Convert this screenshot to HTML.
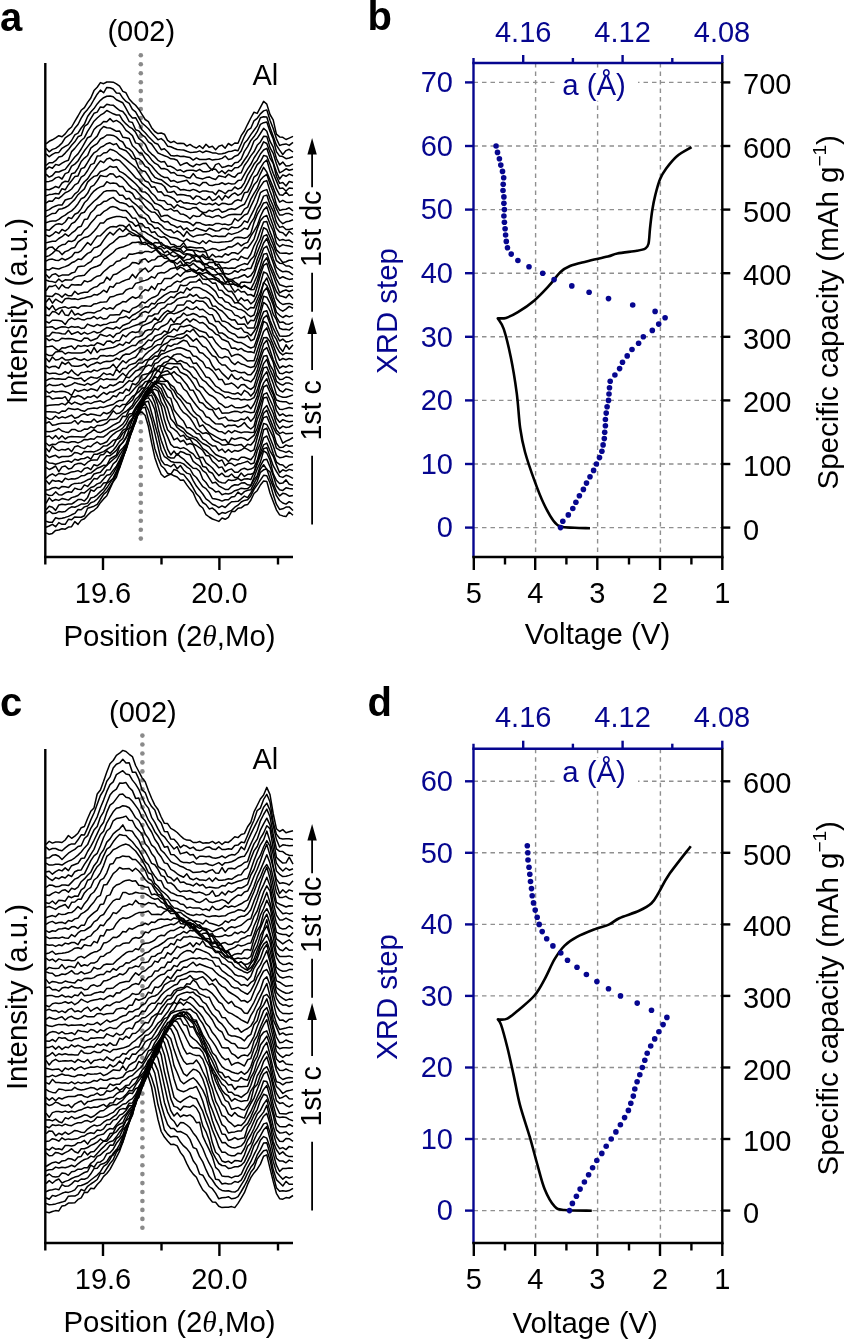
<!DOCTYPE html><html><head><meta charset="utf-8"><style>html,body{margin:0;padding:0;background:#fff;overflow:hidden}svg{display:block;will-change:transform}text{font-family:"Liberation Sans",sans-serif}</style></head><body>
<svg width="845" height="1341" viewBox="0 0 845 1341">
<rect width="845" height="1341" fill="#fff"/>
<text x="0.0" y="31.0" font-size="40" text-anchor="start" fill="#000" font-weight="bold" >a</text>
<text x="141.3" y="41.0" font-size="29" text-anchor="middle" fill="#000" font-weight="normal" >(002)</text>
<g fill="#8a8a8a"><circle cx="140.8" cy="55.3" r="2.3"/><circle cx="140.8" cy="64.2" r="2.3"/><circle cx="140.8" cy="73.2" r="2.3"/><circle cx="140.8" cy="82.2" r="2.3"/><circle cx="140.8" cy="91.1" r="2.3"/><circle cx="140.8" cy="100.1" r="2.3"/><circle cx="140.8" cy="109.0" r="2.3"/><circle cx="140.8" cy="118.0" r="2.3"/><circle cx="140.8" cy="126.9" r="2.3"/><circle cx="140.8" cy="135.9" r="2.3"/><circle cx="140.8" cy="144.8" r="2.3"/><circle cx="140.8" cy="153.8" r="2.3"/><circle cx="140.8" cy="162.7" r="2.3"/><circle cx="140.8" cy="171.7" r="2.3"/><circle cx="140.8" cy="180.6" r="2.3"/><circle cx="140.8" cy="189.6" r="2.3"/><circle cx="140.8" cy="198.5" r="2.3"/><circle cx="140.8" cy="207.4" r="2.3"/><circle cx="140.8" cy="216.4" r="2.3"/><circle cx="140.8" cy="225.4" r="2.3"/><circle cx="140.8" cy="234.3" r="2.3"/><circle cx="140.8" cy="243.2" r="2.3"/><circle cx="140.8" cy="252.2" r="2.3"/><circle cx="140.8" cy="261.2" r="2.3"/><circle cx="140.8" cy="270.1" r="2.3"/><circle cx="140.8" cy="279.1" r="2.3"/><circle cx="140.8" cy="288.0" r="2.3"/><circle cx="140.8" cy="297.0" r="2.3"/><circle cx="140.8" cy="305.9" r="2.3"/><circle cx="140.8" cy="314.9" r="2.3"/><circle cx="140.8" cy="323.8" r="2.3"/><circle cx="140.8" cy="332.8" r="2.3"/><circle cx="140.8" cy="341.7" r="2.3"/><circle cx="140.8" cy="350.7" r="2.3"/><circle cx="140.8" cy="359.6" r="2.3"/><circle cx="140.8" cy="368.6" r="2.3"/><circle cx="140.8" cy="377.5" r="2.3"/><circle cx="140.8" cy="386.5" r="2.3"/><circle cx="140.8" cy="395.4" r="2.3"/><circle cx="140.8" cy="404.4" r="2.3"/><circle cx="140.8" cy="413.3" r="2.3"/><circle cx="140.8" cy="422.3" r="2.3"/><circle cx="140.8" cy="431.2" r="2.3"/><circle cx="140.8" cy="440.2" r="2.3"/><circle cx="140.8" cy="449.1" r="2.3"/><circle cx="140.8" cy="458.1" r="2.3"/><circle cx="140.8" cy="467.0" r="2.3"/><circle cx="140.8" cy="476.0" r="2.3"/><circle cx="140.8" cy="484.9" r="2.3"/><circle cx="140.8" cy="493.9" r="2.3"/><circle cx="140.8" cy="502.8" r="2.3"/><circle cx="140.8" cy="511.8" r="2.3"/><circle cx="140.8" cy="520.7" r="2.3"/><circle cx="140.8" cy="529.7" r="2.3"/><circle cx="140.8" cy="538.6" r="2.3"/></g>
<g fill="none" stroke="#000" stroke-width="1.5" stroke-linejoin="round">
<path d="M46.0,532.9 L49.2,534.2 L52.4,533.4 L55.6,530.4 L58.8,530.0 L62.0,528.7 L65.2,529.2 L68.4,527.1 L71.6,526.7 L74.8,521.6 L78.0,524.4 L81.2,520.1 L84.4,518.8 L87.6,515.2 L90.8,512.1 L94.0,510.3 L97.2,507.5 L100.4,502.7 L103.6,498.9 L106.8,495.7 L110.0,488.6 L113.2,481.8 L116.4,477.3 L119.6,467.5 L122.8,456.2 L126.0,447.1 L129.2,436.7 L132.4,425.5 L135.6,416.7 L138.8,413.0 L142.0,412.0 L145.2,415.5 L148.4,426.5 L151.6,442.8 L154.8,457.4 L158.0,466.8 L161.2,474.2 L164.4,477.3 L167.6,475.5 L170.8,474.0 L174.0,475.8 L177.2,477.0 L180.4,480.3 L183.6,480.1 L186.8,484.9 L190.0,489.1 L193.2,492.8 L196.4,500.2 L199.6,505.4 L202.8,508.0 L206.0,514.7 L209.2,517.0 L212.4,519.0 L215.6,520.1 L218.8,521.4 L222.0,518.0 L225.2,519.3 L228.4,517.3 L231.6,511.5 L234.8,511.6 L238.0,508.3 L241.2,507.8 L244.4,505.3 L247.6,504.6 L250.8,500.3 L254.0,493.5 L257.2,490.7 L260.4,485.0 L263.6,481.0 L266.8,481.4 L270.0,493.0 L273.2,501.6 L276.4,509.8 L279.6,514.9 L282.8,515.9 L286.0,516.6 L289.2,512.0 L293.0,515.2"/>
<path d="M46.0,527.2 L49.2,526.0 L52.4,524.3 L55.6,526.7 L58.8,522.6 L62.0,524.3 L65.2,524.3 L68.4,519.3 L71.6,519.8 L74.8,516.9 L78.0,517.3 L81.2,517.2 L84.4,515.7 L87.6,508.3 L90.8,507.3 L94.0,506.2 L97.2,504.4 L100.4,499.5 L103.6,494.3 L106.8,491.7 L110.0,486.7 L113.2,481.1 L116.4,474.0 L119.6,467.9 L122.8,459.0 L126.0,448.5 L129.2,437.9 L132.4,426.2 L135.6,418.3 L138.8,413.8 L142.0,407.9 L145.2,407.2 L148.4,419.5 L151.6,431.8 L154.8,448.4 L158.0,458.0 L161.2,465.7 L164.4,468.5 L167.6,473.3 L170.8,474.4 L174.0,469.5 L177.2,470.5 L180.4,473.8 L183.6,474.4 L186.8,478.6 L190.0,482.5 L193.2,487.8 L196.4,493.8 L199.6,497.0 L202.8,502.5 L206.0,504.6 L209.2,508.9 L212.4,508.1 L215.6,510.7 L218.8,514.6 L222.0,512.6 L225.2,513.3 L228.4,511.6 L231.6,510.4 L234.8,507.2 L238.0,505.2 L241.2,502.0 L244.4,500.4 L247.6,499.8 L250.8,495.9 L254.0,489.4 L257.2,484.9 L260.4,480.2 L263.6,475.3 L266.8,475.8 L270.0,483.0 L273.2,494.6 L276.4,504.2 L279.6,509.4 L282.8,508.8 L286.0,507.1 L289.2,506.9 L293.0,510.5"/>
<path d="M46.0,521.3 L49.2,522.3 L52.4,522.3 L55.6,517.8 L58.8,518.8 L62.0,518.2 L65.2,517.4 L68.4,516.4 L71.6,514.8 L74.8,513.4 L78.0,509.6 L81.2,509.7 L84.4,506.9 L87.6,506.0 L90.8,502.8 L94.0,501.6 L97.2,499.0 L100.4,495.3 L103.6,491.9 L106.8,487.8 L110.0,482.9 L113.2,478.4 L116.4,472.1 L119.6,466.4 L122.8,457.9 L126.0,449.5 L129.2,437.0 L132.4,429.9 L135.6,418.4 L138.8,410.8 L142.0,406.3 L145.2,403.8 L148.4,409.8 L151.6,419.7 L154.8,433.1 L158.0,446.8 L161.2,460.0 L164.4,464.4 L167.6,465.1 L170.8,466.7 L174.0,464.0 L177.2,468.8 L180.4,465.5 L183.6,470.2 L186.8,473.1 L190.0,474.1 L193.2,480.6 L196.4,486.1 L199.6,489.9 L202.8,494.0 L206.0,498.9 L209.2,501.2 L212.4,504.2 L215.6,505.5 L218.8,507.7 L222.0,505.8 L225.2,507.5 L228.4,504.4 L231.6,501.7 L234.8,501.6 L238.0,501.3 L241.2,498.8 L244.4,496.1 L247.6,497.6 L250.8,492.8 L254.0,487.1 L257.2,481.5 L260.4,472.3 L263.6,469.8 L266.8,469.1 L270.0,478.6 L273.2,486.6 L276.4,495.7 L279.6,500.5 L282.8,503.0 L286.0,504.1 L289.2,501.7 L293.0,503.1"/>
<path d="M46.0,513.6 L49.2,511.0 L52.4,513.4 L55.6,513.3 L58.8,511.6 L62.0,511.9 L65.2,511.5 L68.4,508.7 L71.6,506.8 L74.8,507.3 L78.0,505.9 L81.2,504.1 L84.4,504.1 L87.6,503.1 L90.8,498.0 L94.0,497.1 L97.2,494.8 L100.4,491.6 L103.6,488.8 L106.8,483.4 L110.0,481.0 L113.2,478.3 L116.4,471.3 L119.6,463.2 L122.8,457.5 L126.0,450.0 L129.2,439.5 L132.4,428.5 L135.6,422.0 L138.8,410.0 L142.0,406.2 L145.2,402.0 L148.4,401.3 L151.6,412.7 L154.8,424.2 L158.0,435.9 L161.2,450.0 L164.4,456.7 L167.6,458.7 L170.8,461.4 L174.0,462.2 L177.2,462.4 L180.4,462.6 L183.6,463.9 L186.8,466.8 L190.0,469.0 L193.2,474.7 L196.4,477.5 L199.6,482.1 L202.8,486.7 L206.0,488.6 L209.2,492.6 L212.4,498.5 L215.6,499.1 L218.8,499.7 L222.0,501.1 L225.2,499.7 L228.4,499.7 L231.6,496.9 L234.8,496.4 L238.0,492.1 L241.2,494.7 L244.4,491.6 L247.6,490.2 L250.8,489.8 L254.0,483.3 L257.2,477.4 L260.4,469.1 L263.6,464.7 L266.8,469.5 L270.0,471.9 L273.2,483.0 L276.4,491.2 L279.6,495.9 L282.8,493.3 L286.0,494.1 L289.2,496.2 L293.0,495.4"/>
<path d="M46.0,509.8 L49.2,506.3 L52.4,507.2 L55.6,510.4 L58.8,505.0 L62.0,504.2 L65.2,504.7 L68.4,503.9 L71.6,504.1 L74.8,502.0 L78.0,499.6 L81.2,499.4 L84.4,501.1 L87.6,497.4 L90.8,489.9 L94.0,491.2 L97.2,487.7 L100.4,487.1 L103.6,483.0 L106.8,482.6 L110.0,477.6 L113.2,473.4 L116.4,467.7 L119.6,461.7 L122.8,455.6 L126.0,449.2 L129.2,439.5 L132.4,429.1 L135.6,422.0 L138.8,412.1 L142.0,404.8 L145.2,399.2 L148.4,397.6 L151.6,402.1 L154.8,409.7 L158.0,428.1 L161.2,440.3 L164.4,449.0 L167.6,456.5 L170.8,458.0 L174.0,458.1 L177.2,453.7 L180.4,456.9 L183.6,459.1 L186.8,462.4 L190.0,465.4 L193.2,468.2 L196.4,468.5 L199.6,471.3 L202.8,479.2 L206.0,482.5 L209.2,487.4 L212.4,489.0 L215.6,491.9 L218.8,491.2 L222.0,494.7 L225.2,493.6 L228.4,494.0 L231.6,493.0 L234.8,490.7 L238.0,489.8 L241.2,488.2 L244.4,488.8 L247.6,488.6 L250.8,486.0 L254.0,479.6 L257.2,475.6 L260.4,465.8 L263.6,460.1 L266.8,459.3 L270.0,466.8 L273.2,475.4 L276.4,485.7 L279.6,489.8 L282.8,490.4 L286.0,487.8 L289.2,488.6 L293.0,489.1"/>
<path d="M46.0,503.4 L49.2,497.8 L52.4,501.2 L55.6,499.5 L58.8,500.4 L62.0,498.6 L65.2,499.2 L68.4,500.1 L71.6,497.6 L74.8,496.7 L78.0,495.5 L81.2,492.6 L84.4,492.9 L87.6,490.2 L90.8,487.5 L94.0,486.5 L97.2,483.9 L100.4,482.7 L103.6,478.9 L106.8,475.2 L110.0,474.5 L113.2,470.1 L116.4,466.1 L119.6,460.0 L122.8,453.0 L126.0,445.6 L129.2,437.8 L132.4,430.7 L135.6,420.7 L138.8,409.9 L142.0,404.5 L145.2,397.1 L148.4,396.0 L151.6,395.1 L154.8,402.6 L158.0,416.5 L161.2,429.2 L164.4,438.2 L167.6,449.1 L170.8,454.9 L174.0,451.0 L177.2,455.2 L180.4,451.5 L183.6,452.5 L186.8,454.3 L190.0,454.8 L193.2,461.4 L196.4,463.8 L199.6,466.0 L202.8,470.7 L206.0,472.9 L209.2,478.2 L212.4,483.1 L215.6,482.2 L218.8,485.8 L222.0,487.7 L225.2,489.4 L228.4,489.5 L231.6,486.2 L234.8,484.7 L238.0,485.1 L241.2,483.1 L244.4,482.7 L247.6,484.8 L250.8,485.2 L254.0,477.6 L257.2,469.0 L260.4,462.1 L263.6,450.9 L266.8,453.0 L270.0,460.2 L273.2,473.6 L276.4,480.3 L279.6,483.5 L282.8,483.1 L286.0,479.9 L289.2,484.2 L293.0,485.3"/>
<path d="M46.0,493.9 L49.2,495.5 L52.4,495.3 L55.6,491.9 L58.8,494.8 L62.0,494.9 L65.2,492.8 L68.4,491.8 L71.6,492.2 L74.8,488.1 L78.0,489.3 L81.2,489.4 L84.4,484.9 L87.6,486.4 L90.8,482.8 L94.0,478.6 L97.2,479.1 L100.4,475.6 L103.6,474.8 L106.8,469.9 L110.0,469.8 L113.2,463.8 L116.4,461.2 L119.6,455.2 L122.8,450.1 L126.0,445.7 L129.2,437.0 L132.4,428.0 L135.6,418.3 L138.8,413.3 L142.0,405.2 L145.2,397.8 L148.4,394.7 L151.6,391.8 L154.8,396.2 L158.0,405.6 L161.2,418.6 L164.4,429.6 L167.6,436.9 L170.8,444.4 L174.0,447.2 L177.2,447.2 L180.4,448.6 L183.6,447.6 L186.8,449.3 L190.0,452.0 L193.2,453.9 L196.4,458.1 L199.6,459.0 L202.8,466.4 L206.0,467.2 L209.2,471.7 L212.4,473.2 L215.6,478.6 L218.8,481.6 L222.0,482.7 L225.2,483.0 L228.4,479.8 L231.6,480.4 L234.8,480.0 L238.0,478.4 L241.2,480.5 L244.4,478.9 L247.6,478.8 L250.8,479.6 L254.0,472.8 L257.2,464.3 L260.4,455.6 L263.6,448.8 L266.8,447.6 L270.0,456.4 L273.2,465.7 L276.4,471.4 L279.6,476.4 L282.8,477.4 L286.0,475.3 L289.2,476.3 L293.0,478.3"/>
<path d="M46.0,490.0 L49.2,489.7 L52.4,488.0 L55.6,487.4 L58.8,488.8 L62.0,486.4 L65.2,486.8 L68.4,487.6 L71.6,484.6 L74.8,483.4 L78.0,483.3 L81.2,483.0 L84.4,481.6 L87.6,479.8 L90.8,478.7 L94.0,474.0 L97.2,473.0 L100.4,472.2 L103.6,468.4 L106.8,465.2 L110.0,462.4 L113.2,459.5 L116.4,456.8 L119.6,451.3 L122.8,447.9 L126.0,444.0 L129.2,434.7 L132.4,429.0 L135.6,419.7 L138.8,409.7 L142.0,403.5 L145.2,396.3 L148.4,394.2 L151.6,389.3 L154.8,394.3 L158.0,399.8 L161.2,405.8 L164.4,419.8 L167.6,429.8 L170.8,433.3 L174.0,439.8 L177.2,438.1 L180.4,441.8 L183.6,440.3 L186.8,444.7 L190.0,443.5 L193.2,444.7 L196.4,451.7 L199.6,457.6 L202.8,457.2 L206.0,462.8 L209.2,465.3 L212.4,468.0 L215.6,472.0 L218.8,475.6 L222.0,473.2 L225.2,476.6 L228.4,476.6 L231.6,474.0 L234.8,477.6 L238.0,477.4 L241.2,473.0 L244.4,476.4 L247.6,474.3 L250.8,474.3 L254.0,473.0 L257.2,462.2 L260.4,452.7 L263.6,444.9 L266.8,443.1 L270.0,450.8 L273.2,456.3 L276.4,464.9 L279.6,472.6 L282.8,469.8 L286.0,471.1 L289.2,469.4 L293.0,470.5"/>
<path d="M46.0,480.4 L49.2,484.1 L52.4,480.2 L55.6,481.2 L58.8,480.8 L62.0,482.2 L65.2,478.2 L68.4,479.6 L71.6,478.7 L74.8,479.0 L78.0,478.0 L81.2,475.8 L84.4,475.6 L87.6,473.5 L90.8,473.1 L94.0,470.7 L97.2,468.2 L100.4,467.0 L103.6,465.3 L106.8,465.4 L110.0,459.0 L113.2,457.0 L116.4,455.1 L119.6,446.3 L122.8,442.1 L126.0,437.4 L129.2,432.6 L132.4,429.1 L135.6,418.8 L138.8,412.2 L142.0,403.0 L145.2,393.6 L148.4,389.0 L151.6,390.5 L154.8,389.1 L158.0,391.2 L161.2,401.9 L164.4,407.2 L167.6,419.5 L170.8,427.2 L174.0,429.2 L177.2,431.9 L180.4,436.4 L183.6,435.2 L186.8,439.6 L190.0,438.8 L193.2,443.8 L196.4,445.5 L199.6,447.8 L202.8,450.5 L206.0,455.5 L209.2,456.0 L212.4,461.4 L215.6,464.0 L218.8,467.8 L222.0,466.9 L225.2,472.0 L228.4,469.9 L231.6,468.9 L234.8,472.2 L238.0,472.2 L241.2,469.4 L244.4,468.3 L247.6,469.7 L250.8,469.1 L254.0,467.3 L257.2,460.6 L260.4,448.5 L263.6,437.8 L266.8,436.0 L270.0,443.5 L273.2,453.2 L276.4,462.1 L279.6,464.4 L282.8,465.0 L286.0,468.0 L289.2,465.2 L293.0,464.3"/>
<path d="M46.0,478.4 L49.2,475.5 L52.4,473.8 L55.6,475.9 L58.8,473.5 L62.0,473.7 L65.2,474.4 L68.4,473.3 L71.6,471.9 L74.8,471.5 L78.0,470.6 L81.2,472.1 L84.4,468.5 L87.6,467.6 L90.8,469.7 L94.0,464.7 L97.2,465.8 L100.4,463.7 L103.6,459.7 L106.8,455.7 L110.0,455.7 L113.2,453.2 L116.4,450.4 L119.6,445.5 L122.8,442.8 L126.0,438.1 L129.2,429.0 L132.4,425.9 L135.6,417.2 L138.8,408.9 L142.0,402.2 L145.2,398.8 L148.4,392.5 L151.6,385.4 L154.8,386.5 L158.0,388.4 L161.2,393.9 L164.4,401.1 L167.6,408.1 L170.8,418.8 L174.0,422.4 L177.2,427.5 L180.4,430.1 L183.6,432.1 L186.8,436.1 L190.0,437.8 L193.2,438.6 L196.4,440.6 L199.6,443.9 L202.8,448.7 L206.0,450.6 L209.2,453.8 L212.4,455.8 L215.6,458.5 L218.8,461.2 L222.0,460.0 L225.2,465.8 L228.4,463.1 L231.6,463.5 L234.8,465.8 L238.0,464.0 L241.2,463.4 L244.4,462.4 L247.6,461.3 L250.8,464.0 L254.0,463.0 L257.2,451.0 L260.4,443.5 L263.6,429.8 L266.8,428.3 L270.0,438.0 L273.2,445.8 L276.4,455.6 L279.6,457.7 L282.8,457.3 L286.0,456.0 L289.2,456.8 L293.0,456.9"/>
<path d="M46.0,467.3 L49.2,469.5 L52.4,468.0 L55.6,466.0 L58.8,471.7 L62.0,466.9 L65.2,466.0 L68.4,468.9 L71.6,468.3 L74.8,464.6 L78.0,463.5 L81.2,463.3 L84.4,465.2 L87.6,462.2 L90.8,460.3 L94.0,460.0 L97.2,460.1 L100.4,454.9 L103.6,454.4 L106.8,450.9 L110.0,453.4 L113.2,450.3 L116.4,446.2 L119.6,441.4 L122.8,438.5 L126.0,430.3 L129.2,428.2 L132.4,420.1 L135.6,413.6 L138.8,407.6 L142.0,401.3 L145.2,396.3 L148.4,391.3 L151.6,386.9 L154.8,383.2 L158.0,386.0 L161.2,388.8 L164.4,396.9 L167.6,401.5 L170.8,406.5 L174.0,416.1 L177.2,424.9 L180.4,426.5 L183.6,428.5 L186.8,432.5 L190.0,434.4 L193.2,436.6 L196.4,437.6 L199.6,440.8 L202.8,443.5 L206.0,445.0 L209.2,446.9 L212.4,451.1 L215.6,454.5 L218.8,456.0 L222.0,457.2 L225.2,458.2 L228.4,461.5 L231.6,458.4 L234.8,459.2 L238.0,460.1 L241.2,457.2 L244.4,457.3 L247.6,458.5 L250.8,459.8 L254.0,455.6 L257.2,446.5 L260.4,435.5 L263.6,423.4 L266.8,424.5 L270.0,430.7 L273.2,437.2 L276.4,448.2 L279.6,450.2 L282.8,451.1 L286.0,452.4 L289.2,451.0 L293.0,453.6"/>
<path d="M46.0,460.9 L49.2,463.1 L52.4,463.3 L55.6,464.3 L58.8,463.3 L62.0,462.1 L65.2,461.6 L68.4,461.0 L71.6,462.2 L74.8,459.3 L78.0,460.3 L81.2,458.8 L84.4,458.5 L87.6,456.9 L90.8,459.1 L94.0,454.2 L97.2,454.2 L100.4,452.7 L103.6,451.6 L106.8,449.5 L110.0,447.4 L113.2,445.7 L116.4,439.6 L119.6,438.4 L122.8,433.0 L126.0,430.6 L129.2,423.8 L132.4,418.5 L135.6,413.8 L138.8,409.5 L142.0,402.1 L145.2,396.0 L148.4,392.4 L151.6,385.4 L154.8,381.3 L158.0,382.6 L161.2,384.4 L164.4,390.3 L167.6,396.9 L170.8,398.4 L174.0,409.7 L177.2,414.1 L180.4,417.9 L183.6,421.3 L186.8,427.7 L190.0,427.8 L193.2,430.1 L196.4,433.6 L199.6,434.1 L202.8,439.1 L206.0,440.7 L209.2,443.7 L212.4,445.9 L215.6,446.0 L218.8,450.9 L222.0,449.1 L225.2,452.5 L228.4,449.6 L231.6,452.3 L234.8,450.4 L238.0,451.2 L241.2,450.0 L244.4,447.8 L247.6,449.4 L250.8,451.4 L254.0,449.8 L257.2,437.8 L260.4,426.3 L263.6,417.6 L266.8,416.5 L270.0,424.0 L273.2,432.2 L276.4,443.3 L279.6,447.6 L282.8,447.3 L286.0,444.9 L289.2,446.2 L293.0,445.7"/>
<path d="M46.0,454.5 L49.2,457.5 L52.4,456.3 L55.6,455.3 L58.8,457.7 L62.0,456.5 L65.2,456.4 L68.4,456.5 L71.6,455.5 L74.8,452.4 L78.0,453.1 L81.2,454.5 L84.4,451.4 L87.6,451.8 L90.8,451.4 L94.0,451.9 L97.2,450.6 L100.4,448.8 L103.6,445.9 L106.8,445.8 L110.0,443.3 L113.2,440.2 L116.4,439.6 L119.6,435.4 L122.8,430.2 L126.0,428.8 L129.2,422.1 L132.4,418.2 L135.6,409.8 L138.8,406.2 L142.0,399.3 L145.2,393.9 L148.4,387.9 L151.6,389.5 L154.8,383.7 L158.0,382.7 L161.2,383.8 L164.4,384.2 L167.6,388.6 L170.8,390.8 L174.0,398.1 L177.2,402.5 L180.4,408.6 L183.6,412.7 L186.8,414.7 L190.0,418.0 L193.2,422.8 L196.4,428.5 L199.6,431.0 L202.8,433.6 L206.0,432.8 L209.2,434.2 L212.4,439.1 L215.6,441.3 L218.8,442.5 L222.0,444.9 L225.2,445.0 L228.4,444.0 L231.6,444.4 L234.8,445.5 L238.0,445.0 L241.2,444.4 L244.4,447.5 L247.6,444.2 L250.8,445.1 L254.0,441.3 L257.2,433.0 L260.4,423.6 L263.6,413.3 L266.8,410.3 L270.0,419.1 L273.2,427.1 L276.4,433.4 L279.6,435.7 L282.8,443.2 L286.0,441.1 L289.2,439.8 L293.0,437.5"/>
<path d="M46.0,448.3 L49.2,451.7 L52.4,446.0 L55.6,449.1 L58.8,450.6 L62.0,449.4 L65.2,450.0 L68.4,448.5 L71.6,451.6 L74.8,446.7 L78.0,445.8 L81.2,447.6 L84.4,448.6 L87.6,446.0 L90.8,446.8 L94.0,443.8 L97.2,442.0 L100.4,444.4 L103.6,443.3 L106.8,441.8 L110.0,437.4 L113.2,434.3 L116.4,431.9 L119.6,430.3 L122.8,428.0 L126.0,424.1 L129.2,417.3 L132.4,414.8 L135.6,409.6 L138.8,404.6 L142.0,399.3 L145.2,394.2 L148.4,390.9 L151.6,386.6 L154.8,383.9 L158.0,380.8 L161.2,381.5 L164.4,381.5 L167.6,380.9 L170.8,387.7 L174.0,390.8 L177.2,396.8 L180.4,399.9 L183.6,404.4 L186.8,409.1 L190.0,412.9 L193.2,416.3 L196.4,418.3 L199.6,426.5 L202.8,424.9 L206.0,429.2 L209.2,432.9 L212.4,434.7 L215.6,436.7 L218.8,438.4 L222.0,440.2 L225.2,439.5 L228.4,443.4 L231.6,438.0 L234.8,439.4 L238.0,438.2 L241.2,437.6 L244.4,438.5 L247.6,440.3 L250.8,437.8 L254.0,435.4 L257.2,428.2 L260.4,417.4 L263.6,408.9 L266.8,405.6 L270.0,412.6 L273.2,420.3 L276.4,430.0 L279.6,433.6 L282.8,432.1 L286.0,433.8 L289.2,433.5 L293.0,433.3"/>
<path d="M46.0,443.0 L49.2,445.7 L52.4,444.3 L55.6,444.5 L58.8,442.2 L62.0,441.5 L65.2,442.3 L68.4,442.8 L71.6,441.7 L74.8,441.7 L78.0,442.9 L81.2,441.6 L84.4,439.4 L87.6,439.7 L90.8,438.8 L94.0,439.2 L97.2,436.5 L100.4,436.9 L103.6,436.9 L106.8,434.6 L110.0,431.7 L113.2,430.2 L116.4,428.9 L119.6,426.7 L122.8,424.1 L126.0,419.4 L129.2,413.9 L132.4,413.4 L135.6,407.5 L138.8,403.0 L142.0,398.3 L145.2,392.1 L148.4,389.0 L151.6,386.3 L154.8,384.6 L158.0,381.2 L161.2,375.8 L164.4,379.5 L167.6,381.4 L170.8,384.9 L174.0,387.1 L177.2,393.0 L180.4,395.5 L183.6,399.4 L186.8,402.8 L190.0,403.7 L193.2,410.7 L196.4,414.3 L199.6,416.4 L202.8,421.2 L206.0,423.9 L209.2,425.2 L212.4,427.9 L215.6,429.5 L218.8,431.6 L222.0,431.8 L225.2,433.8 L228.4,430.7 L231.6,432.8 L234.8,430.6 L238.0,431.8 L241.2,432.8 L244.4,431.9 L247.6,431.9 L250.8,432.6 L254.0,432.3 L257.2,419.5 L260.4,411.6 L263.6,397.9 L266.8,397.3 L270.0,406.3 L273.2,413.3 L276.4,423.7 L279.6,428.7 L282.8,426.1 L286.0,427.5 L289.2,427.0 L293.0,424.8"/>
<path d="M46.0,436.9 L49.2,436.0 L52.4,438.7 L55.6,435.6 L58.8,439.0 L62.0,435.8 L65.2,439.0 L68.4,436.9 L71.6,436.6 L74.8,436.8 L78.0,436.7 L81.2,437.0 L84.4,437.1 L87.6,433.9 L90.8,432.1 L94.0,429.6 L97.2,431.9 L100.4,432.6 L103.6,431.0 L106.8,429.4 L110.0,427.3 L113.2,425.1 L116.4,423.5 L119.6,421.9 L122.8,416.2 L126.0,416.4 L129.2,409.9 L132.4,407.8 L135.6,403.0 L138.8,399.1 L142.0,393.9 L145.2,389.5 L148.4,386.8 L151.6,382.1 L154.8,383.8 L158.0,377.6 L161.2,375.6 L164.4,374.9 L167.6,374.3 L170.8,373.6 L174.0,378.7 L177.2,382.3 L180.4,383.3 L183.6,389.0 L186.8,391.3 L190.0,396.8 L193.2,401.3 L196.4,405.5 L199.6,409.3 L202.8,411.3 L206.0,416.7 L209.2,417.7 L212.4,421.2 L215.6,423.8 L218.8,424.0 L222.0,423.9 L225.2,427.2 L228.4,425.2 L231.6,425.5 L234.8,424.9 L238.0,427.1 L241.2,425.5 L244.4,422.5 L247.6,426.7 L250.8,429.0 L254.0,426.3 L257.2,413.9 L260.4,404.2 L263.6,394.4 L266.8,392.8 L270.0,399.8 L273.2,406.7 L276.4,418.2 L279.6,422.3 L282.8,419.7 L286.0,420.9 L289.2,421.7 L293.0,421.2"/>
<path d="M46.0,431.4 L49.2,431.7 L52.4,431.3 L55.6,430.3 L58.8,428.5 L62.0,431.0 L65.2,431.9 L68.4,432.5 L71.6,429.6 L74.8,429.4 L78.0,431.2 L81.2,430.9 L84.4,429.1 L87.6,429.2 L90.8,426.8 L94.0,428.1 L97.2,425.5 L100.4,425.6 L103.6,424.7 L106.8,423.0 L110.0,419.4 L113.2,419.5 L116.4,419.1 L119.6,416.3 L122.8,413.3 L126.0,411.5 L129.2,408.6 L132.4,405.2 L135.6,399.2 L138.8,396.4 L142.0,391.9 L145.2,387.2 L148.4,382.5 L151.6,380.9 L154.8,376.7 L158.0,378.2 L161.2,373.1 L164.4,371.6 L167.6,370.8 L170.8,374.1 L174.0,371.6 L177.2,374.7 L180.4,376.7 L183.6,380.8 L186.8,384.5 L190.0,389.9 L193.2,390.3 L196.4,396.2 L199.6,402.3 L202.8,403.2 L206.0,407.1 L209.2,409.3 L212.4,409.7 L215.6,415.3 L218.8,418.9 L222.0,418.1 L225.2,417.1 L228.4,420.4 L231.6,420.2 L234.8,421.3 L238.0,420.8 L241.2,418.9 L244.4,419.7 L247.6,417.0 L250.8,421.3 L254.0,417.8 L257.2,409.8 L260.4,399.2 L263.6,387.0 L266.8,385.1 L270.0,392.3 L273.2,399.2 L276.4,410.7 L279.6,415.5 L282.8,413.8 L286.0,416.2 L289.2,415.3 L293.0,415.7"/>
<path d="M46.0,423.2 L49.2,421.8 L52.4,425.2 L55.6,424.8 L58.8,423.8 L62.0,423.2 L65.2,423.3 L68.4,423.3 L71.6,422.7 L74.8,420.5 L78.0,424.1 L81.2,420.7 L84.4,422.0 L87.6,421.7 L90.8,422.1 L94.0,419.0 L97.2,422.2 L100.4,420.8 L103.6,420.0 L106.8,419.6 L110.0,415.5 L113.2,410.8 L116.4,413.7 L119.6,413.0 L122.8,410.4 L126.0,405.4 L129.2,403.0 L132.4,400.3 L135.6,394.0 L138.8,391.9 L142.0,388.2 L145.2,387.5 L148.4,380.8 L151.6,380.4 L154.8,375.2 L158.0,370.1 L161.2,373.2 L164.4,367.2 L167.6,368.3 L170.8,369.4 L174.0,366.8 L177.2,367.2 L180.4,372.3 L183.6,373.7 L186.8,375.2 L190.0,378.9 L193.2,383.5 L196.4,389.1 L199.6,391.3 L202.8,396.4 L206.0,401.4 L209.2,404.2 L212.4,407.3 L215.6,409.6 L218.8,407.8 L222.0,413.2 L225.2,413.1 L228.4,413.1 L231.6,412.0 L234.8,411.2 L238.0,411.6 L241.2,412.8 L244.4,411.2 L247.6,412.0 L250.8,412.7 L254.0,412.2 L257.2,401.7 L260.4,391.3 L263.6,382.9 L266.8,378.7 L270.0,388.0 L273.2,394.3 L276.4,405.1 L279.6,409.2 L282.8,409.4 L286.0,408.4 L289.2,407.6 L293.0,408.5"/>
<path d="M46.0,417.2 L49.2,419.2 L52.4,418.9 L55.6,416.0 L58.8,418.4 L62.0,416.8 L65.2,417.9 L68.4,416.5 L71.6,415.1 L74.8,418.3 L78.0,417.3 L81.2,414.9 L84.4,413.7 L87.6,415.2 L90.8,414.0 L94.0,414.6 L97.2,415.3 L100.4,415.8 L103.6,412.5 L106.8,413.8 L110.0,412.3 L113.2,408.8 L116.4,405.4 L119.6,406.9 L122.8,404.4 L126.0,404.3 L129.2,400.4 L132.4,396.5 L135.6,394.6 L138.8,387.6 L142.0,385.8 L145.2,381.7 L148.4,381.0 L151.6,376.1 L154.8,368.1 L158.0,371.4 L161.2,365.9 L164.4,366.3 L167.6,363.2 L170.8,363.4 L174.0,363.7 L177.2,363.7 L180.4,363.6 L183.6,368.8 L186.8,370.1 L190.0,372.7 L193.2,377.1 L196.4,379.0 L199.6,386.0 L202.8,387.5 L206.0,391.4 L209.2,394.8 L212.4,396.2 L215.6,398.6 L218.8,402.8 L222.0,404.7 L225.2,407.4 L228.4,406.9 L231.6,405.2 L234.8,407.4 L238.0,407.7 L241.2,407.7 L244.4,406.8 L247.6,405.0 L250.8,408.8 L254.0,404.0 L257.2,396.6 L260.4,383.1 L263.6,375.9 L266.8,371.8 L270.0,382.4 L273.2,391.9 L276.4,400.0 L279.6,401.3 L282.8,401.7 L286.0,401.7 L289.2,403.7 L293.0,403.2"/>
<path d="M46.0,411.7 L49.2,411.8 L52.4,412.1 L55.6,412.1 L58.8,413.4 L62.0,411.0 L65.2,411.2 L68.4,408.3 L71.6,408.9 L74.8,409.6 L78.0,408.8 L81.2,410.5 L84.4,411.3 L87.6,409.1 L90.8,408.6 L94.0,408.1 L97.2,408.5 L100.4,406.9 L103.6,407.4 L106.8,406.3 L110.0,405.3 L113.2,404.5 L116.4,402.0 L119.6,400.4 L122.8,400.6 L126.0,395.9 L129.2,394.6 L132.4,390.9 L135.6,387.3 L138.8,384.2 L142.0,380.6 L145.2,378.5 L148.4,374.5 L151.6,371.6 L154.8,370.8 L158.0,366.3 L161.2,365.6 L164.4,362.4 L167.6,361.6 L170.8,358.5 L174.0,358.9 L177.2,362.2 L180.4,360.5 L183.6,362.2 L186.8,363.2 L190.0,366.7 L193.2,367.0 L196.4,370.8 L199.6,376.1 L202.8,380.2 L206.0,382.2 L209.2,385.9 L212.4,388.9 L215.6,392.0 L218.8,393.1 L222.0,394.8 L225.2,398.1 L228.4,396.8 L231.6,398.4 L234.8,398.9 L238.0,398.4 L241.2,400.0 L244.4,399.2 L247.6,400.1 L250.8,399.4 L254.0,397.6 L257.2,390.1 L260.4,379.4 L263.6,367.9 L266.8,367.0 L270.0,374.9 L273.2,383.4 L276.4,394.3 L279.6,396.1 L282.8,397.3 L286.0,397.2 L289.2,396.2 L293.0,394.9"/>
<path d="M46.0,405.9 L49.2,405.2 L52.4,404.9 L55.6,404.8 L58.8,404.7 L62.0,403.4 L65.2,404.9 L68.4,401.9 L71.6,404.2 L74.8,402.1 L78.0,403.5 L81.2,404.7 L84.4,403.1 L87.6,402.6 L90.8,403.6 L94.0,402.1 L97.2,401.4 L100.4,400.8 L103.6,402.6 L106.8,400.6 L110.0,399.3 L113.2,395.8 L116.4,396.8 L119.6,392.6 L122.8,393.2 L126.0,389.0 L129.2,390.9 L132.4,383.5 L135.6,384.8 L138.8,381.5 L142.0,375.1 L145.2,374.2 L148.4,373.5 L151.6,370.2 L154.8,363.6 L158.0,362.5 L161.2,359.2 L164.4,357.3 L167.6,356.1 L170.8,358.1 L174.0,354.9 L177.2,354.0 L180.4,353.9 L183.6,356.1 L186.8,357.7 L190.0,357.6 L193.2,363.5 L196.4,363.0 L199.6,367.4 L202.8,371.9 L206.0,377.1 L209.2,377.7 L212.4,381.8 L215.6,386.1 L218.8,387.8 L222.0,390.6 L225.2,392.1 L228.4,392.2 L231.6,393.4 L234.8,394.0 L238.0,392.8 L241.2,395.1 L244.4,390.4 L247.6,392.3 L250.8,396.1 L254.0,392.6 L257.2,382.1 L260.4,373.0 L263.6,363.6 L266.8,359.4 L270.0,369.3 L273.2,376.6 L276.4,385.7 L279.6,390.3 L282.8,392.0 L286.0,388.9 L289.2,389.8 L293.0,391.1"/>
<path d="M46.0,396.8 L49.2,396.3 L52.4,399.1 L55.6,398.2 L58.8,398.0 L62.0,398.3 L65.2,396.7 L68.4,401.8 L71.6,396.4 L74.8,397.0 L78.0,395.5 L81.2,396.7 L84.4,399.1 L87.6,396.8 L90.8,397.2 L94.0,395.3 L97.2,397.9 L100.4,395.1 L103.6,392.5 L106.8,394.4 L110.0,391.9 L113.2,392.0 L116.4,390.1 L119.6,388.7 L122.8,386.8 L126.0,383.5 L129.2,380.6 L132.4,381.6 L135.6,377.7 L138.8,375.6 L142.0,371.9 L145.2,367.0 L148.4,365.1 L151.6,365.9 L154.8,360.2 L158.0,358.1 L161.2,354.3 L164.4,353.3 L167.6,351.7 L170.8,350.4 L174.0,349.4 L177.2,348.0 L180.4,347.8 L183.6,348.8 L186.8,350.3 L190.0,351.3 L193.2,356.0 L196.4,356.6 L199.6,359.6 L202.8,361.8 L206.0,367.5 L209.2,368.1 L212.4,370.6 L215.6,374.6 L218.8,379.5 L222.0,379.4 L225.2,384.6 L228.4,384.1 L231.6,383.0 L234.8,385.2 L238.0,388.2 L241.2,384.8 L244.4,384.6 L247.6,387.6 L250.8,389.4 L254.0,386.9 L257.2,376.1 L260.4,366.3 L263.6,356.2 L266.8,355.4 L270.0,364.9 L273.2,370.4 L276.4,381.3 L279.6,383.7 L282.8,385.1 L286.0,382.9 L289.2,383.1 L293.0,384.6"/>
<path d="M46.0,390.8 L49.2,393.1 L52.4,391.1 L55.6,391.9 L58.8,391.6 L62.0,391.2 L65.2,391.7 L68.4,392.9 L71.6,395.5 L74.8,389.6 L78.0,391.4 L81.2,390.6 L84.4,389.4 L87.6,390.7 L90.8,388.8 L94.0,389.5 L97.2,390.8 L100.4,385.8 L103.6,388.2 L106.8,387.6 L110.0,384.8 L113.2,385.7 L116.4,384.2 L119.6,381.8 L122.8,382.3 L126.0,377.1 L129.2,377.8 L132.4,374.5 L135.6,371.0 L138.8,369.8 L142.0,367.0 L145.2,365.9 L148.4,360.0 L151.6,359.1 L154.8,356.1 L158.0,356.2 L161.2,350.2 L164.4,350.9 L167.6,345.1 L170.8,346.3 L174.0,344.3 L177.2,344.1 L180.4,342.0 L183.6,340.2 L186.8,341.2 L190.0,346.3 L193.2,346.5 L196.4,347.4 L199.6,352.5 L202.8,353.3 L206.0,356.5 L209.2,359.2 L212.4,365.8 L215.6,370.0 L218.8,368.9 L222.0,373.1 L225.2,376.1 L228.4,379.2 L231.6,374.2 L234.8,378.3 L238.0,379.5 L241.2,377.0 L244.4,380.0 L247.6,380.4 L250.8,381.9 L254.0,378.2 L257.2,370.6 L260.4,358.8 L263.6,350.1 L266.8,347.6 L270.0,355.1 L273.2,362.3 L276.4,375.5 L279.6,379.4 L282.8,379.2 L286.0,377.0 L289.2,377.4 L293.0,380.1"/>
<path d="M46.0,386.5 L49.2,384.3 L52.4,385.4 L55.6,385.5 L58.8,385.0 L62.0,383.9 L65.2,386.8 L68.4,385.8 L71.6,384.6 L74.8,382.6 L78.0,383.8 L81.2,384.4 L84.4,385.3 L87.6,383.4 L90.8,385.0 L94.0,383.3 L97.2,381.7 L100.4,378.4 L103.6,379.9 L106.8,378.7 L110.0,379.6 L113.2,379.2 L116.4,379.5 L119.6,376.2 L122.8,373.2 L126.0,376.2 L129.2,371.6 L132.4,368.8 L135.6,366.7 L138.8,362.9 L142.0,363.1 L145.2,360.3 L148.4,359.3 L151.6,356.0 L154.8,353.2 L158.0,351.2 L161.2,346.7 L164.4,344.2 L167.6,342.7 L170.8,339.4 L174.0,339.4 L177.2,338.0 L180.4,338.5 L183.6,337.2 L186.8,334.7 L190.0,337.9 L193.2,341.1 L196.4,338.6 L199.6,342.4 L202.8,346.2 L206.0,347.4 L209.2,351.7 L212.4,355.7 L215.6,357.0 L218.8,362.2 L222.0,365.0 L225.2,365.0 L228.4,368.5 L231.6,371.2 L234.8,370.4 L238.0,371.9 L241.2,372.7 L244.4,372.2 L247.6,374.7 L250.8,374.8 L254.0,371.1 L257.2,364.3 L260.4,354.4 L263.6,344.1 L266.8,340.2 L270.0,350.0 L273.2,359.8 L276.4,367.4 L279.6,373.3 L282.8,373.7 L286.0,371.8 L289.2,372.7 L293.0,371.3"/>
<path d="M46.0,380.6 L49.2,379.0 L52.4,378.3 L55.6,378.9 L58.8,378.8 L62.0,379.3 L65.2,379.3 L68.4,377.0 L71.6,377.6 L74.8,378.8 L78.0,378.8 L81.2,378.1 L84.4,381.3 L87.6,379.0 L90.8,377.1 L94.0,377.8 L97.2,378.2 L100.4,376.3 L103.6,372.9 L106.8,374.6 L110.0,373.7 L113.2,375.5 L116.4,369.1 L119.6,372.4 L122.8,368.6 L126.0,368.5 L129.2,365.1 L132.4,363.9 L135.6,363.1 L138.8,359.5 L142.0,358.6 L145.2,354.6 L148.4,351.7 L151.6,349.5 L154.8,346.6 L158.0,344.7 L161.2,344.4 L164.4,338.7 L167.6,336.0 L170.8,336.4 L174.0,337.1 L177.2,334.9 L180.4,334.3 L183.6,333.6 L186.8,330.6 L190.0,331.9 L193.2,329.0 L196.4,333.2 L199.6,336.8 L202.8,336.3 L206.0,338.4 L209.2,342.4 L212.4,347.6 L215.6,352.0 L218.8,356.9 L222.0,358.1 L225.2,356.5 L228.4,357.4 L231.6,362.2 L234.8,364.6 L238.0,361.8 L241.2,364.0 L244.4,364.9 L247.6,366.6 L250.8,367.4 L254.0,366.6 L257.2,358.6 L260.4,346.9 L263.6,337.7 L266.8,337.5 L270.0,341.7 L273.2,350.3 L276.4,361.6 L279.6,368.1 L282.8,366.0 L286.0,367.2 L289.2,365.3 L293.0,366.9"/>
<path d="M46.0,372.0 L49.2,373.7 L52.4,373.2 L55.6,373.2 L58.8,374.4 L62.0,373.9 L65.2,371.6 L68.4,373.5 L71.6,369.9 L74.8,373.4 L78.0,375.6 L81.2,372.5 L84.4,372.2 L87.6,371.3 L90.8,372.1 L94.0,370.0 L97.2,371.1 L100.4,369.3 L103.6,368.5 L106.8,368.5 L110.0,367.5 L113.2,364.3 L116.4,368.4 L119.6,364.6 L122.8,360.7 L126.0,363.0 L129.2,359.9 L132.4,358.4 L135.6,357.2 L138.8,352.9 L142.0,348.0 L145.2,349.6 L148.4,347.7 L151.6,346.4 L154.8,341.6 L158.0,339.9 L161.2,338.5 L164.4,335.3 L167.6,333.3 L170.8,332.1 L174.0,328.8 L177.2,330.9 L180.4,326.3 L183.6,326.8 L186.8,325.8 L190.0,325.1 L193.2,327.1 L196.4,328.7 L199.6,330.8 L202.8,331.7 L206.0,332.8 L209.2,337.3 L212.4,337.1 L215.6,342.2 L218.8,345.8 L222.0,348.7 L225.2,348.8 L228.4,350.5 L231.6,356.4 L234.8,354.8 L238.0,354.3 L241.2,355.7 L244.4,358.4 L247.6,361.1 L250.8,360.8 L254.0,360.8 L257.2,350.8 L260.4,341.0 L263.6,331.5 L266.8,327.9 L270.0,337.2 L273.2,344.9 L276.4,353.7 L279.6,360.3 L282.8,358.5 L286.0,359.7 L289.2,358.5 L293.0,359.4"/>
<path d="M46.0,365.7 L49.2,367.8 L52.4,366.4 L55.6,366.3 L58.8,368.4 L62.0,362.1 L65.2,364.4 L68.4,362.1 L71.6,365.7 L74.8,366.2 L78.0,366.3 L81.2,365.6 L84.4,363.9 L87.6,367.1 L90.8,364.9 L94.0,363.7 L97.2,362.2 L100.4,363.7 L103.6,361.9 L106.8,361.3 L110.0,361.4 L113.2,360.6 L116.4,358.2 L119.6,359.8 L122.8,355.5 L126.0,354.0 L129.2,354.3 L132.4,352.4 L135.6,350.5 L138.8,348.0 L142.0,346.5 L145.2,343.6 L148.4,339.9 L151.6,340.8 L154.8,336.2 L158.0,334.9 L161.2,334.0 L164.4,330.9 L167.6,332.5 L170.8,325.0 L174.0,324.2 L177.2,323.8 L180.4,324.3 L183.6,321.1 L186.8,318.8 L190.0,321.9 L193.2,319.0 L196.4,320.5 L199.6,323.0 L202.8,322.6 L206.0,325.0 L209.2,328.7 L212.4,330.5 L215.6,334.1 L218.8,335.3 L222.0,339.2 L225.2,340.5 L228.4,342.0 L231.6,348.3 L234.8,348.0 L238.0,349.9 L241.2,348.4 L244.4,350.8 L247.6,351.9 L250.8,351.7 L254.0,352.9 L257.2,342.7 L260.4,333.3 L263.6,321.5 L266.8,323.1 L270.0,331.2 L273.2,339.5 L276.4,346.9 L279.6,352.3 L282.8,354.9 L286.0,352.9 L289.2,353.6 L293.0,353.4"/>
<path d="M46.0,358.3 L49.2,361.8 L52.4,357.0 L55.6,360.0 L58.8,359.5 L62.0,357.3 L65.2,359.9 L68.4,360.0 L71.6,359.3 L74.8,358.0 L78.0,359.5 L81.2,360.2 L84.4,358.8 L87.6,360.6 L90.8,359.1 L94.0,358.6 L97.2,359.1 L100.4,355.8 L103.6,355.4 L106.8,356.2 L110.0,355.4 L113.2,355.9 L116.4,354.4 L119.6,352.0 L122.8,350.8 L126.0,348.8 L129.2,347.1 L132.4,345.4 L135.6,345.4 L138.8,341.7 L142.0,339.9 L145.2,338.5 L148.4,335.4 L151.6,333.5 L154.8,328.7 L158.0,329.9 L161.2,326.7 L164.4,325.3 L167.6,323.4 L170.8,318.5 L174.0,322.6 L177.2,318.0 L180.4,316.7 L183.6,313.0 L186.8,315.5 L190.0,314.8 L193.2,313.5 L196.4,314.7 L199.6,317.0 L202.8,316.3 L206.0,317.5 L209.2,323.0 L212.4,324.3 L215.6,326.6 L218.8,332.9 L222.0,332.9 L225.2,335.0 L228.4,337.9 L231.6,338.9 L234.8,341.3 L238.0,342.5 L241.2,342.6 L244.4,344.3 L247.6,346.5 L250.8,348.0 L254.0,346.9 L257.2,338.6 L260.4,327.8 L263.6,318.1 L266.8,315.2 L270.0,323.8 L273.2,334.3 L276.4,339.4 L279.6,347.5 L282.8,351.5 L286.0,344.7 L289.2,349.2 L293.0,344.8"/>
<path d="M46.0,354.0 L49.2,355.6 L52.4,355.4 L55.6,352.1 L58.8,351.5 L62.0,351.2 L65.2,354.0 L68.4,352.4 L71.6,352.9 L74.8,353.1 L78.0,353.1 L81.2,353.1 L84.4,352.3 L87.6,349.7 L90.8,353.6 L94.0,347.5 L97.2,352.5 L100.4,349.5 L103.6,349.5 L106.8,348.4 L110.0,347.9 L113.2,347.5 L116.4,346.1 L119.6,344.0 L122.8,345.4 L126.0,342.1 L129.2,343.2 L132.4,339.6 L135.6,337.1 L138.8,336.8 L142.0,335.5 L145.2,331.0 L148.4,329.7 L151.6,329.8 L154.8,324.3 L158.0,322.3 L161.2,321.5 L164.4,317.5 L167.6,313.8 L170.8,312.9 L174.0,313.9 L177.2,312.7 L180.4,311.3 L183.6,309.9 L186.8,306.9 L190.0,308.9 L193.2,309.2 L196.4,306.8 L199.6,309.8 L202.8,309.3 L206.0,312.0 L209.2,314.5 L212.4,314.7 L215.6,321.6 L218.8,321.5 L222.0,325.4 L225.2,327.6 L228.4,331.3 L231.6,333.2 L234.8,334.3 L238.0,337.5 L241.2,337.2 L244.4,337.6 L247.6,335.6 L250.8,340.7 L254.0,339.3 L257.2,330.0 L260.4,319.9 L263.6,311.8 L266.8,310.7 L270.0,320.3 L273.2,328.0 L276.4,334.8 L279.6,341.0 L282.8,339.1 L286.0,341.9 L289.2,341.4 L293.0,340.1"/>
<path d="M46.0,346.8 L49.2,346.6 L52.4,346.0 L55.6,348.6 L58.8,350.9 L62.0,347.8 L65.2,348.0 L68.4,346.7 L71.6,345.9 L74.8,349.2 L78.0,345.6 L81.2,346.4 L84.4,345.5 L87.6,346.2 L90.8,345.1 L94.0,345.6 L97.2,342.7 L100.4,343.8 L103.6,345.2 L106.8,341.3 L110.0,341.0 L113.2,343.0 L116.4,340.7 L119.6,340.5 L122.8,334.9 L126.0,336.8 L129.2,333.4 L132.4,331.7 L135.6,332.4 L138.8,331.7 L142.0,326.1 L145.2,324.6 L148.4,323.2 L151.6,321.7 L154.8,317.9 L158.0,320.6 L161.2,316.2 L164.4,312.8 L167.6,310.5 L170.8,312.5 L174.0,310.6 L177.2,305.3 L180.4,305.0 L183.6,305.1 L186.8,300.9 L190.0,301.0 L193.2,303.3 L196.4,300.4 L199.6,301.3 L202.8,301.2 L206.0,303.7 L209.2,307.9 L212.4,308.6 L215.6,310.8 L218.8,314.8 L222.0,321.0 L225.2,321.6 L228.4,323.1 L231.6,326.1 L234.8,328.2 L238.0,329.2 L241.2,327.9 L244.4,332.1 L247.6,332.8 L250.8,335.8 L254.0,331.5 L257.2,326.2 L260.4,314.1 L263.6,302.4 L266.8,304.8 L270.0,310.8 L273.2,320.7 L276.4,329.2 L279.6,335.9 L282.8,336.2 L286.0,336.2 L289.2,335.6 L293.0,332.5"/>
<path d="M46.0,338.2 L49.2,340.7 L52.4,339.1 L55.6,340.9 L58.8,340.5 L62.0,338.2 L65.2,338.7 L68.4,338.5 L71.6,338.7 L74.8,339.5 L78.0,340.5 L81.2,341.2 L84.4,337.9 L87.6,338.2 L90.8,340.8 L94.0,339.5 L97.2,338.2 L100.4,334.2 L103.6,335.5 L106.8,336.4 L110.0,334.7 L113.2,337.4 L116.4,333.8 L119.6,333.0 L122.8,330.0 L126.0,328.8 L129.2,327.9 L132.4,326.4 L135.6,325.3 L138.8,324.3 L142.0,322.3 L145.2,321.3 L148.4,316.1 L151.6,316.1 L154.8,314.0 L158.0,313.7 L161.2,309.1 L164.4,307.8 L167.6,304.2 L170.8,304.0 L174.0,302.1 L177.2,299.1 L180.4,297.9 L183.6,297.3 L186.8,297.1 L190.0,294.1 L193.2,296.4 L196.4,294.5 L199.6,297.8 L202.8,298.2 L206.0,297.3 L209.2,299.1 L212.4,305.9 L215.6,306.3 L218.8,309.3 L222.0,311.0 L225.2,314.2 L228.4,318.1 L231.6,320.0 L234.8,319.8 L238.0,324.2 L241.2,324.3 L244.4,323.9 L247.6,328.1 L250.8,328.1 L254.0,328.1 L257.2,317.8 L260.4,309.0 L263.6,296.2 L266.8,297.2 L270.0,303.1 L273.2,314.1 L276.4,319.7 L279.6,328.2 L282.8,329.5 L286.0,329.2 L289.2,330.1 L293.0,327.0"/>
<path d="M46.0,336.1 L49.2,336.1 L52.4,332.3 L55.6,332.8 L58.8,333.0 L62.0,333.7 L65.2,333.9 L68.4,330.2 L71.6,334.2 L74.8,333.0 L78.0,331.8 L81.2,334.3 L84.4,332.3 L87.6,334.1 L90.8,332.9 L94.0,331.4 L97.2,333.0 L100.4,332.1 L103.6,329.7 L106.8,327.6 L110.0,328.3 L113.2,329.1 L116.4,327.0 L119.6,328.7 L122.8,325.5 L126.0,324.2 L129.2,323.0 L132.4,319.8 L135.6,319.2 L138.8,316.7 L142.0,312.6 L145.2,311.5 L148.4,312.9 L151.6,309.2 L154.8,307.5 L158.0,303.6 L161.2,302.7 L164.4,302.5 L167.6,299.5 L170.8,296.8 L174.0,297.8 L177.2,294.0 L180.4,292.1 L183.6,292.9 L186.8,287.9 L190.0,290.3 L193.2,287.5 L196.4,287.6 L199.6,287.8 L202.8,289.7 L206.0,291.1 L209.2,293.4 L212.4,295.8 L215.6,300.3 L218.8,303.7 L222.0,305.5 L225.2,308.5 L228.4,309.6 L231.6,310.9 L234.8,315.1 L238.0,316.0 L241.2,318.5 L244.4,316.3 L247.6,324.0 L250.8,320.3 L254.0,320.7 L257.2,313.6 L260.4,300.3 L263.6,291.4 L266.8,287.7 L270.0,297.0 L273.2,305.0 L276.4,317.1 L279.6,322.4 L282.8,321.9 L286.0,324.0 L289.2,324.2 L293.0,322.3"/>
<path d="M46.0,327.2 L49.2,327.1 L52.4,326.8 L55.6,329.2 L58.8,327.7 L62.0,326.8 L65.2,326.9 L68.4,327.9 L71.6,326.5 L74.8,327.3 L78.0,326.7 L81.2,328.4 L84.4,327.9 L87.6,324.1 L90.8,325.6 L94.0,326.4 L97.2,324.4 L100.4,325.7 L103.6,324.5 L106.8,324.2 L110.0,322.6 L113.2,322.3 L116.4,321.7 L119.6,317.9 L122.8,317.6 L126.0,316.2 L129.2,318.5 L132.4,315.2 L135.6,313.7 L138.8,311.7 L142.0,309.0 L145.2,306.8 L148.4,307.0 L151.6,303.3 L154.8,303.9 L158.0,299.9 L161.2,297.7 L164.4,295.2 L167.6,293.4 L170.8,291.7 L174.0,291.9 L177.2,291.3 L180.4,285.1 L183.6,285.7 L186.8,285.3 L190.0,282.2 L193.2,282.0 L196.4,281.8 L199.6,279.1 L202.8,283.8 L206.0,284.1 L209.2,285.9 L212.4,288.6 L215.6,291.6 L218.8,297.5 L222.0,297.8 L225.2,301.7 L228.4,302.6 L231.6,306.1 L234.8,307.2 L238.0,309.2 L241.2,309.6 L244.4,311.3 L247.6,314.6 L250.8,316.7 L254.0,315.0 L257.2,305.1 L260.4,296.4 L263.6,282.5 L266.8,285.5 L270.0,292.6 L273.2,301.8 L276.4,312.3 L279.6,315.3 L282.8,317.5 L286.0,315.5 L289.2,316.9 L293.0,315.6"/>
<path d="M46.0,321.5 L49.2,323.0 L52.4,320.2 L55.6,320.2 L58.8,320.5 L62.0,321.3 L65.2,324.5 L68.4,319.9 L71.6,317.8 L74.8,319.6 L78.0,318.2 L81.2,319.4 L84.4,319.9 L87.6,318.4 L90.8,318.4 L94.0,316.5 L97.2,318.9 L100.4,317.1 L103.6,319.1 L106.8,318.4 L110.0,315.1 L113.2,315.0 L116.4,314.7 L119.6,314.7 L122.8,310.3 L126.0,311.2 L129.2,312.5 L132.4,308.4 L135.6,307.3 L138.8,305.3 L142.0,301.9 L145.2,303.0 L148.4,300.2 L151.6,298.0 L154.8,296.8 L158.0,294.8 L161.2,289.1 L164.4,290.3 L167.6,286.9 L170.8,286.0 L174.0,283.0 L177.2,281.1 L180.4,282.1 L183.6,279.5 L186.8,278.0 L190.0,277.0 L193.2,276.9 L196.4,276.3 L199.6,272.9 L202.8,275.2 L206.0,277.1 L209.2,280.2 L212.4,283.3 L215.6,283.0 L218.8,290.0 L222.0,290.6 L225.2,294.3 L228.4,295.7 L231.6,298.1 L234.8,303.0 L238.0,302.5 L241.2,304.3 L244.4,307.6 L247.6,310.0 L250.8,307.4 L254.0,307.9 L257.2,299.8 L260.4,292.2 L263.6,283.1 L266.8,278.0 L270.0,287.0 L273.2,296.5 L276.4,306.2 L279.6,309.3 L282.8,311.2 L286.0,309.1 L289.2,306.4 L293.0,308.2"/>
<path d="M46.0,315.0 L49.2,315.7 L52.4,311.6 L55.6,312.1 L58.8,314.5 L62.0,309.9 L65.2,315.1 L68.4,315.6 L71.6,310.1 L74.8,315.0 L78.0,313.5 L81.2,315.4 L84.4,313.5 L87.6,312.5 L90.8,312.5 L94.0,313.1 L97.2,311.4 L100.4,310.5 L103.6,307.7 L106.8,309.3 L110.0,307.7 L113.2,309.0 L116.4,305.2 L119.6,303.8 L122.8,301.6 L126.0,301.9 L129.2,299.1 L132.4,296.8 L135.6,298.3 L138.8,296.9 L142.0,292.1 L145.2,289.6 L148.4,290.8 L151.6,286.3 L154.8,289.5 L158.0,283.7 L161.2,283.4 L164.4,278.6 L167.6,278.6 L170.8,278.6 L174.0,276.2 L177.2,273.5 L180.4,276.3 L183.6,272.8 L186.8,270.6 L190.0,269.4 L193.2,269.3 L196.4,271.2 L199.6,268.3 L202.8,269.8 L206.0,269.7 L209.2,274.4 L212.4,274.8 L215.6,279.1 L218.8,281.8 L222.0,283.4 L225.2,288.3 L228.4,291.5 L231.6,291.2 L234.8,295.8 L238.0,301.5 L241.2,297.8 L244.4,300.7 L247.6,299.7 L250.8,303.9 L254.0,301.2 L257.2,294.6 L260.4,283.5 L263.6,272.0 L266.8,273.4 L270.0,280.0 L273.2,287.7 L276.4,298.5 L279.6,302.3 L282.8,304.5 L286.0,303.8 L289.2,303.4 L293.0,304.8"/>
<path d="M46.0,306.6 L49.2,309.6 L52.4,305.5 L55.6,310.3 L58.8,308.3 L62.0,307.6 L65.2,306.8 L68.4,308.4 L71.6,307.3 L74.8,307.0 L78.0,308.3 L81.2,306.0 L84.4,305.8 L87.6,306.1 L90.8,306.3 L94.0,303.9 L97.2,303.4 L100.4,302.2 L103.6,302.0 L106.8,301.7 L110.0,297.0 L113.2,296.6 L116.4,295.1 L119.6,294.3 L122.8,293.8 L126.0,290.0 L129.2,288.6 L132.4,288.2 L135.6,283.4 L138.8,282.5 L142.0,281.3 L145.2,280.4 L148.4,279.2 L151.6,276.6 L154.8,278.2 L158.0,273.4 L161.2,272.6 L164.4,272.9 L167.6,271.1 L170.8,268.7 L174.0,268.0 L177.2,267.4 L180.4,265.3 L183.6,265.3 L186.8,262.4 L190.0,263.2 L193.2,260.5 L196.4,261.3 L199.6,261.1 L202.8,264.8 L206.0,263.6 L209.2,266.5 L212.4,267.3 L215.6,271.2 L218.8,274.2 L222.0,276.7 L225.2,282.2 L228.4,281.6 L231.6,287.3 L234.8,292.2 L238.0,289.2 L241.2,292.0 L244.4,291.4 L247.6,295.1 L250.8,294.5 L254.0,296.5 L257.2,286.6 L260.4,274.7 L263.6,265.4 L266.8,263.3 L270.0,273.6 L273.2,283.9 L276.4,291.5 L279.6,295.7 L282.8,296.5 L286.0,297.8 L289.2,294.3 L293.0,298.4"/>
<path d="M46.0,302.2 L49.2,298.2 L52.4,303.2 L55.6,299.2 L58.8,301.1 L62.0,302.8 L65.2,298.8 L68.4,298.3 L71.6,299.0 L74.8,298.7 L78.0,299.6 L81.2,298.5 L84.4,297.9 L87.6,297.1 L90.8,296.6 L94.0,294.6 L97.2,295.0 L100.4,293.1 L103.6,290.2 L106.8,292.4 L110.0,286.4 L113.2,287.3 L116.4,283.3 L119.6,282.9 L122.8,281.2 L126.0,279.9 L129.2,279.0 L132.4,274.3 L135.6,278.0 L138.8,273.2 L142.0,270.2 L145.2,268.1 L148.4,272.0 L151.6,269.8 L154.8,266.3 L158.0,266.2 L161.2,265.8 L164.4,263.0 L167.6,261.1 L170.8,260.6 L174.0,260.8 L177.2,258.8 L180.4,256.2 L183.6,258.2 L186.8,254.2 L190.0,255.1 L193.2,257.6 L196.4,256.1 L199.6,256.3 L202.8,256.6 L206.0,259.1 L209.2,259.5 L212.4,259.4 L215.6,265.3 L218.8,263.9 L222.0,268.6 L225.2,276.8 L228.4,278.9 L231.6,279.4 L234.8,282.1 L238.0,284.1 L241.2,287.0 L244.4,286.1 L247.6,287.6 L250.8,289.7 L254.0,289.5 L257.2,281.3 L260.4,270.4 L263.6,261.9 L266.8,257.8 L270.0,267.6 L273.2,275.5 L276.4,284.4 L279.6,292.8 L282.8,291.0 L286.0,290.0 L289.2,291.5 L293.0,290.0"/>
<path d="M46.0,296.0 L49.2,296.2 L52.4,296.4 L55.6,293.4 L58.8,294.5 L62.0,297.1 L65.2,294.0 L68.4,295.8 L71.6,295.8 L74.8,291.3 L78.0,294.3 L81.2,292.9 L84.4,292.2 L87.6,292.3 L90.8,289.3 L94.0,287.4 L97.2,286.5 L100.4,283.4 L103.6,282.6 L106.8,277.1 L110.0,280.1 L113.2,274.8 L116.4,274.1 L119.6,271.8 L122.8,269.5 L126.0,267.8 L129.2,266.2 L132.4,262.5 L135.6,262.7 L138.8,264.0 L142.0,259.8 L145.2,258.8 L148.4,262.2 L151.6,260.1 L154.8,259.7 L158.0,256.6 L161.2,256.2 L164.4,256.0 L167.6,254.9 L170.8,253.2 L174.0,250.5 L177.2,250.8 L180.4,249.1 L183.6,252.8 L186.8,249.8 L190.0,249.9 L193.2,250.6 L196.4,250.5 L199.6,251.8 L202.8,251.4 L206.0,252.1 L209.2,259.4 L212.4,259.4 L215.6,263.7 L218.8,267.5 L222.0,272.1 L225.2,276.8 L228.4,281.2 L231.6,281.3 L234.8,285.0 L238.0,284.8 L241.2,288.1 L244.4,285.3 L247.6,287.7 L250.8,289.1 L254.0,282.8 L257.2,275.5 L260.4,265.5 L263.6,254.3 L266.8,253.4 L270.0,263.3 L273.2,270.8 L276.4,279.1 L279.6,284.7 L282.8,285.8 L286.0,286.9 L289.2,286.3 L293.0,286.2"/>
<path d="M46.0,290.7 L49.2,286.3 L52.4,286.4 L55.6,285.1 L58.8,289.1 L62.0,284.6 L65.2,287.4 L68.4,288.1 L71.6,284.6 L74.8,284.9 L78.0,284.7 L81.2,285.0 L84.4,280.8 L87.6,281.9 L90.8,280.8 L94.0,278.2 L97.2,276.2 L100.4,275.5 L103.6,271.8 L106.8,269.1 L110.0,266.2 L113.2,265.1 L116.4,261.6 L119.6,260.8 L122.8,258.2 L126.0,258.0 L129.2,254.1 L132.4,254.2 L135.6,253.6 L138.8,252.8 L142.0,253.1 L145.2,251.4 L148.4,251.5 L151.6,252.4 L154.8,250.4 L158.0,247.3 L161.2,246.3 L164.4,248.7 L167.6,246.8 L170.8,247.4 L174.0,246.5 L177.2,248.5 L180.4,248.6 L183.6,246.0 L186.8,248.9 L190.0,249.7 L193.2,250.4 L196.4,255.8 L199.6,258.0 L202.8,262.5 L206.0,269.5 L209.2,272.2 L212.4,276.0 L215.6,277.4 L218.8,279.1 L222.0,284.4 L225.2,283.6 L228.4,284.6 L231.6,284.0 L234.8,284.2 L238.0,286.7 L241.2,282.3 L244.4,281.9 L247.6,282.5 L250.8,282.5 L254.0,275.4 L257.2,265.4 L260.4,257.4 L263.6,248.4 L266.8,246.2 L270.0,254.2 L273.2,262.9 L276.4,272.8 L279.6,278.5 L282.8,276.7 L286.0,278.2 L289.2,279.4 L293.0,278.7"/>
<path d="M46.0,280.0 L49.2,281.3 L52.4,281.6 L55.6,282.5 L58.8,279.0 L62.0,281.8 L65.2,279.8 L68.4,280.1 L71.6,280.0 L74.8,277.1 L78.0,276.1 L81.2,275.7 L84.4,275.3 L87.6,271.8 L90.8,268.6 L94.0,267.3 L97.2,266.3 L100.4,264.8 L103.6,259.9 L106.8,257.4 L110.0,254.9 L113.2,252.5 L116.4,249.1 L119.6,247.8 L122.8,247.1 L126.0,245.7 L129.2,244.6 L132.4,242.5 L135.6,242.5 L138.8,241.9 L142.0,244.0 L145.2,244.5 L148.4,243.0 L151.6,244.8 L154.8,242.6 L158.0,243.1 L161.2,242.5 L164.4,245.7 L167.6,246.3 L170.8,249.1 L174.0,252.1 L177.2,254.1 L180.4,256.2 L183.6,261.1 L186.8,264.5 L190.0,267.8 L193.2,271.5 L196.4,272.8 L199.6,274.8 L202.8,279.1 L206.0,279.6 L209.2,279.1 L212.4,278.7 L215.6,279.9 L218.8,281.3 L222.0,282.0 L225.2,283.9 L228.4,279.9 L231.6,279.7 L234.8,278.1 L238.0,277.7 L241.2,276.2 L244.4,274.7 L247.6,277.3 L250.8,275.5 L254.0,270.9 L257.2,259.5 L260.4,251.4 L263.6,243.0 L266.8,238.5 L270.0,247.5 L273.2,258.9 L276.4,267.2 L279.6,270.0 L282.8,271.8 L286.0,271.3 L289.2,272.1 L293.0,274.8"/>
<path d="M46.0,274.5 L49.2,277.9 L52.4,274.6 L55.6,273.7 L58.8,276.4 L62.0,275.1 L65.2,275.1 L68.4,275.1 L71.6,273.0 L74.8,272.1 L78.0,266.7 L81.2,266.2 L84.4,266.0 L87.6,263.5 L90.8,261.7 L94.0,257.4 L97.2,256.7 L100.4,254.9 L103.6,250.0 L106.8,247.4 L110.0,244.3 L113.2,242.4 L116.4,239.3 L119.6,236.7 L122.8,236.6 L126.0,235.7 L129.2,233.2 L132.4,235.5 L135.6,235.6 L138.8,236.6 L142.0,236.8 L145.2,239.9 L148.4,242.1 L151.6,242.9 L154.8,247.1 L158.0,250.8 L161.2,253.9 L164.4,254.9 L167.6,257.7 L170.8,261.8 L174.0,262.8 L177.2,269.7 L180.4,267.1 L183.6,268.6 L186.8,271.8 L190.0,271.3 L193.2,269.6 L196.4,273.2 L199.6,272.6 L202.8,273.6 L206.0,272.5 L209.2,273.7 L212.4,274.8 L215.6,275.0 L218.8,273.6 L222.0,274.0 L225.2,273.5 L228.4,274.3 L231.6,273.1 L234.8,270.7 L238.0,272.2 L241.2,269.5 L244.4,270.3 L247.6,268.4 L250.8,268.6 L254.0,261.1 L257.2,252.7 L260.4,244.7 L263.6,236.1 L266.8,234.8 L270.0,243.1 L273.2,249.8 L276.4,260.7 L279.6,263.2 L282.8,263.5 L286.0,266.0 L289.2,266.1 L293.0,268.4"/>
<path d="M46.0,269.5 L49.2,269.9 L52.4,267.8 L55.6,268.4 L58.8,269.0 L62.0,267.6 L65.2,266.6 L68.4,265.3 L71.6,262.8 L74.8,261.5 L78.0,259.1 L81.2,259.6 L84.4,256.4 L87.6,253.4 L90.8,252.0 L94.0,247.9 L97.2,247.0 L100.4,245.0 L103.6,240.1 L106.8,235.7 L110.0,232.2 L113.2,234.9 L116.4,231.4 L119.6,228.5 L122.8,231.5 L126.0,228.4 L129.2,231.1 L132.4,232.9 L135.6,234.7 L138.8,236.0 L142.0,243.2 L145.2,242.1 L148.4,245.7 L151.6,247.9 L154.8,248.2 L158.0,252.0 L161.2,255.2 L164.4,258.2 L167.6,258.4 L170.8,261.0 L174.0,261.5 L177.2,264.0 L180.4,261.0 L183.6,266.0 L186.8,265.1 L190.0,265.8 L193.2,263.3 L196.4,266.1 L199.6,268.7 L202.8,271.3 L206.0,267.5 L209.2,267.7 L212.4,269.3 L215.6,269.1 L218.8,267.9 L222.0,268.3 L225.2,267.7 L228.4,268.5 L231.6,268.0 L234.8,268.3 L238.0,266.2 L241.2,264.9 L244.4,263.6 L247.6,264.4 L250.8,259.5 L254.0,256.2 L257.2,245.5 L260.4,238.8 L263.6,227.7 L266.8,229.5 L270.0,237.0 L273.2,244.8 L276.4,253.4 L279.6,258.6 L282.8,262.5 L286.0,261.7 L289.2,260.2 L293.0,260.3"/>
<path d="M46.0,261.1 L49.2,259.4 L52.4,259.1 L55.6,260.3 L58.8,260.4 L62.0,258.3 L65.2,260.0 L68.4,258.5 L71.6,256.7 L74.8,252.5 L78.0,252.6 L81.2,250.6 L84.4,246.5 L87.6,242.5 L90.8,245.1 L94.0,240.4 L97.2,236.0 L100.4,235.7 L103.6,232.4 L106.8,229.2 L110.0,227.1 L113.2,226.6 L116.4,227.0 L119.6,225.2 L122.8,225.4 L126.0,227.5 L129.2,224.2 L132.4,229.8 L135.6,231.1 L138.8,233.8 L142.0,235.9 L145.2,238.9 L148.4,241.0 L151.6,243.3 L154.8,245.3 L158.0,248.3 L161.2,249.0 L164.4,252.9 L167.6,251.0 L170.8,255.0 L174.0,256.7 L177.2,255.6 L180.4,257.7 L183.6,260.9 L186.8,259.6 L190.0,259.2 L193.2,256.9 L196.4,261.7 L199.6,261.7 L202.8,262.7 L206.0,264.8 L209.2,262.2 L212.4,262.5 L215.6,261.4 L218.8,262.2 L222.0,262.1 L225.2,262.8 L228.4,262.0 L231.6,259.5 L234.8,258.9 L238.0,260.4 L241.2,256.3 L244.4,258.0 L247.6,258.8 L250.8,254.0 L254.0,245.8 L257.2,239.5 L260.4,230.3 L263.6,222.1 L266.8,221.4 L270.0,231.6 L273.2,239.5 L276.4,249.9 L279.6,252.9 L282.8,253.2 L286.0,253.0 L289.2,254.0 L293.0,252.7"/>
<path d="M46.0,256.7 L49.2,255.6 L52.4,253.4 L55.6,250.2 L58.8,251.1 L62.0,254.6 L65.2,251.6 L68.4,250.5 L71.6,248.2 L74.8,247.4 L78.0,242.2 L81.2,239.6 L84.4,237.4 L87.6,236.8 L90.8,234.6 L94.0,231.2 L97.2,227.4 L100.4,222.9 L103.6,223.1 L106.8,219.5 L110.0,218.2 L113.2,217.2 L116.4,216.4 L119.6,216.4 L122.8,217.3 L126.0,217.6 L129.2,221.2 L132.4,222.5 L135.6,226.3 L138.8,224.8 L142.0,231.3 L145.2,232.1 L148.4,234.4 L151.6,236.0 L154.8,238.3 L158.0,239.6 L161.2,244.9 L164.4,245.2 L167.6,248.2 L170.8,249.8 L174.0,249.3 L177.2,250.8 L180.4,251.6 L183.6,254.3 L186.8,253.7 L190.0,254.3 L193.2,255.5 L196.4,254.8 L199.6,258.0 L202.8,254.2 L206.0,257.3 L209.2,257.7 L212.4,254.3 L215.6,257.1 L218.8,256.2 L222.0,256.9 L225.2,253.8 L228.4,255.2 L231.6,252.8 L234.8,252.7 L238.0,254.0 L241.2,251.0 L244.4,247.5 L247.6,248.0 L250.8,243.7 L254.0,239.1 L257.2,229.3 L260.4,220.7 L263.6,216.9 L266.8,215.5 L270.0,224.0 L273.2,231.0 L276.4,243.3 L279.6,246.7 L282.8,244.6 L286.0,245.6 L289.2,246.0 L293.0,247.0"/>
<path d="M46.0,249.8 L49.2,247.4 L52.4,247.1 L55.6,250.3 L58.8,246.6 L62.0,244.8 L65.2,244.3 L68.4,241.0 L71.6,241.6 L74.8,240.0 L78.0,235.5 L81.2,234.8 L84.4,230.1 L87.6,227.7 L90.8,223.0 L94.0,219.6 L97.2,215.5 L100.4,214.9 L103.6,211.7 L106.8,209.8 L110.0,207.3 L113.2,206.6 L116.4,207.5 L119.6,209.6 L122.8,210.5 L126.0,210.6 L129.2,213.8 L132.4,218.0 L135.6,218.2 L138.8,223.3 L142.0,223.8 L145.2,227.6 L148.4,227.7 L151.6,232.6 L154.8,231.8 L158.0,235.9 L161.2,237.2 L164.4,236.8 L167.6,239.3 L170.8,244.2 L174.0,244.6 L177.2,246.7 L180.4,246.2 L183.6,242.7 L186.8,247.6 L190.0,247.0 L193.2,247.5 L196.4,248.0 L199.6,247.8 L202.8,247.7 L206.0,250.9 L209.2,249.9 L212.4,248.5 L215.6,248.9 L218.8,250.7 L222.0,249.8 L225.2,249.2 L228.4,246.8 L231.6,247.1 L234.8,245.1 L238.0,243.0 L241.2,245.9 L244.4,243.6 L247.6,242.4 L250.8,236.1 L254.0,231.1 L257.2,225.7 L260.4,216.5 L263.6,209.9 L266.8,206.9 L270.0,217.2 L273.2,225.9 L276.4,236.9 L279.6,240.4 L282.8,239.5 L286.0,240.6 L289.2,240.1 L293.0,242.7"/>
<path d="M46.0,242.9 L49.2,242.0 L52.4,241.2 L55.6,241.3 L58.8,238.5 L62.0,236.7 L65.2,233.9 L68.4,236.2 L71.6,233.2 L74.8,230.9 L78.0,227.2 L81.2,226.3 L84.4,219.5 L87.6,218.9 L90.8,212.7 L94.0,209.8 L97.2,205.5 L100.4,204.4 L103.6,201.6 L106.8,200.9 L110.0,198.6 L113.2,197.4 L116.4,200.5 L119.6,202.4 L122.8,203.1 L126.0,203.9 L129.2,206.7 L132.4,206.3 L135.6,210.8 L138.8,215.6 L142.0,217.5 L145.2,218.5 L148.4,223.5 L151.6,224.8 L154.8,228.4 L158.0,227.8 L161.2,231.0 L164.4,234.0 L167.6,235.6 L170.8,237.3 L174.0,237.8 L177.2,238.5 L180.4,240.3 L183.6,241.6 L186.8,239.0 L190.0,241.0 L193.2,241.6 L196.4,242.4 L199.6,243.8 L202.8,240.8 L206.0,243.5 L209.2,240.5 L212.4,241.9 L215.6,242.3 L218.8,242.6 L222.0,242.0 L225.2,241.8 L228.4,241.5 L231.6,240.8 L234.8,237.8 L238.0,237.3 L241.2,237.6 L244.4,238.3 L247.6,237.1 L250.8,233.4 L254.0,222.6 L257.2,214.6 L260.4,209.0 L263.6,202.9 L266.8,202.3 L270.0,209.1 L273.2,219.0 L276.4,228.3 L279.6,232.1 L282.8,232.7 L286.0,235.9 L289.2,231.3 L293.0,234.5"/>
<path d="M46.0,234.8 L49.2,236.5 L52.4,234.7 L55.6,231.7 L58.8,233.4 L62.0,229.5 L65.2,231.1 L68.4,228.5 L71.6,223.7 L74.8,222.0 L78.0,218.0 L81.2,213.2 L84.4,212.2 L87.6,207.6 L90.8,204.5 L94.0,201.3 L97.2,198.6 L100.4,195.4 L103.6,191.9 L106.8,190.8 L110.0,190.8 L113.2,190.4 L116.4,191.1 L119.6,195.2 L122.8,195.2 L126.0,199.3 L129.2,198.2 L132.4,201.9 L135.6,204.3 L138.8,207.3 L142.0,210.4 L145.2,213.5 L148.4,215.9 L151.6,221.5 L154.8,222.5 L158.0,222.8 L161.2,225.1 L164.4,228.6 L167.6,229.9 L170.8,229.8 L174.0,233.0 L177.2,230.8 L180.4,232.9 L183.6,236.5 L186.8,231.3 L190.0,234.9 L193.2,236.9 L196.4,235.6 L199.6,235.0 L202.8,235.0 L206.0,233.6 L209.2,234.7 L212.4,236.6 L215.6,235.8 L218.8,236.5 L222.0,236.2 L225.2,236.5 L228.4,233.3 L231.6,234.4 L234.8,233.4 L238.0,232.4 L241.2,230.6 L244.4,228.1 L247.6,229.3 L250.8,222.9 L254.0,218.2 L257.2,209.4 L260.4,204.0 L263.6,196.1 L266.8,195.1 L270.0,204.7 L273.2,211.1 L276.4,222.2 L279.6,227.4 L282.8,226.5 L286.0,229.5 L289.2,229.4 L293.0,228.5"/>
<path d="M46.0,229.8 L49.2,230.3 L52.4,227.1 L55.6,224.5 L58.8,223.8 L62.0,224.5 L65.2,222.0 L68.4,217.5 L71.6,218.6 L74.8,214.2 L78.0,212.8 L81.2,208.6 L84.4,202.8 L87.6,199.7 L90.8,194.8 L94.0,191.1 L97.2,188.6 L100.4,186.9 L103.6,186.0 L106.8,181.7 L110.0,183.4 L113.2,182.9 L116.4,183.4 L119.6,186.6 L122.8,186.5 L126.0,191.2 L129.2,191.5 L132.4,193.5 L135.6,198.8 L138.8,198.9 L142.0,202.3 L145.2,206.6 L148.4,209.8 L151.6,212.1 L154.8,212.3 L158.0,215.5 L161.2,220.0 L164.4,221.9 L167.6,221.4 L170.8,224.5 L174.0,225.6 L177.2,227.7 L180.4,226.1 L183.6,229.8 L186.8,227.9 L190.0,230.7 L193.2,230.4 L196.4,228.1 L199.6,229.2 L202.8,230.2 L206.0,231.3 L209.2,228.2 L212.4,229.5 L215.6,231.0 L218.8,230.8 L222.0,228.6 L225.2,228.5 L228.4,229.8 L231.6,227.1 L234.8,227.8 L238.0,227.6 L241.2,225.4 L244.4,220.9 L247.6,222.5 L250.8,215.8 L254.0,209.6 L257.2,202.5 L260.4,192.7 L263.6,190.6 L266.8,189.6 L270.0,198.8 L273.2,206.0 L276.4,215.1 L279.6,220.8 L282.8,223.7 L286.0,221.8 L289.2,221.2 L293.0,219.8"/>
<path d="M46.0,222.8 L49.2,221.6 L52.4,221.0 L55.6,221.1 L58.8,219.4 L62.0,216.8 L65.2,215.2 L68.4,212.7 L71.6,210.9 L74.8,207.8 L78.0,203.7 L81.2,198.7 L84.4,197.2 L87.6,193.3 L90.8,186.8 L94.0,185.1 L97.2,180.8 L100.4,175.5 L103.6,176.3 L106.8,176.4 L110.0,173.7 L113.2,174.1 L116.4,177.4 L119.6,176.0 L122.8,178.2 L126.0,181.5 L129.2,185.4 L132.4,188.4 L135.6,189.9 L138.8,193.4 L142.0,197.1 L145.2,199.5 L148.4,201.8 L151.6,204.3 L154.8,209.3 L158.0,210.4 L161.2,216.6 L164.4,215.5 L167.6,215.3 L170.8,217.7 L174.0,219.3 L177.2,220.4 L180.4,221.3 L183.6,222.0 L186.8,221.7 L190.0,223.2 L193.2,225.6 L196.4,222.4 L199.6,222.7 L202.8,224.3 L206.0,225.2 L209.2,224.7 L212.4,225.3 L215.6,223.6 L218.8,223.4 L222.0,224.4 L225.2,224.1 L228.4,225.0 L231.6,224.1 L234.8,218.6 L238.0,221.0 L241.2,218.1 L244.4,215.0 L247.6,213.8 L250.8,206.4 L254.0,199.8 L257.2,192.5 L260.4,186.7 L263.6,181.8 L266.8,180.6 L270.0,190.9 L273.2,199.8 L276.4,208.7 L279.6,215.0 L282.8,214.9 L286.0,213.4 L289.2,213.6 L293.0,215.2"/>
<path d="M46.0,216.9 L49.2,215.2 L52.4,213.4 L55.6,213.3 L58.8,209.3 L62.0,208.7 L65.2,207.5 L68.4,205.6 L71.6,202.5 L74.8,199.4 L78.0,194.7 L81.2,191.8 L84.4,188.9 L87.6,182.1 L90.8,179.0 L94.0,176.4 L97.2,175.5 L100.4,171.5 L103.6,170.6 L106.8,169.0 L110.0,166.3 L113.2,167.2 L116.4,166.7 L119.6,171.4 L122.8,172.9 L126.0,175.2 L129.2,178.1 L132.4,180.9 L135.6,183.8 L138.8,187.2 L142.0,191.7 L145.2,192.1 L148.4,194.8 L151.6,199.1 L154.8,203.3 L158.0,204.4 L161.2,206.0 L164.4,209.3 L167.6,209.9 L170.8,208.6 L174.0,211.0 L177.2,210.6 L180.4,213.9 L183.6,214.3 L186.8,216.0 L190.0,218.7 L193.2,215.4 L196.4,216.5 L199.6,216.2 L202.8,213.1 L206.0,216.0 L209.2,216.2 L212.4,217.6 L215.6,216.1 L218.8,215.5 L222.0,217.9 L225.2,216.7 L228.4,215.1 L231.6,214.5 L234.8,214.2 L238.0,214.6 L241.2,214.4 L244.4,209.2 L247.6,207.2 L250.8,199.1 L254.0,193.4 L257.2,188.4 L260.4,179.9 L263.6,176.6 L266.8,174.3 L270.0,183.9 L273.2,192.0 L276.4,204.7 L279.6,210.4 L282.8,209.6 L286.0,209.3 L289.2,207.8 L293.0,210.9"/>
<path d="M46.0,210.9 L49.2,209.6 L52.4,207.4 L55.6,206.0 L58.8,204.9 L62.0,205.1 L65.2,200.0 L68.4,199.0 L71.6,198.1 L74.8,193.9 L78.0,191.5 L81.2,185.8 L84.4,181.8 L87.6,178.9 L90.8,173.9 L94.0,169.6 L97.2,165.0 L100.4,160.9 L103.6,162.7 L106.8,158.9 L110.0,158.1 L113.2,160.7 L116.4,159.5 L119.6,160.5 L122.8,163.7 L126.0,167.0 L129.2,170.4 L132.4,173.9 L135.6,177.8 L138.8,179.7 L142.0,183.7 L145.2,186.3 L148.4,188.7 L151.6,193.0 L154.8,195.7 L158.0,200.1 L161.2,200.6 L164.4,200.8 L167.6,204.2 L170.8,204.5 L174.0,208.1 L177.2,204.7 L180.4,207.0 L183.6,207.6 L186.8,209.2 L190.0,209.3 L193.2,207.7 L196.4,207.6 L199.6,210.6 L202.8,212.5 L206.0,212.6 L209.2,210.2 L212.4,211.4 L215.6,209.7 L218.8,208.9 L222.0,212.3 L225.2,211.3 L228.4,209.5 L231.6,208.7 L234.8,209.5 L238.0,207.6 L241.2,205.7 L244.4,204.3 L247.6,198.0 L250.8,191.1 L254.0,184.8 L257.2,181.3 L260.4,173.8 L263.6,167.3 L266.8,172.0 L270.0,179.8 L273.2,187.4 L276.4,195.9 L279.6,202.1 L282.8,200.3 L286.0,202.2 L289.2,202.6 L293.0,201.9"/>
<path d="M46.0,203.2 L49.2,200.9 L52.4,201.2 L55.6,197.8 L58.8,198.4 L62.0,195.8 L65.2,192.7 L68.4,191.4 L71.6,189.0 L74.8,184.9 L78.0,183.2 L81.2,177.1 L84.4,175.1 L87.6,170.5 L90.8,164.6 L94.0,163.4 L97.2,156.1 L100.4,155.7 L103.6,153.0 L106.8,152.6 L110.0,149.3 L113.2,150.2 L116.4,151.8 L119.6,154.7 L122.8,157.1 L126.0,159.7 L129.2,162.3 L132.4,165.0 L135.6,167.6 L138.8,172.3 L142.0,177.0 L145.2,181.0 L148.4,182.2 L151.6,187.2 L154.8,186.8 L158.0,192.1 L161.2,191.8 L164.4,195.5 L167.6,195.6 L170.8,197.0 L174.0,198.8 L177.2,202.4 L180.4,200.5 L183.6,202.9 L186.8,202.8 L190.0,203.4 L193.2,203.8 L196.4,204.5 L199.6,202.3 L202.8,204.1 L206.0,204.6 L209.2,203.5 L212.4,204.8 L215.6,203.0 L218.8,205.3 L222.0,203.3 L225.2,203.5 L228.4,204.5 L231.6,204.1 L234.8,201.0 L238.0,199.8 L241.2,200.9 L244.4,192.8 L247.6,192.1 L250.8,185.9 L254.0,177.1 L257.2,174.6 L260.4,168.1 L263.6,162.8 L266.8,160.0 L270.0,170.9 L273.2,179.9 L276.4,188.9 L279.6,194.8 L282.8,195.3 L286.0,191.9 L289.2,195.4 L293.0,194.8"/>
<path d="M46.0,195.9 L49.2,194.6 L52.4,194.3 L55.6,193.5 L58.8,194.0 L62.0,188.7 L65.2,189.8 L68.4,184.7 L71.6,180.8 L74.8,176.6 L78.0,175.9 L81.2,168.6 L84.4,167.5 L87.6,162.4 L90.8,157.0 L94.0,152.8 L97.2,150.8 L100.4,147.4 L103.6,146.0 L106.8,143.7 L110.0,142.8 L113.2,144.7 L116.4,143.6 L119.6,148.2 L122.8,149.5 L126.0,150.7 L129.2,154.0 L132.4,158.3 L135.6,159.9 L138.8,167.7 L142.0,170.7 L145.2,171.4 L148.4,176.0 L151.6,181.4 L154.8,182.5 L158.0,183.2 L161.2,183.9 L164.4,186.5 L167.6,192.0 L170.8,192.3 L174.0,191.3 L177.2,195.0 L180.4,194.4 L183.6,194.7 L186.8,195.4 L190.0,195.9 L193.2,199.1 L196.4,195.9 L199.6,196.8 L202.8,199.3 L206.0,199.7 L209.2,196.5 L212.4,200.6 L215.6,199.3 L218.8,195.9 L222.0,200.1 L225.2,195.5 L228.4,197.9 L231.6,194.7 L234.8,192.9 L238.0,195.4 L241.2,193.6 L244.4,189.1 L247.6,183.1 L250.8,176.7 L254.0,171.0 L257.2,164.6 L260.4,161.6 L263.6,155.6 L266.8,156.2 L270.0,164.3 L273.2,173.3 L276.4,180.9 L279.6,188.4 L282.8,188.0 L286.0,191.0 L289.2,188.0 L293.0,188.6"/>
<path d="M46.0,189.5 L49.2,189.7 L52.4,188.3 L55.6,186.5 L58.8,187.8 L62.0,183.0 L65.2,181.2 L68.4,181.7 L71.6,173.7 L74.8,172.7 L78.0,168.1 L81.2,161.5 L84.4,158.1 L87.6,155.5 L90.8,148.1 L94.0,145.7 L97.2,143.6 L100.4,139.0 L103.6,137.5 L106.8,135.0 L110.0,134.9 L113.2,135.4 L116.4,137.1 L119.6,140.3 L122.8,142.0 L126.0,147.5 L129.2,148.9 L132.4,152.0 L135.6,158.3 L138.8,158.8 L142.0,161.5 L145.2,166.4 L148.4,168.0 L151.6,173.3 L154.8,177.3 L158.0,178.9 L161.2,179.7 L164.4,182.1 L167.6,184.6 L170.8,187.0 L174.0,186.1 L177.2,187.1 L180.4,189.9 L183.6,189.5 L186.8,190.2 L190.0,190.8 L193.2,189.4 L196.4,190.5 L199.6,192.4 L202.8,190.9 L206.0,191.0 L209.2,191.7 L212.4,191.9 L215.6,194.8 L218.8,190.3 L222.0,191.5 L225.2,193.7 L228.4,190.6 L231.6,190.4 L234.8,187.0 L238.0,189.1 L241.2,187.5 L244.4,182.8 L247.6,175.1 L250.8,170.0 L254.0,164.1 L257.2,160.2 L260.4,154.0 L263.6,150.0 L266.8,148.3 L270.0,158.1 L273.2,163.4 L276.4,176.3 L279.6,183.4 L282.8,182.5 L286.0,186.0 L289.2,181.5 L293.0,182.4"/>
<path d="M46.0,181.7 L49.2,181.4 L52.4,180.5 L55.6,177.9 L58.8,176.9 L62.0,179.0 L65.2,173.6 L68.4,172.4 L71.6,166.2 L74.8,164.1 L78.0,161.0 L81.2,155.7 L84.4,150.8 L87.6,146.6 L90.8,142.5 L94.0,139.3 L97.2,136.1 L100.4,129.7 L103.6,126.5 L106.8,127.8 L110.0,127.9 L113.2,129.5 L116.4,131.3 L119.6,131.0 L122.8,137.2 L126.0,137.8 L129.2,138.5 L132.4,145.8 L135.6,148.7 L138.8,152.5 L142.0,153.7 L145.2,159.0 L148.4,163.1 L151.6,165.8 L154.8,169.8 L158.0,173.2 L161.2,175.9 L164.4,177.5 L167.6,177.4 L170.8,181.3 L174.0,180.6 L177.2,182.4 L180.4,181.7 L183.6,180.9 L186.8,180.2 L190.0,183.9 L193.2,183.1 L196.4,184.3 L199.6,185.7 L202.8,182.6 L206.0,182.4 L209.2,185.2 L212.4,185.4 L215.6,184.6 L218.8,184.2 L222.0,182.7 L225.2,184.5 L228.4,183.1 L231.6,184.0 L234.8,183.8 L238.0,180.6 L241.2,180.1 L244.4,174.4 L247.6,168.9 L250.8,164.3 L254.0,158.0 L257.2,153.1 L260.4,148.3 L263.6,141.8 L266.8,143.5 L270.0,152.5 L273.2,162.4 L276.4,171.7 L279.6,179.0 L282.8,174.9 L286.0,176.3 L289.2,174.1 L293.0,175.7"/>
<path d="M46.0,174.1 L49.2,177.1 L52.4,175.5 L55.6,171.7 L58.8,172.0 L62.0,170.5 L65.2,169.4 L68.4,165.3 L71.6,161.1 L74.8,157.0 L78.0,153.9 L81.2,149.0 L84.4,143.3 L87.6,137.7 L90.8,136.2 L94.0,129.5 L97.2,126.4 L100.4,124.7 L103.6,121.4 L106.8,121.8 L110.0,118.6 L113.2,121.8 L116.4,120.4 L119.6,122.3 L122.8,125.6 L126.0,130.3 L129.2,132.7 L132.4,135.6 L135.6,142.9 L138.8,143.9 L142.0,148.9 L145.2,153.1 L148.4,155.6 L151.6,159.9 L154.8,163.2 L158.0,164.9 L161.2,168.8 L164.4,168.6 L167.6,169.7 L170.8,172.9 L174.0,172.5 L177.2,175.3 L180.4,175.5 L183.6,175.7 L186.8,177.6 L190.0,178.0 L193.2,173.6 L196.4,177.4 L199.6,178.2 L202.8,178.9 L206.0,177.6 L209.2,176.9 L212.4,178.6 L215.6,179.4 L218.8,175.7 L222.0,176.4 L225.2,177.4 L228.4,174.2 L231.6,176.2 L234.8,177.2 L238.0,173.5 L241.2,172.7 L244.4,165.5 L247.6,161.1 L250.8,155.9 L254.0,151.8 L257.2,145.3 L260.4,141.9 L263.6,136.3 L266.8,136.4 L270.0,147.6 L273.2,153.4 L276.4,163.7 L279.6,172.8 L282.8,171.1 L286.0,168.8 L289.2,170.3 L293.0,169.2"/>
<path d="M46.0,169.6 L49.2,166.9 L52.4,168.2 L55.6,164.4 L58.8,165.3 L62.0,163.2 L65.2,161.4 L68.4,160.3 L71.6,151.6 L74.8,148.4 L78.0,144.4 L81.2,140.5 L84.4,137.7 L87.6,131.3 L90.8,126.3 L94.0,121.2 L97.2,118.0 L100.4,115.2 L103.6,113.4 L106.8,110.5 L110.0,112.2 L113.2,113.8 L116.4,115.0 L119.6,115.1 L122.8,120.6 L126.0,123.9 L129.2,126.8 L132.4,128.7 L135.6,132.3 L138.8,138.4 L142.0,140.9 L145.2,144.2 L148.4,150.8 L151.6,154.1 L154.8,156.7 L158.0,160.3 L161.2,162.1 L164.4,161.4 L167.6,166.3 L170.8,166.3 L174.0,168.0 L177.2,170.5 L180.4,169.8 L183.6,172.0 L186.8,170.5 L190.0,170.3 L193.2,170.2 L196.4,171.2 L199.6,169.3 L202.8,171.7 L206.0,171.7 L209.2,171.2 L212.4,169.0 L215.6,169.2 L218.8,173.0 L222.0,170.7 L225.2,173.6 L228.4,170.3 L231.6,171.1 L234.8,167.7 L238.0,167.6 L241.2,165.0 L244.4,160.0 L247.6,155.5 L250.8,149.2 L254.0,141.0 L257.2,138.4 L260.4,133.5 L263.6,128.3 L266.8,131.3 L270.0,141.2 L273.2,147.1 L276.4,158.5 L279.6,164.9 L282.8,162.1 L286.0,165.9 L289.2,165.8 L293.0,163.9"/>
<path d="M46.0,165.5 L49.2,162.7 L52.4,162.8 L55.6,160.7 L58.8,156.9 L62.0,156.3 L65.2,153.1 L68.4,149.6 L71.6,145.2 L74.8,141.8 L78.0,136.8 L81.2,135.4 L84.4,126.4 L87.6,124.2 L90.8,118.6 L94.0,113.3 L97.2,112.1 L100.4,106.9 L103.6,107.4 L106.8,104.3 L110.0,105.0 L113.2,105.2 L116.4,107.8 L119.6,110.5 L122.8,111.5 L126.0,115.5 L129.2,121.6 L132.4,122.5 L135.6,129.8 L138.8,130.9 L142.0,134.8 L145.2,137.1 L148.4,141.9 L151.6,144.0 L154.8,148.6 L158.0,153.0 L161.2,154.4 L164.4,155.7 L167.6,156.9 L170.8,158.8 L174.0,159.0 L177.2,160.3 L180.4,165.4 L183.6,163.8 L186.8,162.7 L190.0,165.3 L193.2,166.7 L196.4,164.1 L199.6,165.0 L202.8,163.6 L206.0,163.3 L209.2,167.4 L212.4,170.2 L215.6,164.6 L218.8,163.4 L222.0,167.4 L225.2,166.7 L228.4,165.5 L231.6,166.2 L234.8,162.8 L238.0,162.3 L241.2,159.0 L244.4,151.4 L247.6,146.6 L250.8,140.4 L254.0,136.6 L257.2,131.7 L260.4,124.4 L263.6,122.7 L266.8,122.1 L270.0,131.4 L273.2,139.0 L276.4,151.6 L279.6,156.1 L282.8,156.6 L286.0,158.7 L289.2,158.0 L293.0,156.8"/>
<path d="M46.0,153.9 L49.2,156.7 L52.4,154.3 L55.6,152.7 L58.8,152.4 L62.0,148.3 L65.2,146.4 L68.4,144.6 L71.6,140.5 L74.8,134.9 L78.0,133.2 L81.2,128.0 L84.4,124.1 L87.6,116.5 L90.8,112.0 L94.0,108.6 L97.2,103.9 L100.4,100.3 L103.6,97.7 L106.8,96.3 L110.0,95.9 L113.2,96.7 L116.4,99.8 L119.6,101.3 L122.8,102.8 L126.0,108.3 L129.2,114.3 L132.4,118.0 L135.6,117.7 L138.8,123.5 L142.0,129.8 L145.2,132.8 L148.4,136.5 L151.6,139.7 L154.8,143.0 L158.0,144.3 L161.2,149.7 L164.4,148.7 L167.6,151.7 L170.8,155.5 L174.0,156.1 L177.2,155.6 L180.4,156.4 L183.6,156.3 L186.8,156.9 L190.0,157.6 L193.2,160.1 L196.4,157.9 L199.6,159.5 L202.8,159.4 L206.0,159.5 L209.2,158.7 L212.4,160.1 L215.6,159.4 L218.8,159.3 L222.0,158.4 L225.2,156.0 L228.4,159.4 L231.6,158.8 L234.8,156.2 L238.0,155.0 L241.2,151.0 L244.4,143.2 L247.6,139.7 L250.8,134.6 L254.0,130.2 L257.2,125.9 L260.4,117.8 L263.6,116.7 L266.8,117.0 L270.0,127.6 L273.2,136.2 L276.4,145.2 L279.6,150.1 L282.8,154.5 L286.0,150.6 L289.2,149.3 L293.0,152.0"/>
<path d="M46.0,148.2 L49.2,151.8 L52.4,149.4 L55.6,148.4 L58.8,146.1 L62.0,143.0 L65.2,137.9 L68.4,135.7 L71.6,133.5 L74.8,128.3 L78.0,124.5 L81.2,118.2 L84.4,113.0 L87.6,109.4 L90.8,105.1 L94.0,99.5 L97.2,94.2 L100.4,90.1 L103.6,92.8 L106.8,87.4 L110.0,87.8 L113.2,89.0 L116.4,92.9 L119.6,93.2 L122.8,98.1 L126.0,101.4 L129.2,103.4 L132.4,109.4 L135.6,111.9 L138.8,117.7 L142.0,123.1 L145.2,125.8 L148.4,128.7 L151.6,132.8 L154.8,136.2 L158.0,139.7 L161.2,138.6 L164.4,141.3 L167.6,146.2 L170.8,146.8 L174.0,148.2 L177.2,149.5 L180.4,149.8 L183.6,150.0 L186.8,151.3 L190.0,152.4 L193.2,152.3 L196.4,152.1 L199.6,150.9 L202.8,152.7 L206.0,151.0 L209.2,151.7 L212.4,152.9 L215.6,152.9 L218.8,154.1 L222.0,153.8 L225.2,153.0 L228.4,151.6 L231.6,151.3 L234.8,150.1 L238.0,150.8 L241.2,143.8 L244.4,136.3 L247.6,130.4 L250.8,128.2 L254.0,120.8 L257.2,118.3 L260.4,113.9 L263.6,110.9 L266.8,109.9 L270.0,120.2 L273.2,128.5 L276.4,138.6 L279.6,145.5 L282.8,144.4 L286.0,143.9 L289.2,145.4 L293.0,142.3"/>
<path d="M46.0,143.8 L49.2,141.3 L52.4,139.8 L55.6,137.8 L58.8,135.7 L62.0,136.7 L65.2,133.9 L68.4,129.6 L71.6,127.0 L74.8,121.4 L78.0,116.0 L81.2,110.3 L84.4,107.6 L87.6,102.4 L90.8,98.0 L94.0,90.6 L97.2,87.2 L100.4,82.6 L103.6,83.7 L106.8,82.0 L110.0,81.9 L113.2,82.2 L116.4,83.9 L119.6,86.2 L122.8,91.4 L126.0,92.8 L129.2,99.0 L132.4,102.6 L135.6,105.3 L138.8,109.2 L142.0,114.4 L145.2,119.5 L148.4,121.6 L151.6,127.7 L154.8,131.5 L158.0,133.6 L161.2,133.0 L164.4,134.2 L167.6,140.3 L170.8,142.6 L174.0,141.3 L177.2,143.5 L180.4,143.3 L183.6,143.4 L186.8,146.1 L190.0,144.4 L193.2,146.6 L196.4,148.0 L199.6,145.7 L202.8,148.5 L206.0,144.3 L209.2,147.4 L212.4,146.3 L215.6,149.7 L218.8,146.3 L222.0,145.1 L225.2,148.2 L228.4,143.5 L231.6,145.5 L234.8,143.0 L238.0,143.3 L241.2,135.7 L244.4,131.0 L247.6,124.3 L250.8,118.0 L254.0,112.2 L257.2,113.4 L260.4,107.3 L263.6,101.3 L266.8,104.1 L270.0,114.5 L273.2,119.8 L276.4,134.1 L279.6,136.9 L282.8,137.3 L286.0,139.5 L289.2,138.1 L293.0,136.4"/>
</g>
<line x1="45.3" y1="63.0" x2="45.3" y2="558.0" stroke="#000" stroke-width="2.4" />
<line x1="44.1" y1="557.0" x2="293.0" y2="557.0" stroke="#000" stroke-width="2.4" />
<line x1="103.0" y1="557.0" x2="103.0" y2="570.0" stroke="#000" stroke-width="2.4" />
<line x1="219.4" y1="557.0" x2="219.4" y2="570.0" stroke="#000" stroke-width="2.4" />
<line x1="45.3" y1="557.0" x2="45.3" y2="564.5" stroke="#000" stroke-width="2.4" />
<line x1="161.5" y1="557.0" x2="161.5" y2="564.5" stroke="#000" stroke-width="2.4" />
<line x1="278.0" y1="557.0" x2="278.0" y2="564.5" stroke="#000" stroke-width="2.4" />
<text x="103.0" y="603.0" font-size="29" text-anchor="middle" fill="#000" font-weight="normal" >19.6</text>
<text x="219.4" y="603.0" font-size="29" text-anchor="middle" fill="#000" font-weight="normal" >20.0</text>
<text x="169.5" y="646.0" font-size="29.4" text-anchor="middle">Position (2<tspan font-family="Liberation Serif" font-style="italic">θ</tspan>,Mo)</text>
<text x="265.4" y="84.6" font-size="29" text-anchor="middle" fill="#000" font-weight="normal" >Al</text>
<text transform="translate(27.0,311.0) rotate(-90)" font-size="29.4" text-anchor="middle" fill="#000">Intensity (a.u.)</text>
<line x1="312.1" y1="524.4" x2="312.1" y2="455.8" stroke="#000" stroke-width="1.8" />
<text transform="translate(320.5,410.4) rotate(-90)" font-size="28.6" text-anchor="middle" fill="#000">1st c</text>
<line x1="312.1" y1="370.0" x2="312.1" y2="332.0" stroke="#000" stroke-width="1.8" />
<path d="M307.4,334.0 L312.1,316.9 L316.8,334.0 Z" fill="#000"/>
<line x1="312.1" y1="311.8" x2="312.1" y2="272.7" stroke="#000" stroke-width="1.8" />
<text transform="translate(320.5,228.8) rotate(-90)" font-size="28.6" text-anchor="middle" fill="#000">1st dc</text>
<line x1="312.1" y1="187.3" x2="312.1" y2="152.0" stroke="#000" stroke-width="1.8" />
<path d="M307.4,154.4 L312.1,138.0 L316.8,154.4 Z" fill="#000"/>
<text x="0.0" y="716.0" font-size="40" text-anchor="start" fill="#000" font-weight="bold" >c</text>
<text x="142.9" y="721.5" font-size="29" text-anchor="middle" fill="#000" font-weight="normal" >(002)</text>
<g fill="#8a8a8a"><circle cx="142.4" cy="735.6" r="2.3"/><circle cx="142.4" cy="744.5" r="2.3"/><circle cx="142.4" cy="753.5" r="2.3"/><circle cx="142.4" cy="762.4" r="2.3"/><circle cx="142.4" cy="771.4" r="2.3"/><circle cx="142.4" cy="780.3" r="2.3"/><circle cx="142.4" cy="789.3" r="2.3"/><circle cx="142.4" cy="798.2" r="2.3"/><circle cx="142.4" cy="807.2" r="2.3"/><circle cx="142.4" cy="816.1" r="2.3"/><circle cx="142.4" cy="825.1" r="2.3"/><circle cx="142.4" cy="834.0" r="2.3"/><circle cx="142.4" cy="843.0" r="2.3"/><circle cx="142.4" cy="851.9" r="2.3"/><circle cx="142.4" cy="860.9" r="2.3"/><circle cx="142.4" cy="869.8" r="2.3"/><circle cx="142.4" cy="878.8" r="2.3"/><circle cx="142.4" cy="887.7" r="2.3"/><circle cx="142.4" cy="896.7" r="2.3"/><circle cx="142.4" cy="905.6" r="2.3"/><circle cx="142.4" cy="914.6" r="2.3"/><circle cx="142.4" cy="923.5" r="2.3"/><circle cx="142.4" cy="932.5" r="2.3"/><circle cx="142.4" cy="941.4" r="2.3"/><circle cx="142.4" cy="950.4" r="2.3"/><circle cx="142.4" cy="959.3" r="2.3"/><circle cx="142.4" cy="968.3" r="2.3"/><circle cx="142.4" cy="977.2" r="2.3"/><circle cx="142.4" cy="986.2" r="2.3"/><circle cx="142.4" cy="995.1" r="2.3"/><circle cx="142.4" cy="1004.1" r="2.3"/><circle cx="142.4" cy="1013.0" r="2.3"/><circle cx="142.4" cy="1022.0" r="2.3"/><circle cx="142.4" cy="1030.9" r="2.3"/><circle cx="142.4" cy="1039.9" r="2.3"/><circle cx="142.4" cy="1048.8" r="2.3"/><circle cx="142.4" cy="1057.8" r="2.3"/><circle cx="142.4" cy="1066.7" r="2.3"/><circle cx="142.4" cy="1075.7" r="2.3"/><circle cx="142.4" cy="1084.6" r="2.3"/><circle cx="142.4" cy="1093.6" r="2.3"/><circle cx="142.4" cy="1102.5" r="2.3"/><circle cx="142.4" cy="1111.5" r="2.3"/><circle cx="142.4" cy="1120.4" r="2.3"/><circle cx="142.4" cy="1129.4" r="2.3"/><circle cx="142.4" cy="1138.3" r="2.3"/><circle cx="142.4" cy="1147.3" r="2.3"/><circle cx="142.4" cy="1156.2" r="2.3"/><circle cx="142.4" cy="1165.2" r="2.3"/><circle cx="142.4" cy="1174.1" r="2.3"/><circle cx="142.4" cy="1183.1" r="2.3"/><circle cx="142.4" cy="1192.0" r="2.3"/><circle cx="142.4" cy="1201.0" r="2.3"/><circle cx="142.4" cy="1209.9" r="2.3"/><circle cx="142.4" cy="1218.9" r="2.3"/><circle cx="142.4" cy="1227.8" r="2.3"/></g>
<g fill="none" stroke="#000" stroke-width="1.5" stroke-linejoin="round">
<path d="M46.0,1211.9 L49.2,1212.7 L52.4,1211.5 L55.6,1210.6 L58.8,1210.9 L62.0,1205.9 L65.2,1205.4 L68.4,1203.1 L71.6,1203.1 L74.8,1202.7 L78.0,1199.4 L81.2,1197.9 L84.4,1192.2 L87.6,1192.4 L90.8,1188.2 L94.0,1188.8 L97.2,1184.5 L100.4,1181.3 L103.6,1176.4 L106.8,1173.5 L110.0,1169.4 L113.2,1163.3 L116.4,1157.4 L119.6,1151.1 L122.8,1142.2 L126.0,1132.5 L129.2,1121.9 L132.4,1109.6 L135.6,1100.0 L138.8,1086.5 L142.0,1081.6 L145.2,1074.4 L148.4,1076.7 L151.6,1087.0 L154.8,1104.4 L158.0,1119.5 L161.2,1131.5 L164.4,1137.1 L167.6,1140.9 L170.8,1144.5 L174.0,1144.3 L177.2,1145.9 L180.4,1152.4 L183.6,1156.5 L186.8,1163.6 L190.0,1169.8 L193.2,1174.1 L196.4,1177.3 L199.6,1184.2 L202.8,1190.0 L206.0,1193.0 L209.2,1198.0 L212.4,1201.9 L215.6,1202.3 L218.8,1206.2 L222.0,1207.6 L225.2,1207.2 L228.4,1207.2 L231.6,1206.6 L234.8,1207.6 L238.0,1203.4 L241.2,1198.2 L244.4,1192.7 L247.6,1184.4 L250.8,1177.7 L254.0,1172.9 L257.2,1169.2 L260.4,1164.1 L263.6,1156.2 L266.8,1154.9 L270.0,1168.3 L273.2,1181.4 L276.4,1193.3 L279.6,1198.7 L282.8,1199.2 L286.0,1197.6 L289.2,1198.0 L293.0,1195.5"/>
<path d="M46.0,1203.4 L49.2,1204.7 L52.4,1204.6 L55.6,1203.9 L58.8,1202.9 L62.0,1202.1 L65.2,1201.0 L68.4,1196.2 L71.6,1196.1 L74.8,1196.1 L78.0,1194.4 L81.2,1189.5 L84.4,1190.9 L87.6,1186.3 L90.8,1184.0 L94.0,1181.9 L97.2,1179.5 L100.4,1173.4 L103.6,1173.3 L106.8,1168.5 L110.0,1163.5 L113.2,1159.8 L116.4,1152.2 L119.6,1148.3 L122.8,1142.1 L126.0,1132.3 L129.2,1122.7 L132.4,1111.8 L135.6,1100.6 L138.8,1090.9 L142.0,1080.1 L145.2,1072.7 L148.4,1070.1 L151.6,1077.7 L154.8,1087.7 L158.0,1104.8 L161.2,1116.1 L164.4,1129.8 L167.6,1134.1 L170.8,1137.1 L174.0,1136.3 L177.2,1136.7 L180.4,1142.1 L183.6,1145.9 L186.8,1148.6 L190.0,1152.9 L193.2,1160.7 L196.4,1165.1 L199.6,1174.1 L202.8,1175.2 L206.0,1180.8 L209.2,1186.5 L212.4,1188.7 L215.6,1193.1 L218.8,1198.8 L222.0,1197.7 L225.2,1197.6 L228.4,1196.7 L231.6,1198.8 L234.8,1198.3 L238.0,1196.7 L241.2,1191.5 L244.4,1186.0 L247.6,1179.8 L250.8,1172.3 L254.0,1168.3 L257.2,1159.1 L260.4,1154.8 L263.6,1150.8 L266.8,1150.1 L270.0,1159.9 L273.2,1175.0 L276.4,1187.7 L279.6,1191.3 L282.8,1190.7 L286.0,1191.3 L289.2,1190.6 L293.0,1188.4"/>
<path d="M46.0,1197.7 L49.2,1199.2 L52.4,1195.4 L55.6,1196.3 L58.8,1194.9 L62.0,1193.3 L65.2,1192.1 L68.4,1192.4 L71.6,1191.4 L74.8,1189.9 L78.0,1185.8 L81.2,1185.5 L84.4,1184.3 L87.6,1182.8 L90.8,1180.0 L94.0,1177.5 L97.2,1175.1 L100.4,1171.7 L103.6,1166.3 L106.8,1164.1 L110.0,1159.4 L113.2,1153.2 L116.4,1149.5 L119.6,1149.3 L122.8,1138.6 L126.0,1129.4 L129.2,1122.5 L132.4,1115.1 L135.6,1101.8 L138.8,1091.3 L142.0,1080.1 L145.2,1071.8 L148.4,1067.7 L151.6,1065.8 L154.8,1073.1 L158.0,1088.9 L161.2,1104.8 L164.4,1115.8 L167.6,1124.6 L170.8,1128.4 L174.0,1128.6 L177.2,1131.8 L180.4,1131.5 L183.6,1133.2 L186.8,1134.9 L190.0,1139.4 L193.2,1147.5 L196.4,1148.9 L199.6,1156.7 L202.8,1161.9 L206.0,1169.7 L209.2,1176.3 L212.4,1180.0 L215.6,1185.0 L218.8,1188.6 L222.0,1190.4 L225.2,1191.0 L228.4,1190.8 L231.6,1191.8 L234.8,1192.1 L238.0,1190.1 L241.2,1184.8 L244.4,1179.9 L247.6,1173.0 L250.8,1167.3 L254.0,1163.3 L257.2,1154.9 L260.4,1149.6 L263.6,1143.0 L266.8,1142.7 L270.0,1153.5 L273.2,1169.6 L276.4,1179.6 L279.6,1182.8 L282.8,1186.0 L286.0,1181.4 L289.2,1184.2 L293.0,1184.2"/>
<path d="M46.0,1191.7 L49.2,1190.2 L52.4,1189.8 L55.6,1188.9 L58.8,1189.8 L62.0,1184.7 L65.2,1186.3 L68.4,1186.1 L71.6,1183.9 L74.8,1180.8 L78.0,1181.4 L81.2,1179.0 L84.4,1179.2 L87.6,1177.9 L90.8,1173.8 L94.0,1168.6 L97.2,1168.3 L100.4,1164.4 L103.6,1163.6 L106.8,1161.7 L110.0,1156.5 L113.2,1155.0 L116.4,1150.2 L119.6,1144.3 L122.8,1136.5 L126.0,1131.2 L129.2,1121.0 L132.4,1115.0 L135.6,1103.3 L138.8,1094.0 L142.0,1081.8 L145.2,1069.3 L148.4,1065.3 L151.6,1060.7 L154.8,1063.6 L158.0,1070.9 L161.2,1086.2 L164.4,1102.4 L167.6,1112.1 L170.8,1118.2 L174.0,1121.2 L177.2,1126.7 L180.4,1122.6 L183.6,1122.8 L186.8,1125.0 L190.0,1127.8 L193.2,1132.9 L196.4,1136.8 L199.6,1142.5 L202.8,1148.5 L206.0,1156.5 L209.2,1163.2 L212.4,1169.0 L215.6,1179.2 L218.8,1179.7 L222.0,1184.0 L225.2,1183.3 L228.4,1184.0 L231.6,1183.7 L234.8,1181.5 L238.0,1182.4 L241.2,1180.1 L244.4,1174.4 L247.6,1167.3 L250.8,1161.7 L254.0,1154.7 L257.2,1148.5 L260.4,1140.3 L263.6,1136.6 L266.8,1138.2 L270.0,1147.4 L273.2,1161.4 L276.4,1171.9 L279.6,1175.7 L282.8,1179.2 L286.0,1176.7 L289.2,1178.1 L293.0,1176.6"/>
<path d="M46.0,1183.6 L49.2,1180.6 L52.4,1183.3 L55.6,1180.5 L58.8,1179.0 L62.0,1183.0 L65.2,1181.4 L68.4,1180.4 L71.6,1178.5 L74.8,1177.1 L78.0,1176.3 L81.2,1174.4 L84.4,1172.5 L87.6,1171.5 L90.8,1165.0 L94.0,1167.2 L97.2,1162.6 L100.4,1161.9 L103.6,1159.5 L106.8,1153.7 L110.0,1152.7 L113.2,1149.2 L116.4,1143.3 L119.6,1139.2 L122.8,1135.0 L126.0,1125.8 L129.2,1121.0 L132.4,1113.4 L135.6,1102.9 L138.8,1090.9 L142.0,1081.7 L145.2,1074.2 L148.4,1065.2 L151.6,1056.7 L154.8,1052.3 L158.0,1058.5 L161.2,1071.2 L164.4,1085.7 L167.6,1099.9 L170.8,1110.7 L174.0,1116.0 L177.2,1112.7 L180.4,1116.9 L183.6,1115.0 L186.8,1116.0 L190.0,1114.9 L193.2,1117.4 L196.4,1122.7 L199.6,1122.2 L202.8,1136.1 L206.0,1143.1 L209.2,1149.6 L212.4,1156.7 L215.6,1167.4 L218.8,1170.3 L222.0,1176.0 L225.2,1176.4 L228.4,1176.5 L231.6,1177.9 L234.8,1176.3 L238.0,1176.3 L241.2,1174.2 L244.4,1167.4 L247.6,1161.3 L250.8,1154.8 L254.0,1145.8 L257.2,1141.3 L260.4,1135.8 L263.6,1129.8 L266.8,1126.6 L270.0,1139.1 L273.2,1153.6 L276.4,1165.2 L279.6,1171.5 L282.8,1168.4 L286.0,1168.4 L289.2,1168.1 L293.0,1168.3"/>
<path d="M46.0,1176.0 L49.2,1174.0 L52.4,1176.5 L55.6,1176.9 L58.8,1176.6 L62.0,1172.9 L65.2,1173.4 L68.4,1175.3 L71.6,1171.7 L74.8,1171.2 L78.0,1169.2 L81.2,1169.3 L84.4,1167.7 L87.6,1167.7 L90.8,1163.3 L94.0,1161.0 L97.2,1156.4 L100.4,1155.0 L103.6,1151.9 L106.8,1149.5 L110.0,1145.1 L113.2,1145.2 L116.4,1138.6 L119.6,1136.4 L122.8,1129.7 L126.0,1126.6 L129.2,1122.0 L132.4,1111.1 L135.6,1103.9 L138.8,1093.5 L142.0,1083.6 L145.2,1073.4 L148.4,1062.5 L151.6,1055.3 L154.8,1049.1 L158.0,1047.5 L161.2,1054.9 L164.4,1071.8 L167.6,1084.6 L170.8,1098.9 L174.0,1106.4 L177.2,1107.4 L180.4,1110.2 L183.6,1106.2 L186.8,1106.8 L190.0,1107.2 L193.2,1105.2 L196.4,1108.0 L199.6,1113.6 L202.8,1125.9 L206.0,1131.8 L209.2,1140.5 L212.4,1152.2 L215.6,1158.1 L218.8,1163.5 L222.0,1165.5 L225.2,1165.7 L228.4,1168.4 L231.6,1167.9 L234.8,1166.7 L238.0,1166.7 L241.2,1165.2 L244.4,1161.9 L247.6,1154.9 L250.8,1148.0 L254.0,1140.3 L257.2,1133.3 L260.4,1129.5 L263.6,1123.9 L266.8,1122.9 L270.0,1132.6 L273.2,1145.8 L276.4,1158.3 L279.6,1161.1 L282.8,1161.0 L286.0,1162.8 L289.2,1160.1 L293.0,1161.6"/>
<path d="M46.0,1170.8 L49.2,1169.7 L52.4,1169.6 L55.6,1167.1 L58.8,1168.0 L62.0,1167.2 L65.2,1167.7 L68.4,1166.7 L71.6,1165.3 L74.8,1166.8 L78.0,1163.8 L81.2,1161.4 L84.4,1159.5 L87.6,1158.6 L90.8,1156.1 L94.0,1157.1 L97.2,1153.4 L100.4,1149.9 L103.6,1146.9 L106.8,1143.6 L110.0,1141.7 L113.2,1140.8 L116.4,1136.8 L119.6,1131.9 L122.8,1128.0 L126.0,1120.5 L129.2,1118.4 L132.4,1110.4 L135.6,1104.7 L138.8,1093.5 L142.0,1083.2 L145.2,1073.9 L148.4,1062.8 L151.6,1056.7 L154.8,1048.4 L158.0,1043.8 L161.2,1045.4 L164.4,1054.7 L167.6,1070.5 L170.8,1084.4 L174.0,1097.2 L177.2,1100.6 L180.4,1102.4 L183.6,1099.9 L186.8,1097.8 L190.0,1096.1 L193.2,1098.0 L196.4,1098.7 L199.6,1105.1 L202.8,1111.4 L206.0,1121.1 L209.2,1129.4 L212.4,1142.8 L215.6,1152.3 L218.8,1155.0 L222.0,1161.0 L225.2,1162.3 L228.4,1161.2 L231.6,1163.3 L234.8,1160.6 L238.0,1160.8 L241.2,1161.5 L244.4,1155.1 L247.6,1146.3 L250.8,1143.0 L254.0,1133.2 L257.2,1128.2 L260.4,1122.0 L263.6,1116.2 L266.8,1113.4 L270.0,1123.4 L273.2,1141.4 L276.4,1149.7 L279.6,1154.2 L282.8,1151.9 L286.0,1155.1 L289.2,1156.6 L293.0,1156.6"/>
<path d="M46.0,1166.5 L49.2,1164.5 L52.4,1162.7 L55.6,1161.9 L58.8,1163.3 L62.0,1160.9 L65.2,1160.6 L68.4,1158.4 L71.6,1159.0 L74.8,1160.7 L78.0,1156.9 L81.2,1156.4 L84.4,1151.3 L87.6,1154.9 L90.8,1151.9 L94.0,1151.5 L97.2,1147.9 L100.4,1144.3 L103.6,1141.3 L106.8,1141.2 L110.0,1137.8 L113.2,1133.7 L116.4,1131.8 L119.6,1127.7 L122.8,1125.8 L126.0,1120.0 L129.2,1114.0 L132.4,1109.7 L135.6,1102.2 L138.8,1097.0 L142.0,1085.4 L145.2,1074.5 L148.4,1066.4 L151.6,1056.8 L154.8,1049.5 L158.0,1043.2 L161.2,1037.8 L164.4,1042.6 L167.6,1053.1 L170.8,1065.4 L174.0,1079.0 L177.2,1089.0 L180.4,1090.8 L183.6,1091.7 L186.8,1090.4 L190.0,1088.4 L193.2,1087.9 L196.4,1086.5 L199.6,1093.2 L202.8,1101.2 L206.0,1112.3 L209.2,1120.5 L212.4,1130.0 L215.6,1137.8 L218.8,1147.0 L222.0,1152.3 L225.2,1152.2 L228.4,1154.9 L231.6,1155.8 L234.8,1155.7 L238.0,1153.2 L241.2,1153.7 L244.4,1148.5 L247.6,1140.3 L250.8,1135.0 L254.0,1128.5 L257.2,1120.4 L260.4,1116.1 L263.6,1112.1 L266.8,1105.2 L270.0,1119.2 L273.2,1132.9 L276.4,1143.8 L279.6,1148.7 L282.8,1147.6 L286.0,1149.6 L289.2,1146.4 L293.0,1147.4"/>
<path d="M46.0,1152.9 L49.2,1155.7 L52.4,1155.5 L55.6,1152.4 L58.8,1153.1 L62.0,1154.5 L65.2,1152.7 L68.4,1151.1 L71.6,1148.7 L74.8,1151.8 L78.0,1153.0 L81.2,1148.8 L84.4,1148.8 L87.6,1147.5 L90.8,1145.4 L94.0,1144.0 L97.2,1142.2 L100.4,1138.9 L103.6,1141.3 L106.8,1139.3 L110.0,1133.6 L113.2,1132.9 L116.4,1126.5 L119.6,1124.2 L122.8,1122.7 L126.0,1115.9 L129.2,1111.4 L132.4,1108.6 L135.6,1099.5 L138.8,1097.6 L142.0,1088.3 L145.2,1078.7 L148.4,1069.8 L151.6,1058.3 L154.8,1049.6 L158.0,1044.7 L161.2,1039.5 L164.4,1035.9 L167.6,1040.4 L170.8,1050.4 L174.0,1065.6 L177.2,1072.7 L180.4,1080.7 L183.6,1083.8 L186.8,1081.6 L190.0,1079.4 L193.2,1077.8 L196.4,1080.7 L199.6,1085.2 L202.8,1090.1 L206.0,1097.1 L209.2,1109.4 L212.4,1120.7 L215.6,1129.7 L218.8,1136.6 L222.0,1142.7 L225.2,1142.4 L228.4,1145.9 L231.6,1147.5 L234.8,1148.1 L238.0,1147.0 L241.2,1145.9 L244.4,1142.3 L247.6,1134.6 L250.8,1128.5 L254.0,1121.3 L257.2,1114.1 L260.4,1110.4 L263.6,1104.1 L266.8,1099.6 L270.0,1111.9 L273.2,1126.2 L276.4,1137.0 L279.6,1141.3 L282.8,1141.6 L286.0,1138.5 L289.2,1138.7 L293.0,1141.3"/>
<path d="M46.0,1148.8 L49.2,1150.1 L52.4,1147.3 L55.6,1149.2 L58.8,1148.8 L62.0,1149.7 L65.2,1145.5 L68.4,1145.6 L71.6,1145.9 L74.8,1145.2 L78.0,1142.7 L81.2,1142.4 L84.4,1140.4 L87.6,1144.1 L90.8,1139.6 L94.0,1138.3 L97.2,1135.8 L100.4,1134.9 L103.6,1134.0 L106.8,1130.4 L110.0,1128.5 L113.2,1129.0 L116.4,1124.7 L119.6,1120.9 L122.8,1117.0 L126.0,1114.1 L129.2,1109.4 L132.4,1106.4 L135.6,1100.0 L138.8,1093.9 L142.0,1087.2 L145.2,1078.3 L148.4,1071.3 L151.6,1065.3 L154.8,1052.1 L158.0,1042.7 L161.2,1039.7 L164.4,1033.6 L167.6,1035.2 L170.8,1038.7 L174.0,1049.6 L177.2,1058.6 L180.4,1066.6 L183.6,1073.6 L186.8,1075.9 L190.0,1072.3 L193.2,1069.2 L196.4,1070.1 L199.6,1072.8 L202.8,1079.0 L206.0,1088.5 L209.2,1102.6 L212.4,1110.2 L215.6,1119.1 L218.8,1126.0 L222.0,1134.0 L225.2,1134.4 L228.4,1140.5 L231.6,1139.5 L234.8,1137.6 L238.0,1139.5 L241.2,1138.4 L244.4,1137.7 L247.6,1127.3 L250.8,1122.3 L254.0,1115.0 L257.2,1109.6 L260.4,1100.3 L263.6,1094.3 L266.8,1095.5 L270.0,1104.4 L273.2,1115.3 L276.4,1129.9 L279.6,1132.9 L282.8,1132.8 L286.0,1131.9 L289.2,1134.8 L293.0,1132.6"/>
<path d="M46.0,1141.4 L49.2,1141.0 L52.4,1138.7 L55.6,1139.5 L58.8,1141.2 L62.0,1137.8 L65.2,1139.8 L68.4,1138.9 L71.6,1139.4 L74.8,1138.9 L78.0,1138.4 L81.2,1136.6 L84.4,1136.0 L87.6,1133.7 L90.8,1132.8 L94.0,1133.4 L97.2,1130.0 L100.4,1130.6 L103.6,1128.8 L106.8,1124.4 L110.0,1124.2 L113.2,1120.1 L116.4,1119.2 L119.6,1115.1 L122.8,1113.8 L126.0,1110.5 L129.2,1105.5 L132.4,1105.8 L135.6,1099.9 L138.8,1091.2 L142.0,1087.7 L145.2,1079.6 L148.4,1075.0 L151.6,1063.6 L154.8,1055.4 L158.0,1046.3 L161.2,1040.0 L164.4,1032.6 L167.6,1028.0 L170.8,1028.7 L174.0,1034.9 L177.2,1045.7 L180.4,1054.6 L183.6,1060.9 L186.8,1064.2 L190.0,1063.6 L193.2,1063.6 L196.4,1060.0 L199.6,1064.4 L202.8,1071.5 L206.0,1077.8 L209.2,1087.8 L212.4,1099.6 L215.6,1108.2 L218.8,1116.5 L222.0,1124.6 L225.2,1126.9 L228.4,1133.0 L231.6,1132.3 L234.8,1131.9 L238.0,1131.0 L241.2,1131.0 L244.4,1126.5 L247.6,1123.6 L250.8,1117.1 L254.0,1109.5 L257.2,1101.3 L260.4,1096.0 L263.6,1089.4 L266.8,1085.6 L270.0,1097.0 L273.2,1111.5 L276.4,1123.0 L279.6,1126.4 L282.8,1126.7 L286.0,1126.7 L289.2,1124.3 L293.0,1126.5"/>
<path d="M46.0,1133.8 L49.2,1130.9 L52.4,1131.3 L55.6,1135.8 L58.8,1133.3 L62.0,1134.7 L65.2,1132.1 L68.4,1134.3 L71.6,1132.6 L74.8,1130.4 L78.0,1131.1 L81.2,1132.2 L84.4,1132.5 L87.6,1129.1 L90.8,1126.8 L94.0,1125.1 L97.2,1125.9 L100.4,1125.0 L103.6,1122.2 L106.8,1120.1 L110.0,1119.4 L113.2,1116.9 L116.4,1114.6 L119.6,1109.6 L122.8,1108.6 L126.0,1108.9 L129.2,1103.2 L132.4,1103.1 L135.6,1096.5 L138.8,1091.0 L142.0,1086.5 L145.2,1080.7 L148.4,1071.9 L151.6,1065.3 L154.8,1056.1 L158.0,1050.3 L161.2,1039.9 L164.4,1033.9 L167.6,1026.5 L170.8,1023.2 L174.0,1026.1 L177.2,1031.0 L180.4,1040.1 L183.6,1048.4 L186.8,1053.9 L190.0,1053.1 L193.2,1054.6 L196.4,1055.6 L199.6,1055.5 L202.8,1059.3 L206.0,1067.8 L209.2,1080.8 L212.4,1089.1 L215.6,1101.1 L218.8,1107.0 L222.0,1115.6 L225.2,1116.8 L228.4,1121.4 L231.6,1123.7 L234.8,1126.7 L238.0,1125.0 L241.2,1125.6 L244.4,1122.3 L247.6,1116.8 L250.8,1111.5 L254.0,1104.3 L257.2,1097.0 L260.4,1090.1 L263.6,1081.0 L266.8,1081.6 L270.0,1089.6 L273.2,1104.8 L276.4,1116.4 L279.6,1117.5 L282.8,1117.1 L286.0,1117.4 L289.2,1119.4 L293.0,1120.8"/>
<path d="M46.0,1126.5 L49.2,1127.8 L52.4,1124.8 L55.6,1125.5 L58.8,1124.9 L62.0,1125.9 L65.2,1124.1 L68.4,1125.2 L71.6,1125.7 L74.8,1123.9 L78.0,1122.8 L81.2,1122.8 L84.4,1121.1 L87.6,1120.6 L90.8,1122.2 L94.0,1120.6 L97.2,1117.0 L100.4,1117.3 L103.6,1116.9 L106.8,1115.8 L110.0,1113.9 L113.2,1112.4 L116.4,1109.0 L119.6,1106.9 L122.8,1104.2 L126.0,1103.5 L129.2,1100.4 L132.4,1098.6 L135.6,1094.3 L138.8,1087.7 L142.0,1082.2 L145.2,1076.9 L148.4,1071.4 L151.6,1066.4 L154.8,1055.9 L158.0,1047.0 L161.2,1041.6 L164.4,1035.7 L167.6,1029.6 L170.8,1026.0 L174.0,1020.8 L177.2,1021.9 L180.4,1027.7 L183.6,1033.0 L186.8,1039.5 L190.0,1045.6 L193.2,1048.1 L196.4,1047.8 L199.6,1048.4 L202.8,1052.2 L206.0,1060.0 L209.2,1066.3 L212.4,1079.7 L215.6,1089.7 L218.8,1097.0 L222.0,1104.1 L225.2,1107.0 L228.4,1113.9 L231.6,1116.2 L234.8,1112.5 L238.0,1115.8 L241.2,1117.0 L244.4,1118.1 L247.6,1110.0 L250.8,1103.5 L254.0,1098.1 L257.2,1089.5 L260.4,1081.5 L263.6,1074.1 L266.8,1071.5 L270.0,1081.0 L273.2,1097.2 L276.4,1107.0 L279.6,1113.5 L282.8,1113.8 L286.0,1114.1 L289.2,1112.5 L293.0,1112.3"/>
<path d="M46.0,1120.1 L49.2,1119.7 L52.4,1120.9 L55.6,1119.1 L58.8,1121.7 L62.0,1122.7 L65.2,1117.8 L68.4,1118.9 L71.6,1116.5 L74.8,1118.7 L78.0,1117.8 L81.2,1116.5 L84.4,1114.8 L87.6,1115.6 L90.8,1117.5 L94.0,1116.0 L97.2,1113.4 L100.4,1110.9 L103.6,1110.5 L106.8,1108.0 L110.0,1105.7 L113.2,1104.6 L116.4,1104.8 L119.6,1102.4 L122.8,1100.1 L126.0,1096.0 L129.2,1093.1 L132.4,1093.6 L135.6,1088.7 L138.8,1087.3 L142.0,1080.7 L145.2,1078.4 L148.4,1071.9 L151.6,1064.8 L154.8,1057.8 L158.0,1053.5 L161.2,1044.4 L164.4,1035.4 L167.6,1029.3 L170.8,1021.3 L174.0,1021.4 L177.2,1018.8 L180.4,1018.4 L183.6,1024.5 L186.8,1025.8 L190.0,1035.8 L193.2,1038.6 L196.4,1041.0 L199.6,1044.7 L202.8,1048.5 L206.0,1053.1 L209.2,1061.4 L212.4,1070.9 L215.6,1081.0 L218.8,1087.8 L222.0,1093.5 L225.2,1100.3 L228.4,1102.1 L231.6,1109.3 L234.8,1108.5 L238.0,1107.4 L241.2,1109.2 L244.4,1110.1 L247.6,1105.8 L250.8,1100.3 L254.0,1087.9 L257.2,1084.6 L260.4,1075.1 L263.6,1069.1 L266.8,1066.7 L270.0,1073.3 L273.2,1086.8 L276.4,1100.6 L279.6,1103.4 L282.8,1102.8 L286.0,1105.5 L289.2,1106.9 L293.0,1104.5"/>
<path d="M46.0,1113.1 L49.2,1117.3 L52.4,1112.6 L55.6,1111.6 L58.8,1111.6 L62.0,1112.3 L65.2,1111.1 L68.4,1112.2 L71.6,1111.3 L74.8,1112.0 L78.0,1110.6 L81.2,1109.8 L84.4,1108.2 L87.6,1107.1 L90.8,1107.9 L94.0,1107.1 L97.2,1107.2 L100.4,1105.8 L103.6,1104.4 L106.8,1106.8 L110.0,1102.9 L113.2,1102.7 L116.4,1098.2 L119.6,1099.2 L122.8,1097.6 L126.0,1094.6 L129.2,1090.5 L132.4,1090.8 L135.6,1085.1 L138.8,1080.6 L142.0,1076.5 L145.2,1074.1 L148.4,1068.0 L151.6,1063.7 L154.8,1056.9 L158.0,1050.9 L161.2,1042.4 L164.4,1035.2 L167.6,1028.9 L170.8,1022.5 L174.0,1018.3 L177.2,1015.4 L180.4,1016.0 L183.6,1016.5 L186.8,1021.1 L190.0,1027.0 L193.2,1026.7 L196.4,1033.5 L199.6,1038.7 L202.8,1046.4 L206.0,1051.8 L209.2,1060.9 L212.4,1073.0 L215.6,1075.7 L218.8,1084.1 L222.0,1090.2 L225.2,1093.9 L228.4,1096.0 L231.6,1101.2 L234.8,1098.6 L238.0,1100.4 L241.2,1101.5 L244.4,1100.7 L247.6,1100.5 L250.8,1091.1 L254.0,1086.2 L257.2,1075.9 L260.4,1070.5 L263.6,1061.5 L266.8,1056.8 L270.0,1067.2 L273.2,1082.8 L276.4,1093.2 L279.6,1098.4 L282.8,1097.2 L286.0,1095.4 L289.2,1098.8 L293.0,1098.9"/>
<path d="M46.0,1103.4 L49.2,1105.6 L52.4,1104.5 L55.6,1102.1 L58.8,1103.3 L62.0,1105.3 L65.2,1105.7 L68.4,1104.6 L71.6,1107.7 L74.8,1104.1 L78.0,1102.3 L81.2,1101.0 L84.4,1104.7 L87.6,1101.6 L90.8,1101.2 L94.0,1100.0 L97.2,1099.4 L100.4,1099.3 L103.6,1099.6 L106.8,1098.8 L110.0,1097.5 L113.2,1097.2 L116.4,1093.9 L119.6,1091.8 L122.8,1091.5 L126.0,1086.9 L129.2,1088.7 L132.4,1085.8 L135.6,1082.9 L138.8,1077.4 L142.0,1074.2 L145.2,1070.4 L148.4,1063.8 L151.6,1058.0 L154.8,1053.0 L158.0,1047.0 L161.2,1039.3 L164.4,1035.3 L167.6,1031.2 L170.8,1024.1 L174.0,1019.1 L177.2,1015.9 L180.4,1016.8 L183.6,1015.3 L186.8,1017.7 L190.0,1020.5 L193.2,1023.6 L196.4,1031.5 L199.6,1035.3 L202.8,1042.9 L206.0,1047.7 L209.2,1061.8 L212.4,1067.8 L215.6,1073.7 L218.8,1078.9 L222.0,1084.1 L225.2,1086.5 L228.4,1092.2 L231.6,1092.3 L234.8,1095.1 L238.0,1095.5 L241.2,1097.4 L244.4,1094.8 L247.6,1092.5 L250.8,1085.5 L254.0,1076.0 L257.2,1068.8 L260.4,1062.0 L263.6,1055.6 L266.8,1051.1 L270.0,1060.1 L273.2,1076.1 L276.4,1086.5 L279.6,1089.5 L282.8,1093.5 L286.0,1091.3 L289.2,1090.6 L293.0,1089.5"/>
<path d="M46.0,1097.4 L49.2,1100.2 L52.4,1097.7 L55.6,1100.7 L58.8,1097.7 L62.0,1099.0 L65.2,1097.4 L68.4,1096.6 L71.6,1096.5 L74.8,1096.5 L78.0,1095.0 L81.2,1094.7 L84.4,1096.5 L87.6,1097.4 L90.8,1095.5 L94.0,1094.9 L97.2,1093.1 L100.4,1095.3 L103.6,1094.6 L106.8,1090.8 L110.0,1091.6 L113.2,1090.1 L116.4,1087.4 L119.6,1090.4 L122.8,1088.3 L126.0,1085.4 L129.2,1084.9 L132.4,1079.9 L135.6,1078.2 L138.8,1076.4 L142.0,1070.3 L145.2,1066.8 L148.4,1060.2 L151.6,1057.0 L154.8,1051.9 L158.0,1043.0 L161.2,1037.3 L164.4,1032.5 L167.6,1029.2 L170.8,1022.0 L174.0,1017.9 L177.2,1016.0 L180.4,1015.8 L183.6,1011.8 L186.8,1014.8 L190.0,1019.3 L193.2,1021.3 L196.4,1025.8 L199.6,1033.4 L202.8,1037.6 L206.0,1049.6 L209.2,1055.3 L212.4,1061.6 L215.6,1068.9 L218.8,1074.4 L222.0,1078.8 L225.2,1081.0 L228.4,1084.9 L231.6,1084.5 L234.8,1089.6 L238.0,1086.4 L241.2,1086.8 L244.4,1086.4 L247.6,1086.2 L250.8,1077.7 L254.0,1071.9 L257.2,1061.6 L260.4,1054.8 L263.6,1046.9 L266.8,1042.4 L270.0,1054.7 L273.2,1068.9 L276.4,1081.7 L279.6,1082.6 L282.8,1084.8 L286.0,1082.6 L289.2,1082.5 L293.0,1081.6"/>
<path d="M46.0,1089.4 L49.2,1091.4 L52.4,1092.4 L55.6,1092.8 L58.8,1089.1 L62.0,1089.4 L65.2,1090.4 L68.4,1090.2 L71.6,1090.1 L74.8,1087.3 L78.0,1089.3 L81.2,1090.1 L84.4,1089.4 L87.6,1088.6 L90.8,1087.5 L94.0,1088.0 L97.2,1089.9 L100.4,1088.0 L103.6,1088.2 L106.8,1088.4 L110.0,1083.9 L113.2,1085.5 L116.4,1084.2 L119.6,1084.2 L122.8,1080.8 L126.0,1079.2 L129.2,1076.6 L132.4,1075.5 L135.6,1072.2 L138.8,1069.2 L142.0,1066.2 L145.2,1061.2 L148.4,1055.8 L151.6,1051.6 L154.8,1046.1 L158.0,1041.9 L161.2,1037.6 L164.4,1030.2 L167.6,1022.5 L170.8,1022.3 L174.0,1018.0 L177.2,1014.2 L180.4,1013.4 L183.6,1015.7 L186.8,1012.0 L190.0,1014.7 L193.2,1019.7 L196.4,1020.2 L199.6,1029.5 L202.8,1037.8 L206.0,1044.1 L209.2,1050.8 L212.4,1056.5 L215.6,1062.7 L218.8,1071.8 L222.0,1072.7 L225.2,1077.5 L228.4,1076.4 L231.6,1080.0 L234.8,1080.9 L238.0,1080.9 L241.2,1077.6 L244.4,1079.6 L247.6,1080.2 L250.8,1071.9 L254.0,1062.0 L257.2,1056.4 L260.4,1045.0 L263.6,1040.7 L266.8,1036.1 L270.0,1045.1 L273.2,1058.6 L276.4,1070.5 L279.6,1077.0 L282.8,1079.5 L286.0,1078.2 L289.2,1077.5 L293.0,1078.1"/>
<path d="M46.0,1082.6 L49.2,1084.0 L52.4,1079.3 L55.6,1082.5 L58.8,1082.4 L62.0,1082.9 L65.2,1082.7 L68.4,1083.6 L71.6,1081.8 L74.8,1083.8 L78.0,1082.1 L81.2,1083.4 L84.4,1082.2 L87.6,1083.0 L90.8,1082.2 L94.0,1080.5 L97.2,1081.2 L100.4,1078.9 L103.6,1080.2 L106.8,1080.2 L110.0,1078.7 L113.2,1078.1 L116.4,1078.7 L119.6,1078.0 L122.8,1077.0 L126.0,1072.7 L129.2,1071.1 L132.4,1070.6 L135.6,1068.1 L138.8,1061.5 L142.0,1063.2 L145.2,1058.3 L148.4,1050.8 L151.6,1049.5 L154.8,1042.6 L158.0,1038.0 L161.2,1031.9 L164.4,1027.3 L167.6,1023.5 L170.8,1020.2 L174.0,1015.4 L177.2,1014.5 L180.4,1012.2 L183.6,1012.0 L186.8,1012.5 L190.0,1015.1 L193.2,1021.6 L196.4,1021.8 L199.6,1027.5 L202.8,1034.9 L206.0,1040.2 L209.2,1045.3 L212.4,1052.8 L215.6,1055.7 L218.8,1061.7 L222.0,1066.7 L225.2,1069.1 L228.4,1070.2 L231.6,1072.0 L234.8,1073.0 L238.0,1073.8 L241.2,1071.6 L244.4,1074.3 L247.6,1071.9 L250.8,1066.6 L254.0,1057.1 L257.2,1049.5 L260.4,1036.5 L263.6,1032.2 L266.8,1030.9 L270.0,1039.2 L273.2,1052.2 L276.4,1066.5 L279.6,1070.3 L282.8,1070.6 L286.0,1069.0 L289.2,1070.6 L293.0,1071.9"/>
<path d="M46.0,1076.5 L49.2,1076.7 L52.4,1075.1 L55.6,1076.6 L58.8,1075.3 L62.0,1074.0 L65.2,1075.2 L68.4,1075.3 L71.6,1076.3 L74.8,1076.7 L78.0,1075.0 L81.2,1074.7 L84.4,1075.9 L87.6,1073.6 L90.8,1074.2 L94.0,1074.1 L97.2,1073.9 L100.4,1073.0 L103.6,1075.6 L106.8,1074.3 L110.0,1072.2 L113.2,1069.8 L116.4,1070.2 L119.6,1070.6 L122.8,1065.9 L126.0,1070.4 L129.2,1065.1 L132.4,1063.0 L135.6,1061.4 L138.8,1055.7 L142.0,1054.5 L145.2,1050.7 L148.4,1047.7 L151.6,1041.0 L154.8,1038.7 L158.0,1034.8 L161.2,1028.9 L164.4,1023.3 L167.6,1018.6 L170.8,1013.6 L174.0,1012.0 L177.2,1011.0 L180.4,1010.6 L183.6,1009.2 L186.8,1009.7 L190.0,1008.9 L193.2,1011.6 L196.4,1013.7 L199.6,1019.4 L202.8,1023.8 L206.0,1030.3 L209.2,1037.1 L212.4,1041.4 L215.6,1046.1 L218.8,1052.1 L222.0,1057.1 L225.2,1059.8 L228.4,1058.6 L231.6,1065.1 L234.8,1063.3 L238.0,1062.5 L241.2,1064.2 L244.4,1066.0 L247.6,1059.8 L250.8,1058.6 L254.0,1049.1 L257.2,1041.8 L260.4,1031.5 L263.6,1024.9 L266.8,1019.7 L270.0,1033.0 L273.2,1044.6 L276.4,1059.0 L279.6,1062.2 L282.8,1060.7 L286.0,1064.1 L289.2,1064.4 L293.0,1064.8"/>
<path d="M46.0,1068.2 L49.2,1068.9 L52.4,1069.7 L55.6,1069.2 L58.8,1069.0 L62.0,1071.8 L65.2,1068.0 L68.4,1069.7 L71.6,1067.7 L74.8,1070.2 L78.0,1067.9 L81.2,1066.8 L84.4,1069.0 L87.6,1067.9 L90.8,1067.1 L94.0,1067.2 L97.2,1066.4 L100.4,1067.6 L103.6,1067.0 L106.8,1068.4 L110.0,1064.6 L113.2,1066.8 L116.4,1064.8 L119.6,1061.1 L122.8,1063.8 L126.0,1057.9 L129.2,1059.2 L132.4,1053.9 L135.6,1054.3 L138.8,1050.7 L142.0,1047.7 L145.2,1041.9 L148.4,1039.7 L151.6,1038.3 L154.8,1033.3 L158.0,1028.0 L161.2,1023.5 L164.4,1018.6 L167.6,1017.4 L170.8,1011.8 L174.0,1010.1 L177.2,1004.1 L180.4,1002.2 L183.6,1005.1 L186.8,1001.8 L190.0,1003.5 L193.2,1006.3 L196.4,1009.7 L199.6,1013.0 L202.8,1017.3 L206.0,1023.5 L209.2,1026.7 L212.4,1032.6 L215.6,1036.3 L218.8,1041.1 L222.0,1047.5 L225.2,1048.1 L228.4,1047.8 L231.6,1053.5 L234.8,1055.1 L238.0,1058.3 L241.2,1055.8 L244.4,1055.0 L247.6,1055.9 L250.8,1052.1 L254.0,1041.2 L257.2,1035.6 L260.4,1027.0 L263.6,1019.5 L266.8,1012.9 L270.0,1024.3 L273.2,1037.4 L276.4,1051.5 L279.6,1055.1 L282.8,1057.5 L286.0,1055.1 L289.2,1055.5 L293.0,1052.7"/>
<path d="M46.0,1060.4 L49.2,1065.0 L52.4,1061.1 L55.6,1059.3 L58.8,1061.4 L62.0,1061.1 L65.2,1060.7 L68.4,1060.9 L71.6,1060.6 L74.8,1062.4 L78.0,1059.4 L81.2,1061.2 L84.4,1062.0 L87.6,1059.5 L90.8,1063.6 L94.0,1060.5 L97.2,1060.0 L100.4,1059.1 L103.6,1060.6 L106.8,1056.9 L110.0,1059.3 L113.2,1060.8 L116.4,1057.5 L119.6,1057.1 L122.8,1053.5 L126.0,1054.3 L129.2,1050.5 L132.4,1048.9 L135.6,1047.1 L138.8,1047.1 L142.0,1040.7 L145.2,1035.5 L148.4,1034.8 L151.6,1031.9 L154.8,1027.7 L158.0,1023.1 L161.2,1020.5 L164.4,1015.9 L167.6,1012.1 L170.8,1006.9 L174.0,1002.4 L177.2,1004.0 L180.4,998.7 L183.6,1000.4 L186.8,999.7 L190.0,996.7 L193.2,998.6 L196.4,1002.2 L199.6,1006.0 L202.8,1007.0 L206.0,1012.1 L209.2,1015.6 L212.4,1020.0 L215.6,1026.4 L218.8,1030.1 L222.0,1032.0 L225.2,1039.0 L228.4,1040.9 L231.6,1043.3 L234.8,1043.8 L238.0,1047.7 L241.2,1048.0 L244.4,1048.6 L247.6,1047.6 L250.8,1042.4 L254.0,1036.3 L257.2,1026.8 L260.4,1019.3 L263.6,1010.7 L266.8,1007.6 L270.0,1016.5 L273.2,1030.3 L276.4,1045.9 L279.6,1048.8 L282.8,1047.7 L286.0,1047.8 L289.2,1048.1 L293.0,1047.3"/>
<path d="M46.0,1056.5 L49.2,1055.3 L52.4,1052.6 L55.6,1056.0 L58.8,1053.8 L62.0,1054.7 L65.2,1053.7 L68.4,1054.8 L71.6,1054.6 L74.8,1055.1 L78.0,1055.1 L81.2,1050.4 L84.4,1053.1 L87.6,1053.6 L90.8,1053.2 L94.0,1051.3 L97.2,1052.5 L100.4,1052.5 L103.6,1049.6 L106.8,1050.7 L110.0,1052.3 L113.2,1049.6 L116.4,1049.5 L119.6,1048.7 L122.8,1048.1 L126.0,1047.0 L129.2,1045.7 L132.4,1042.5 L135.6,1040.3 L138.8,1037.3 L142.0,1034.9 L145.2,1031.4 L148.4,1029.2 L151.6,1025.6 L154.8,1019.1 L158.0,1014.1 L161.2,1014.0 L164.4,1008.9 L167.6,1004.0 L170.8,1004.1 L174.0,1001.9 L177.2,995.8 L180.4,994.1 L183.6,993.0 L186.8,992.1 L190.0,992.8 L193.2,992.1 L196.4,995.2 L199.6,997.0 L202.8,1001.9 L206.0,1003.9 L209.2,1009.3 L212.4,1014.3 L215.6,1017.3 L218.8,1021.7 L222.0,1024.2 L225.2,1028.4 L228.4,1034.6 L231.6,1036.0 L234.8,1036.1 L238.0,1036.9 L241.2,1038.3 L244.4,1040.9 L247.6,1036.5 L250.8,1034.4 L254.0,1024.6 L257.2,1020.8 L260.4,1009.5 L263.6,1005.1 L266.8,998.8 L270.0,1009.3 L273.2,1026.1 L276.4,1037.0 L279.6,1042.7 L282.8,1042.2 L286.0,1040.0 L289.2,1041.5 L293.0,1042.8"/>
<path d="M46.0,1047.6 L49.2,1047.4 L52.4,1046.1 L55.6,1049.1 L58.8,1046.2 L62.0,1049.4 L65.2,1047.1 L68.4,1047.8 L71.6,1044.8 L74.8,1046.8 L78.0,1045.3 L81.2,1046.6 L84.4,1048.0 L87.6,1046.7 L90.8,1046.4 L94.0,1047.2 L97.2,1044.0 L100.4,1045.4 L103.6,1044.0 L106.8,1045.9 L110.0,1042.8 L113.2,1045.2 L116.4,1044.9 L119.6,1038.2 L122.8,1039.6 L126.0,1036.2 L129.2,1038.3 L132.4,1033.5 L135.6,1033.3 L138.8,1030.5 L142.0,1026.1 L145.2,1022.4 L148.4,1022.9 L151.6,1017.3 L154.8,1015.0 L158.0,1013.2 L161.2,1007.7 L164.4,1003.9 L167.6,999.7 L170.8,998.7 L174.0,994.2 L177.2,990.6 L180.4,990.1 L183.6,988.6 L186.8,986.3 L190.0,987.8 L193.2,989.4 L196.4,990.1 L199.6,993.9 L202.8,995.1 L206.0,996.9 L209.2,997.2 L212.4,1004.1 L215.6,1009.4 L218.8,1011.3 L222.0,1017.4 L225.2,1017.7 L228.4,1022.4 L231.6,1025.8 L234.8,1029.1 L238.0,1028.3 L241.2,1032.3 L244.4,1030.2 L247.6,1028.5 L250.8,1026.0 L254.0,1020.6 L257.2,1010.9 L260.4,1006.2 L263.6,996.1 L266.8,994.4 L270.0,998.8 L273.2,1019.7 L276.4,1027.1 L279.6,1034.6 L282.8,1032.9 L286.0,1035.0 L289.2,1034.2 L293.0,1034.1"/>
<path d="M46.0,1040.9 L49.2,1041.3 L52.4,1039.5 L55.6,1041.6 L58.8,1037.4 L62.0,1038.3 L65.2,1037.8 L68.4,1040.3 L71.6,1040.8 L74.8,1038.9 L78.0,1038.5 L81.2,1037.6 L84.4,1040.1 L87.6,1040.6 L90.8,1038.0 L94.0,1038.3 L97.2,1037.7 L100.4,1037.8 L103.6,1038.0 L106.8,1033.8 L110.0,1035.4 L113.2,1036.5 L116.4,1033.2 L119.6,1035.1 L122.8,1034.1 L126.0,1029.3 L129.2,1027.9 L132.4,1028.9 L135.6,1022.7 L138.8,1021.2 L142.0,1017.9 L145.2,1017.5 L148.4,1015.0 L151.6,1012.2 L154.8,1008.8 L158.0,1003.3 L161.2,1003.7 L164.4,998.9 L167.6,995.4 L170.8,995.5 L174.0,990.7 L177.2,988.8 L180.4,987.6 L183.6,987.7 L186.8,983.8 L190.0,984.2 L193.2,979.9 L196.4,982.4 L199.6,987.9 L202.8,989.7 L206.0,989.2 L209.2,991.1 L212.4,993.7 L215.6,997.5 L218.8,1002.0 L222.0,1003.9 L225.2,1009.5 L228.4,1012.5 L231.6,1013.6 L234.8,1015.6 L238.0,1017.5 L241.2,1019.9 L244.4,1021.5 L247.6,1023.2 L250.8,1015.6 L254.0,1010.3 L257.2,1003.5 L260.4,996.6 L263.6,989.9 L266.8,983.5 L270.0,995.9 L273.2,1012.3 L276.4,1023.2 L279.6,1029.5 L282.8,1028.7 L286.0,1028.0 L289.2,1027.1 L293.0,1027.8"/>
<path d="M46.0,1035.6 L49.2,1032.8 L52.4,1031.6 L55.6,1031.9 L58.8,1033.7 L62.0,1031.7 L65.2,1033.8 L68.4,1033.4 L71.6,1032.7 L74.8,1034.6 L78.0,1030.3 L81.2,1031.2 L84.4,1031.6 L87.6,1032.2 L90.8,1029.5 L94.0,1030.3 L97.2,1032.6 L100.4,1029.8 L103.6,1031.1 L106.8,1028.9 L110.0,1027.4 L113.2,1028.4 L116.4,1028.5 L119.6,1025.5 L122.8,1022.4 L126.0,1021.7 L129.2,1020.5 L132.4,1018.9 L135.6,1015.9 L138.8,1015.9 L142.0,1011.1 L145.2,1011.4 L148.4,1005.9 L151.6,1003.2 L154.8,1003.2 L158.0,999.7 L161.2,995.3 L164.4,992.0 L167.6,989.7 L170.8,987.5 L174.0,985.3 L177.2,984.2 L180.4,979.7 L183.6,979.3 L186.8,978.3 L190.0,975.5 L193.2,978.7 L196.4,979.5 L199.6,977.9 L202.8,976.8 L206.0,980.1 L209.2,984.9 L212.4,983.6 L215.6,986.7 L218.8,992.0 L222.0,996.6 L225.2,1000.3 L228.4,1003.5 L231.6,1001.4 L234.8,1006.0 L238.0,1007.4 L241.2,1009.0 L244.4,1012.9 L247.6,1013.4 L250.8,1008.0 L254.0,1002.3 L257.2,995.2 L260.4,989.6 L263.6,979.8 L266.8,976.8 L270.0,985.1 L273.2,1001.9 L276.4,1014.9 L279.6,1020.2 L282.8,1020.0 L286.0,1022.1 L289.2,1019.2 L293.0,1019.0"/>
<path d="M46.0,1024.7 L49.2,1026.1 L52.4,1026.4 L55.6,1025.3 L58.8,1024.4 L62.0,1024.7 L65.2,1024.3 L68.4,1025.8 L71.6,1025.0 L74.8,1025.2 L78.0,1024.9 L81.2,1024.7 L84.4,1026.0 L87.6,1023.6 L90.8,1024.5 L94.0,1024.2 L97.2,1022.3 L100.4,1024.9 L103.6,1022.5 L106.8,1020.0 L110.0,1022.1 L113.2,1020.7 L116.4,1019.8 L119.6,1017.5 L122.8,1016.0 L126.0,1015.2 L129.2,1011.6 L132.4,1011.8 L135.6,1009.7 L138.8,1008.7 L142.0,1004.9 L145.2,1003.6 L148.4,998.4 L151.6,996.6 L154.8,996.0 L158.0,994.1 L161.2,990.6 L164.4,984.8 L167.6,982.8 L170.8,980.9 L174.0,981.0 L177.2,976.4 L180.4,975.7 L183.6,974.4 L186.8,973.2 L190.0,971.5 L193.2,971.5 L196.4,972.1 L199.6,971.5 L202.8,972.1 L206.0,974.6 L209.2,977.5 L212.4,981.0 L215.6,978.9 L218.8,983.6 L222.0,986.4 L225.2,987.7 L228.4,991.5 L231.6,993.5 L234.8,995.3 L238.0,997.7 L241.2,1001.0 L244.4,1000.5 L247.6,1002.5 L250.8,999.7 L254.0,991.7 L257.2,984.5 L260.4,977.2 L263.6,971.2 L266.8,969.5 L270.0,975.7 L273.2,994.4 L276.4,1006.0 L279.6,1011.0 L282.8,1013.5 L286.0,1013.4 L289.2,1013.7 L293.0,1013.0"/>
<path d="M46.0,1019.3 L49.2,1017.3 L52.4,1018.5 L55.6,1019.3 L58.8,1017.9 L62.0,1016.8 L65.2,1020.0 L68.4,1017.4 L71.6,1016.3 L74.8,1018.3 L78.0,1019.0 L81.2,1017.9 L84.4,1015.4 L87.6,1016.8 L90.8,1016.8 L94.0,1016.8 L97.2,1013.7 L100.4,1013.4 L103.6,1014.7 L106.8,1013.8 L110.0,1013.6 L113.2,1013.6 L116.4,1009.3 L119.6,1008.4 L122.8,1007.9 L126.0,1009.2 L129.2,1005.3 L132.4,1005.2 L135.6,998.8 L138.8,1000.3 L142.0,999.0 L145.2,997.4 L148.4,992.2 L151.6,993.4 L154.8,987.1 L158.0,987.6 L161.2,985.4 L164.4,980.5 L167.6,976.4 L170.8,978.8 L174.0,974.2 L177.2,970.0 L180.4,970.5 L183.6,966.9 L186.8,967.2 L190.0,964.5 L193.2,962.2 L196.4,965.8 L199.6,964.0 L202.8,965.2 L206.0,966.5 L209.2,967.6 L212.4,968.7 L215.6,972.3 L218.8,975.1 L222.0,977.2 L225.2,979.0 L228.4,982.1 L231.6,986.4 L234.8,988.1 L238.0,988.0 L241.2,990.9 L244.4,992.7 L247.6,994.2 L250.8,990.7 L254.0,984.7 L257.2,976.8 L260.4,971.5 L263.6,964.3 L266.8,960.1 L270.0,970.5 L273.2,986.0 L276.4,998.4 L279.6,1003.1 L282.8,1005.2 L286.0,1004.8 L289.2,1006.5 L293.0,1004.9"/>
<path d="M46.0,1010.4 L49.2,1009.2 L52.4,1010.8 L55.6,1010.4 L58.8,1012.4 L62.0,1010.9 L65.2,1012.6 L68.4,1009.6 L71.6,1008.4 L74.8,1011.8 L78.0,1010.8 L81.2,1012.1 L84.4,1008.8 L87.6,1007.1 L90.8,1011.2 L94.0,1009.0 L97.2,1007.4 L100.4,1010.4 L103.6,1006.9 L106.8,1005.0 L110.0,1005.7 L113.2,1003.4 L116.4,1001.9 L119.6,1002.2 L122.8,1000.3 L126.0,998.5 L129.2,996.9 L132.4,993.5 L135.6,994.4 L138.8,994.0 L142.0,989.7 L145.2,988.9 L148.4,987.5 L151.6,982.3 L154.8,979.3 L158.0,976.5 L161.2,974.7 L164.4,974.0 L167.6,970.5 L170.8,970.0 L174.0,965.5 L177.2,966.6 L180.4,962.2 L183.6,961.0 L186.8,960.0 L190.0,958.6 L193.2,958.1 L196.4,958.7 L199.6,957.8 L202.8,959.1 L206.0,958.4 L209.2,959.9 L212.4,960.9 L215.6,965.9 L218.8,966.3 L222.0,970.6 L225.2,972.8 L228.4,975.3 L231.6,977.2 L234.8,980.3 L238.0,982.1 L241.2,985.3 L244.4,984.6 L247.6,986.0 L250.8,982.4 L254.0,980.3 L257.2,969.7 L260.4,964.9 L263.6,957.8 L266.8,950.6 L270.0,961.7 L273.2,979.2 L276.4,992.5 L279.6,996.0 L282.8,998.3 L286.0,1000.4 L289.2,999.1 L293.0,999.6"/>
<path d="M46.0,1005.5 L49.2,1006.7 L52.4,1003.8 L55.6,1002.9 L58.8,1003.5 L62.0,1002.9 L65.2,1001.7 L68.4,1003.2 L71.6,1002.0 L74.8,1004.7 L78.0,1002.7 L81.2,999.2 L84.4,1000.9 L87.6,1002.4 L90.8,1000.7 L94.0,999.9 L97.2,999.6 L100.4,998.5 L103.6,999.6 L106.8,997.2 L110.0,995.5 L113.2,996.7 L116.4,992.7 L119.6,993.1 L122.8,990.0 L126.0,989.1 L129.2,987.3 L132.4,984.7 L135.6,983.6 L138.8,984.4 L142.0,978.9 L145.2,981.0 L148.4,977.3 L151.6,976.1 L154.8,971.1 L158.0,970.9 L161.2,967.4 L164.4,967.6 L167.6,962.1 L170.8,962.2 L174.0,957.8 L177.2,958.6 L180.4,954.5 L183.6,952.1 L186.8,950.6 L190.0,950.7 L193.2,952.9 L196.4,948.8 L199.6,949.5 L202.8,950.9 L206.0,952.2 L209.2,953.9 L212.4,957.6 L215.6,957.4 L218.8,958.2 L222.0,963.8 L225.2,964.9 L228.4,967.6 L231.6,970.5 L234.8,974.5 L238.0,975.9 L241.2,976.1 L244.4,977.3 L247.6,980.1 L250.8,976.3 L254.0,968.3 L257.2,963.0 L260.4,958.3 L263.6,949.0 L266.8,944.5 L270.0,957.4 L273.2,973.2 L276.4,987.5 L279.6,989.8 L282.8,991.8 L286.0,993.2 L289.2,993.0 L293.0,991.3"/>
<path d="M46.0,996.1 L49.2,995.4 L52.4,995.6 L55.6,996.8 L58.8,996.7 L62.0,995.0 L65.2,996.9 L68.4,996.2 L71.6,997.5 L74.8,994.9 L78.0,995.7 L81.2,992.1 L84.4,995.8 L87.6,995.2 L90.8,995.0 L94.0,993.3 L97.2,992.6 L100.4,991.7 L103.6,992.5 L106.8,988.4 L110.0,988.4 L113.2,988.0 L116.4,985.3 L119.6,983.0 L122.8,982.2 L126.0,981.4 L129.2,981.4 L132.4,976.8 L135.6,972.8 L138.8,975.2 L142.0,971.9 L145.2,970.7 L148.4,967.7 L151.6,965.8 L154.8,961.1 L158.0,962.3 L161.2,957.9 L164.4,958.1 L167.6,952.6 L170.8,954.7 L174.0,950.9 L177.2,946.3 L180.4,947.9 L183.6,946.5 L186.8,945.3 L190.0,942.8 L193.2,946.7 L196.4,942.8 L199.6,944.9 L202.8,940.8 L206.0,946.0 L209.2,947.3 L212.4,948.6 L215.6,952.5 L218.8,952.6 L222.0,956.7 L225.2,958.7 L228.4,961.8 L231.6,962.5 L234.8,966.9 L238.0,968.7 L241.2,970.2 L244.4,972.1 L247.6,972.9 L250.8,970.9 L254.0,964.9 L257.2,958.8 L260.4,949.8 L263.6,944.1 L266.8,941.4 L270.0,950.3 L273.2,963.8 L276.4,980.9 L279.6,982.2 L282.8,984.3 L286.0,986.3 L289.2,985.8 L293.0,985.5"/>
<path d="M46.0,987.8 L49.2,986.9 L52.4,989.8 L55.6,989.4 L58.8,991.2 L62.0,988.1 L65.2,987.3 L68.4,987.9 L71.6,986.0 L74.8,987.8 L78.0,987.9 L81.2,987.5 L84.4,989.7 L87.6,989.3 L90.8,985.8 L94.0,984.8 L97.2,986.4 L100.4,985.2 L103.6,981.0 L106.8,980.5 L110.0,979.1 L113.2,976.9 L116.4,976.3 L119.6,973.8 L122.8,974.8 L126.0,972.7 L129.2,968.0 L132.4,967.7 L135.6,966.0 L138.8,966.9 L142.0,962.4 L145.2,962.6 L148.4,961.7 L151.6,956.4 L154.8,956.3 L158.0,953.7 L161.2,952.8 L164.4,947.7 L167.6,947.1 L170.8,943.4 L174.0,944.8 L177.2,939.4 L180.4,940.6 L183.6,937.1 L186.8,937.1 L190.0,936.2 L193.2,936.9 L196.4,937.3 L199.6,938.3 L202.8,939.2 L206.0,938.6 L209.2,938.7 L212.4,943.9 L215.6,943.0 L218.8,947.3 L222.0,949.3 L225.2,952.3 L228.4,956.2 L231.6,957.1 L234.8,960.9 L238.0,963.0 L241.2,966.6 L244.4,968.7 L247.6,970.2 L250.8,967.7 L254.0,963.4 L257.2,955.3 L260.4,945.0 L263.6,939.6 L266.8,934.4 L270.0,942.2 L273.2,959.2 L276.4,972.5 L279.6,976.7 L282.8,978.0 L286.0,977.1 L289.2,976.4 L293.0,978.1"/>
<path d="M46.0,979.4 L49.2,983.4 L52.4,981.4 L55.6,981.9 L58.8,983.0 L62.0,982.9 L65.2,981.1 L68.4,981.9 L71.6,982.5 L74.8,982.9 L78.0,979.7 L81.2,980.8 L84.4,978.5 L87.6,978.2 L90.8,978.6 L94.0,977.6 L97.2,975.4 L100.4,974.6 L103.6,974.5 L106.8,971.3 L110.0,971.9 L113.2,968.5 L116.4,970.3 L119.6,966.9 L122.8,966.0 L126.0,962.7 L129.2,963.0 L132.4,960.5 L135.6,959.2 L138.8,956.6 L142.0,955.6 L145.2,952.9 L148.4,952.1 L151.6,949.1 L154.8,947.3 L158.0,946.0 L161.2,944.0 L164.4,941.9 L167.6,939.0 L170.8,937.9 L174.0,937.8 L177.2,935.1 L180.4,933.9 L183.6,931.5 L186.8,933.1 L190.0,930.2 L193.2,930.9 L196.4,930.0 L199.6,932.0 L202.8,929.2 L206.0,929.9 L209.2,934.2 L212.4,933.7 L215.6,938.9 L218.8,942.2 L222.0,946.1 L225.2,950.8 L228.4,951.4 L231.6,957.0 L234.8,960.6 L238.0,963.4 L241.2,961.7 L244.4,964.4 L247.6,969.1 L250.8,963.5 L254.0,959.2 L257.2,950.3 L260.4,942.7 L263.6,931.5 L266.8,925.8 L270.0,935.6 L273.2,953.0 L276.4,967.2 L279.6,969.9 L282.8,971.3 L286.0,971.1 L289.2,969.6 L293.0,969.4"/>
<path d="M46.0,971.9 L49.2,973.0 L52.4,973.3 L55.6,976.1 L58.8,975.5 L62.0,974.0 L65.2,974.5 L68.4,972.8 L71.6,970.6 L74.8,973.8 L78.0,973.9 L81.2,971.7 L84.4,973.9 L87.6,973.0 L90.8,971.9 L94.0,967.3 L97.2,968.9 L100.4,968.4 L103.6,965.0 L106.8,964.0 L110.0,964.2 L113.2,964.1 L116.4,960.7 L119.6,958.1 L122.8,955.3 L126.0,952.8 L129.2,951.4 L132.4,951.5 L135.6,948.8 L138.8,949.7 L142.0,944.5 L145.2,943.2 L148.4,943.1 L151.6,941.8 L154.8,940.0 L158.0,936.6 L161.2,935.3 L164.4,935.8 L167.6,932.3 L170.8,930.4 L174.0,930.4 L177.2,928.6 L180.4,926.8 L183.6,928.0 L186.8,923.2 L190.0,925.1 L193.2,923.8 L196.4,926.4 L199.6,924.7 L202.8,928.5 L206.0,929.2 L209.2,936.1 L212.4,936.3 L215.6,942.7 L218.8,942.8 L222.0,947.0 L225.2,952.1 L228.4,952.7 L231.6,956.6 L234.8,962.0 L238.0,962.9 L241.2,962.0 L244.4,964.5 L247.6,964.1 L250.8,961.8 L254.0,951.9 L257.2,945.9 L260.4,935.4 L263.6,929.6 L266.8,919.7 L270.0,933.3 L273.2,944.3 L276.4,957.3 L279.6,962.4 L282.8,964.4 L286.0,964.3 L289.2,963.0 L293.0,965.0"/>
<path d="M46.0,969.9 L49.2,967.4 L52.4,968.3 L55.6,968.4 L58.8,968.2 L62.0,964.6 L65.2,968.9 L68.4,966.6 L71.6,966.6 L74.8,967.7 L78.0,962.1 L81.2,966.2 L84.4,964.8 L87.6,965.8 L90.8,963.0 L94.0,963.1 L97.2,961.3 L100.4,956.6 L103.6,956.3 L106.8,953.4 L110.0,952.2 L113.2,949.0 L116.4,946.0 L119.6,945.8 L122.8,943.6 L126.0,942.9 L129.2,942.9 L132.4,938.7 L135.6,937.5 L138.8,938.2 L142.0,936.7 L145.2,932.0 L148.4,932.9 L151.6,929.7 L154.8,929.3 L158.0,928.4 L161.2,927.5 L164.4,925.9 L167.6,925.3 L170.8,924.1 L174.0,924.7 L177.2,922.7 L180.4,919.5 L183.6,922.4 L186.8,921.0 L190.0,919.6 L193.2,920.9 L196.4,924.0 L199.6,926.3 L202.8,929.6 L206.0,930.7 L209.2,936.3 L212.4,943.8 L215.6,942.8 L218.8,947.2 L222.0,952.5 L225.2,955.7 L228.4,956.5 L231.6,958.8 L234.8,959.0 L238.0,958.0 L241.2,958.8 L244.4,958.0 L247.6,958.7 L250.8,956.5 L254.0,946.1 L257.2,938.2 L260.4,928.1 L263.6,920.2 L266.8,914.2 L270.0,923.6 L273.2,936.9 L276.4,952.8 L279.6,956.6 L282.8,956.4 L286.0,956.4 L289.2,955.9 L293.0,957.2"/>
<path d="M46.0,958.2 L49.2,960.5 L52.4,959.1 L55.6,961.7 L58.8,958.9 L62.0,959.9 L65.2,960.3 L68.4,960.1 L71.6,960.8 L74.8,960.5 L78.0,957.5 L81.2,956.4 L84.4,958.0 L87.6,955.6 L90.8,953.5 L94.0,952.1 L97.2,951.4 L100.4,949.3 L103.6,943.1 L106.8,942.5 L110.0,940.3 L113.2,937.2 L116.4,937.6 L119.6,935.5 L122.8,931.6 L126.0,932.0 L129.2,928.2 L132.4,929.2 L135.6,927.3 L138.8,925.7 L142.0,925.3 L145.2,923.2 L148.4,924.7 L151.6,921.9 L154.8,922.4 L158.0,919.8 L161.2,919.1 L164.4,919.6 L167.6,919.0 L170.8,920.1 L174.0,917.9 L177.2,918.7 L180.4,919.4 L183.6,922.7 L186.8,921.9 L190.0,922.4 L193.2,924.7 L196.4,929.4 L199.6,933.5 L202.8,935.6 L206.0,939.4 L209.2,943.2 L212.4,947.6 L215.6,951.1 L218.8,951.5 L222.0,953.0 L225.2,956.8 L228.4,957.9 L231.6,956.2 L234.8,954.2 L238.0,953.4 L241.2,954.1 L244.4,950.0 L247.6,949.6 L250.8,950.4 L254.0,938.9 L257.2,930.6 L260.4,925.5 L263.6,913.1 L266.8,908.7 L270.0,915.0 L273.2,929.3 L276.4,945.4 L279.6,949.5 L282.8,950.7 L286.0,947.6 L289.2,950.3 L293.0,950.0"/>
<path d="M46.0,953.7 L49.2,952.9 L52.4,951.2 L55.6,954.2 L58.8,953.5 L62.0,953.3 L65.2,952.7 L68.4,952.0 L71.6,950.4 L74.8,948.2 L78.0,947.7 L81.2,948.7 L84.4,944.7 L87.6,945.5 L90.8,945.7 L94.0,941.4 L97.2,942.9 L100.4,935.6 L103.6,936.0 L106.8,929.7 L110.0,929.9 L113.2,928.8 L116.4,923.4 L119.6,919.7 L122.8,917.8 L126.0,918.5 L129.2,917.5 L132.4,915.9 L135.6,913.9 L138.8,912.6 L142.0,912.5 L145.2,912.0 L148.4,911.0 L151.6,914.4 L154.8,914.4 L158.0,914.3 L161.2,914.8 L164.4,911.6 L167.6,910.1 L170.8,913.4 L174.0,913.5 L177.2,913.6 L180.4,917.5 L183.6,918.6 L186.8,922.8 L190.0,925.5 L193.2,927.2 L196.4,931.7 L199.6,934.4 L202.8,938.7 L206.0,941.0 L209.2,942.2 L212.4,946.2 L215.6,946.9 L218.8,948.2 L222.0,949.4 L225.2,952.6 L228.4,950.0 L231.6,948.8 L234.8,947.4 L238.0,944.9 L241.2,946.0 L244.4,945.1 L247.6,943.6 L250.8,943.0 L254.0,934.4 L257.2,925.4 L260.4,915.2 L263.6,908.5 L266.8,900.2 L270.0,906.9 L273.2,923.2 L276.4,938.8 L279.6,941.4 L282.8,943.9 L286.0,941.6 L289.2,939.8 L293.0,943.2"/>
<path d="M46.0,944.5 L49.2,945.2 L52.4,944.9 L55.6,946.4 L58.8,944.8 L62.0,945.7 L65.2,943.1 L68.4,944.0 L71.6,942.5 L74.8,942.6 L78.0,944.6 L81.2,939.5 L84.4,939.7 L87.6,936.9 L90.8,935.9 L94.0,931.8 L97.2,929.5 L100.4,925.0 L103.6,925.7 L106.8,920.9 L110.0,917.9 L113.2,912.6 L116.4,913.5 L119.6,910.4 L122.8,906.4 L126.0,905.8 L129.2,904.0 L132.4,904.9 L135.6,900.4 L138.8,903.4 L142.0,903.7 L145.2,904.7 L148.4,902.6 L151.6,903.4 L154.8,903.6 L158.0,906.9 L161.2,907.0 L164.4,908.8 L167.6,909.8 L170.8,911.2 L174.0,910.8 L177.2,914.5 L180.4,919.3 L183.6,921.0 L186.8,922.5 L190.0,925.8 L193.2,929.3 L196.4,932.4 L199.6,935.3 L202.8,937.3 L206.0,939.7 L209.2,942.0 L212.4,942.6 L215.6,941.3 L218.8,945.9 L222.0,943.2 L225.2,942.6 L228.4,944.6 L231.6,944.3 L234.8,942.1 L238.0,942.0 L241.2,938.8 L244.4,937.8 L247.6,935.8 L250.8,935.6 L254.0,926.0 L257.2,918.9 L260.4,907.5 L263.6,900.6 L266.8,892.4 L270.0,902.7 L273.2,916.0 L276.4,932.2 L279.6,933.8 L282.8,934.6 L286.0,934.4 L289.2,936.5 L293.0,932.4"/>
<path d="M46.0,936.6 L49.2,938.4 L52.4,937.9 L55.6,937.8 L58.8,938.2 L62.0,937.1 L65.2,937.9 L68.4,938.2 L71.6,934.6 L74.8,936.7 L78.0,932.9 L81.2,930.7 L84.4,930.6 L87.6,928.5 L90.8,926.5 L94.0,921.8 L97.2,920.0 L100.4,915.9 L103.6,914.5 L106.8,909.4 L110.0,904.9 L113.2,900.9 L116.4,899.2 L119.6,899.2 L122.8,892.5 L126.0,892.6 L129.2,894.3 L132.4,893.8 L135.6,892.3 L138.8,892.9 L142.0,893.2 L145.2,893.6 L148.4,895.5 L151.6,897.9 L154.8,899.2 L158.0,898.4 L161.2,902.0 L164.4,903.6 L167.6,908.6 L170.8,907.9 L174.0,911.1 L177.2,913.9 L180.4,923.4 L183.6,924.0 L186.8,924.2 L190.0,928.2 L193.2,926.8 L196.4,930.7 L199.6,935.6 L202.8,933.6 L206.0,933.1 L209.2,934.8 L212.4,935.5 L215.6,936.5 L218.8,936.7 L222.0,936.3 L225.2,934.7 L228.4,936.1 L231.6,935.3 L234.8,932.2 L238.0,933.7 L241.2,931.5 L244.4,932.9 L247.6,930.5 L250.8,925.2 L254.0,916.3 L257.2,911.0 L260.4,901.6 L263.6,892.2 L266.8,885.8 L270.0,891.1 L273.2,910.0 L276.4,922.7 L279.6,927.7 L282.8,929.1 L286.0,928.4 L289.2,925.7 L293.0,928.6"/>
<path d="M46.0,930.6 L49.2,932.3 L52.4,930.8 L55.6,931.2 L58.8,928.9 L62.0,928.8 L65.2,928.0 L68.4,929.3 L71.6,926.8 L74.8,926.6 L78.0,928.6 L81.2,925.2 L84.4,925.2 L87.6,918.5 L90.8,915.4 L94.0,912.6 L97.2,910.3 L100.4,904.4 L103.6,904.0 L106.8,895.9 L110.0,894.9 L113.2,887.9 L116.4,885.0 L119.6,884.0 L122.8,881.8 L126.0,880.4 L129.2,879.9 L132.4,881.2 L135.6,880.8 L138.8,885.3 L142.0,885.4 L145.2,887.0 L148.4,887.2 L151.6,894.8 L154.8,894.1 L158.0,895.7 L161.2,898.5 L164.4,899.6 L167.6,905.4 L170.8,906.8 L174.0,910.7 L177.2,917.4 L180.4,917.7 L183.6,919.5 L186.8,924.9 L190.0,923.4 L193.2,928.5 L196.4,926.5 L199.6,928.3 L202.8,928.0 L206.0,928.4 L209.2,929.9 L212.4,931.8 L215.6,930.2 L218.8,928.8 L222.0,927.7 L225.2,931.3 L228.4,928.2 L231.6,926.8 L234.8,927.7 L238.0,926.4 L241.2,925.3 L244.4,922.5 L247.6,919.8 L250.8,918.8 L254.0,909.3 L257.2,900.6 L260.4,891.1 L263.6,884.6 L266.8,877.3 L270.0,885.7 L273.2,902.7 L276.4,915.2 L279.6,919.9 L282.8,919.9 L286.0,918.1 L289.2,919.8 L293.0,921.6"/>
<path d="M46.0,924.4 L49.2,922.4 L52.4,921.4 L55.6,923.4 L58.8,922.6 L62.0,922.3 L65.2,923.6 L68.4,920.5 L71.6,921.3 L74.8,918.9 L78.0,918.0 L81.2,913.8 L84.4,912.2 L87.6,909.7 L90.8,905.5 L94.0,901.9 L97.2,897.1 L100.4,895.3 L103.6,885.1 L106.8,884.5 L110.0,879.2 L113.2,873.6 L116.4,871.0 L119.6,867.5 L122.8,869.0 L126.0,868.7 L129.2,868.5 L132.4,871.1 L135.6,868.3 L138.8,871.0 L142.0,874.8 L145.2,879.5 L148.4,882.6 L151.6,884.2 L154.8,889.5 L158.0,894.5 L161.2,895.3 L164.4,901.8 L167.6,905.8 L170.8,909.2 L174.0,912.0 L177.2,912.6 L180.4,912.3 L183.6,915.0 L186.8,917.1 L190.0,919.1 L193.2,921.4 L196.4,921.1 L199.6,922.1 L202.8,924.0 L206.0,920.3 L209.2,923.0 L212.4,923.8 L215.6,924.7 L218.8,925.9 L222.0,924.2 L225.2,920.9 L228.4,922.5 L231.6,919.7 L234.8,920.2 L238.0,917.5 L241.2,916.3 L244.4,916.2 L247.6,913.9 L250.8,909.7 L254.0,900.9 L257.2,893.2 L260.4,883.5 L263.6,874.6 L266.8,867.2 L270.0,878.3 L273.2,894.3 L276.4,906.6 L279.6,910.3 L282.8,913.7 L286.0,912.9 L289.2,913.9 L293.0,912.9"/>
<path d="M46.0,917.7 L49.2,916.4 L52.4,915.6 L55.6,916.8 L58.8,913.6 L62.0,914.6 L65.2,914.2 L68.4,912.8 L71.6,912.6 L74.8,910.1 L78.0,906.6 L81.2,909.1 L84.4,903.7 L87.6,899.9 L90.8,894.5 L94.0,892.0 L97.2,886.8 L100.4,880.1 L103.6,878.3 L106.8,872.8 L110.0,864.2 L113.2,863.4 L116.4,857.9 L119.6,857.5 L122.8,855.9 L126.0,856.4 L129.2,856.6 L132.4,859.4 L135.6,859.5 L138.8,862.7 L142.0,866.5 L145.2,870.5 L148.4,878.5 L151.6,880.5 L154.8,886.6 L158.0,889.7 L161.2,893.4 L164.4,898.6 L167.6,899.9 L170.8,904.7 L174.0,908.0 L177.2,908.5 L180.4,910.3 L183.6,911.0 L186.8,913.5 L190.0,914.8 L193.2,915.6 L196.4,914.2 L199.6,915.1 L202.8,914.3 L206.0,916.2 L209.2,916.7 L212.4,916.1 L215.6,915.8 L218.8,916.4 L222.0,916.0 L225.2,915.8 L228.4,913.6 L231.6,912.5 L234.8,911.7 L238.0,909.8 L241.2,910.1 L244.4,911.2 L247.6,907.3 L250.8,899.3 L254.0,891.8 L257.2,883.2 L260.4,877.2 L263.6,868.9 L266.8,864.5 L270.0,870.3 L273.2,885.8 L276.4,902.3 L279.6,904.2 L282.8,905.5 L286.0,907.0 L289.2,905.8 L293.0,906.1"/>
<path d="M46.0,907.4 L49.2,906.5 L52.4,907.9 L55.6,909.4 L58.8,907.0 L62.0,905.8 L65.2,904.5 L68.4,908.2 L71.6,902.3 L74.8,902.0 L78.0,899.2 L81.2,899.2 L84.4,892.9 L87.6,889.5 L90.8,887.3 L94.0,880.0 L97.2,877.5 L100.4,872.8 L103.6,865.6 L106.8,856.4 L110.0,853.7 L113.2,849.7 L116.4,848.4 L119.6,846.4 L122.8,844.9 L126.0,844.1 L129.2,845.3 L132.4,848.2 L135.6,851.0 L138.8,855.5 L142.0,860.1 L145.2,865.9 L148.4,872.8 L151.6,874.3 L154.8,883.4 L158.0,886.2 L161.2,890.6 L164.4,893.0 L167.6,896.0 L170.8,900.4 L174.0,900.4 L177.2,901.4 L180.4,904.0 L183.6,904.5 L186.8,908.0 L190.0,907.1 L193.2,908.1 L196.4,907.9 L199.6,908.1 L202.8,909.9 L206.0,909.0 L209.2,910.7 L212.4,906.3 L215.6,909.3 L218.8,909.8 L222.0,908.3 L225.2,905.6 L228.4,907.3 L231.6,906.0 L234.8,906.9 L238.0,905.3 L241.2,903.8 L244.4,901.6 L247.6,900.1 L250.8,893.7 L254.0,886.3 L257.2,876.9 L260.4,869.9 L263.6,862.4 L266.8,854.8 L270.0,863.1 L273.2,877.9 L276.4,892.1 L279.6,897.6 L282.8,897.4 L286.0,896.3 L289.2,898.6 L293.0,899.6"/>
<path d="M46.0,902.8 L49.2,903.5 L52.4,901.0 L55.6,904.0 L58.8,900.2 L62.0,900.4 L65.2,901.2 L68.4,896.3 L71.6,897.7 L74.8,896.0 L78.0,896.3 L81.2,889.9 L84.4,887.7 L87.6,880.3 L90.8,879.0 L94.0,871.8 L97.2,866.7 L100.4,863.4 L103.6,855.8 L106.8,849.2 L110.0,846.9 L113.2,841.8 L116.4,837.8 L119.6,834.5 L122.8,835.2 L126.0,835.4 L129.2,838.9 L132.4,841.8 L135.6,845.9 L138.8,849.6 L142.0,855.0 L145.2,861.6 L148.4,864.8 L151.6,871.5 L154.8,876.1 L158.0,880.3 L161.2,880.8 L164.4,887.7 L167.6,889.7 L170.8,892.6 L174.0,893.8 L177.2,895.5 L180.4,895.7 L183.6,896.6 L186.8,899.5 L190.0,898.5 L193.2,899.5 L196.4,901.8 L199.6,902.6 L202.8,900.9 L206.0,898.5 L209.2,901.8 L212.4,902.6 L215.6,901.5 L218.8,900.8 L222.0,899.6 L225.2,900.9 L228.4,903.6 L231.6,899.8 L234.8,897.3 L238.0,895.1 L241.2,895.6 L244.4,891.9 L247.6,891.1 L250.8,884.6 L254.0,876.2 L257.2,869.3 L260.4,861.0 L263.6,851.8 L266.8,844.4 L270.0,855.3 L273.2,867.5 L276.4,884.0 L279.6,893.6 L282.8,889.8 L286.0,892.7 L289.2,889.9 L293.0,891.3"/>
<path d="M46.0,895.0 L49.2,895.5 L52.4,893.4 L55.6,891.9 L58.8,893.1 L62.0,890.5 L65.2,889.8 L68.4,892.2 L71.6,888.3 L74.8,889.4 L78.0,887.2 L81.2,881.7 L84.4,878.9 L87.6,875.2 L90.8,872.2 L94.0,865.7 L97.2,861.7 L100.4,854.1 L103.6,849.7 L106.8,842.1 L110.0,838.9 L113.2,833.8 L116.4,831.2 L119.6,828.8 L122.8,824.9 L126.0,830.6 L129.2,830.4 L132.4,831.3 L135.6,836.3 L138.8,840.4 L142.0,847.5 L145.2,851.3 L148.4,857.0 L151.6,863.4 L154.8,864.8 L158.0,869.3 L161.2,875.6 L164.4,876.8 L167.6,883.0 L170.8,882.9 L174.0,885.3 L177.2,889.5 L180.4,891.9 L183.6,890.9 L186.8,891.2 L190.0,890.6 L193.2,892.5 L196.4,892.7 L199.6,892.1 L202.8,893.2 L206.0,895.1 L209.2,894.2 L212.4,890.7 L215.6,896.3 L218.8,895.5 L222.0,892.1 L225.2,895.0 L228.4,891.0 L231.6,892.4 L234.8,890.6 L238.0,887.7 L241.2,888.1 L244.4,886.5 L247.6,884.3 L250.8,875.0 L254.0,869.5 L257.2,860.4 L260.4,855.2 L263.6,847.0 L266.8,840.6 L270.0,846.1 L273.2,866.3 L276.4,879.1 L279.6,883.4 L282.8,882.7 L286.0,883.4 L289.2,885.0 L293.0,880.8"/>
<path d="M46.0,887.5 L49.2,885.0 L52.4,885.3 L55.6,886.8 L58.8,886.6 L62.0,885.0 L65.2,885.0 L68.4,885.6 L71.6,882.4 L74.8,879.1 L78.0,877.8 L81.2,875.0 L84.4,873.9 L87.6,867.3 L90.8,860.7 L94.0,855.8 L97.2,853.3 L100.4,846.0 L103.6,837.5 L106.8,831.0 L110.0,828.3 L113.2,820.8 L116.4,818.6 L119.6,817.9 L122.8,817.3 L126.0,816.1 L129.2,820.2 L132.4,820.5 L135.6,827.0 L138.8,830.6 L142.0,834.0 L145.2,843.7 L148.4,847.2 L151.6,853.4 L154.8,857.2 L158.0,866.3 L161.2,868.9 L164.4,870.2 L167.6,876.4 L170.8,877.7 L174.0,881.0 L177.2,877.9 L180.4,882.6 L183.6,881.9 L186.8,884.1 L190.0,884.5 L193.2,885.9 L196.4,883.2 L199.6,885.7 L202.8,884.5 L206.0,888.0 L209.2,887.1 L212.4,887.6 L215.6,888.1 L218.8,887.7 L222.0,885.6 L225.2,886.1 L228.4,882.7 L231.6,883.7 L234.8,882.5 L238.0,881.2 L241.2,880.6 L244.4,878.9 L247.6,878.4 L250.8,869.7 L254.0,860.4 L257.2,852.4 L260.4,844.8 L263.6,839.9 L266.8,831.1 L270.0,841.2 L273.2,854.6 L276.4,871.0 L279.6,874.3 L282.8,876.6 L286.0,876.3 L289.2,875.4 L293.0,873.9"/>
<path d="M46.0,875.8 L49.2,878.6 L52.4,880.5 L55.6,877.6 L58.8,878.8 L62.0,876.7 L65.2,878.0 L68.4,874.9 L71.6,876.5 L74.8,871.7 L78.0,870.2 L81.2,869.9 L84.4,864.4 L87.6,859.8 L90.8,854.4 L94.0,849.4 L97.2,841.3 L100.4,834.5 L103.6,831.3 L106.8,822.8 L110.0,817.2 L113.2,811.8 L116.4,808.3 L119.6,807.5 L122.8,805.7 L126.0,806.3 L129.2,807.8 L132.4,812.3 L135.6,817.8 L138.8,820.5 L142.0,826.1 L145.2,834.0 L148.4,838.4 L151.6,845.2 L154.8,847.7 L158.0,853.0 L161.2,857.0 L164.4,862.9 L167.6,863.8 L170.8,869.4 L174.0,871.1 L177.2,873.8 L180.4,875.8 L183.6,877.3 L186.8,873.8 L190.0,878.5 L193.2,879.8 L196.4,878.2 L199.6,880.0 L202.8,880.1 L206.0,880.5 L209.2,878.1 L212.4,881.4 L215.6,877.9 L218.8,880.3 L222.0,880.3 L225.2,879.7 L228.4,878.8 L231.6,879.3 L234.8,877.0 L238.0,875.1 L241.2,874.7 L244.4,869.9 L247.6,867.8 L250.8,859.0 L254.0,850.9 L257.2,846.5 L260.4,838.3 L263.6,833.0 L266.8,825.8 L270.0,828.6 L273.2,848.3 L276.4,863.2 L279.6,867.9 L282.8,871.0 L286.0,868.0 L289.2,870.2 L293.0,868.7"/>
<path d="M46.0,872.1 L49.2,871.3 L52.4,874.2 L55.6,871.6 L58.8,869.8 L62.0,870.9 L65.2,867.9 L68.4,870.6 L71.6,865.7 L74.8,864.5 L78.0,863.3 L81.2,858.5 L84.4,858.1 L87.6,851.5 L90.8,846.3 L94.0,840.3 L97.2,833.6 L100.4,826.8 L103.6,822.3 L106.8,812.4 L110.0,805.1 L113.2,802.9 L116.4,798.6 L119.6,794.4 L122.8,793.9 L126.0,797.2 L129.2,798.0 L132.4,801.2 L135.6,805.6 L138.8,810.1 L142.0,817.5 L145.2,820.8 L148.4,827.0 L151.6,832.0 L154.8,839.2 L158.0,843.7 L161.2,850.3 L164.4,853.1 L167.6,857.4 L170.8,861.6 L174.0,863.3 L177.2,864.4 L180.4,866.3 L183.6,867.3 L186.8,869.4 L190.0,870.3 L193.2,872.6 L196.4,872.2 L199.6,872.1 L202.8,871.0 L206.0,872.5 L209.2,870.7 L212.4,869.6 L215.6,872.9 L218.8,873.2 L222.0,867.5 L225.2,872.7 L228.4,868.4 L231.6,868.2 L234.8,868.9 L238.0,866.5 L241.2,865.3 L244.4,862.5 L247.6,861.6 L250.8,851.8 L254.0,843.9 L257.2,839.2 L260.4,830.1 L263.6,823.8 L266.8,818.2 L270.0,824.8 L273.2,839.4 L276.4,857.2 L279.6,860.4 L282.8,863.1 L286.0,862.8 L289.2,857.2 L293.0,864.1"/>
<path d="M46.0,863.2 L49.2,865.1 L52.4,865.1 L55.6,864.2 L58.8,864.3 L62.0,865.1 L65.2,862.9 L68.4,861.1 L71.6,860.0 L74.8,857.8 L78.0,855.1 L81.2,852.0 L84.4,847.9 L87.6,844.6 L90.8,836.9 L94.0,830.1 L97.2,826.4 L100.4,817.1 L103.6,811.8 L106.8,803.0 L110.0,795.1 L113.2,791.3 L116.4,789.1 L119.6,783.1 L122.8,783.2 L126.0,782.6 L129.2,787.5 L132.4,790.6 L135.6,798.4 L138.8,797.9 L142.0,807.5 L145.2,813.2 L148.4,820.2 L151.6,825.2 L154.8,831.7 L158.0,836.0 L161.2,841.1 L164.4,847.2 L167.6,846.4 L170.8,854.5 L174.0,854.7 L177.2,857.8 L180.4,861.2 L183.6,862.6 L186.8,862.4 L190.0,862.9 L193.2,861.6 L196.4,864.0 L199.6,864.0 L202.8,863.9 L206.0,863.3 L209.2,864.8 L212.4,865.6 L215.6,864.1 L218.8,862.6 L222.0,865.3 L225.2,862.7 L228.4,862.5 L231.6,861.8 L234.8,860.3 L238.0,858.0 L241.2,856.8 L244.4,856.3 L247.6,851.1 L250.8,844.0 L254.0,837.2 L257.2,830.5 L260.4,820.8 L263.6,814.5 L266.8,809.1 L270.0,816.8 L273.2,834.0 L276.4,848.9 L279.6,851.3 L282.8,851.6 L286.0,854.1 L289.2,855.2 L293.0,855.4"/>
<path d="M46.0,858.0 L49.2,857.8 L52.4,855.3 L55.6,854.7 L58.8,856.2 L62.0,859.5 L65.2,856.3 L68.4,853.2 L71.6,851.2 L74.8,849.4 L78.0,846.5 L81.2,845.8 L84.4,838.5 L87.6,835.6 L90.8,828.3 L94.0,823.0 L97.2,816.8 L100.4,807.8 L103.6,800.1 L106.8,791.4 L110.0,784.6 L113.2,781.9 L116.4,774.6 L119.6,772.6 L122.8,770.7 L126.0,774.0 L129.2,774.7 L132.4,780.1 L135.6,784.1 L138.8,789.3 L142.0,797.0 L145.2,804.1 L148.4,808.1 L151.6,817.3 L154.8,822.4 L158.0,828.9 L161.2,834.4 L164.4,836.8 L167.6,841.1 L170.8,845.1 L174.0,849.0 L177.2,846.7 L180.4,853.9 L183.6,852.9 L186.8,852.1 L190.0,855.0 L193.2,854.5 L196.4,858.9 L199.6,856.2 L202.8,856.3 L206.0,856.8 L209.2,856.2 L212.4,857.7 L215.6,858.3 L218.8,857.6 L222.0,856.0 L225.2,857.9 L228.4,855.8 L231.6,854.6 L234.8,855.0 L238.0,852.3 L241.2,846.9 L244.4,849.7 L247.6,841.2 L250.8,834.1 L254.0,827.7 L257.2,821.4 L260.4,815.0 L263.6,807.3 L266.8,803.1 L270.0,810.1 L273.2,825.6 L276.4,839.3 L279.6,847.0 L282.8,844.8 L286.0,845.3 L289.2,845.7 L293.0,845.6"/>
<path d="M46.0,847.1 L49.2,849.9 L52.4,848.5 L55.6,848.5 L58.8,850.0 L62.0,850.7 L65.2,847.9 L68.4,845.3 L71.6,843.9 L74.8,844.1 L78.0,839.8 L81.2,834.8 L84.4,835.0 L87.6,827.9 L90.8,819.9 L94.0,813.0 L97.2,804.2 L100.4,795.5 L103.6,790.4 L106.8,781.2 L110.0,776.9 L113.2,768.1 L116.4,764.3 L119.6,762.9 L122.8,759.3 L126.0,763.0 L129.2,762.8 L132.4,772.2 L135.6,772.2 L138.8,778.8 L142.0,789.7 L145.2,792.6 L148.4,801.0 L151.6,806.6 L154.8,810.1 L158.0,819.2 L161.2,823.1 L164.4,831.5 L167.6,831.8 L170.8,839.1 L174.0,839.2 L177.2,842.7 L180.4,847.6 L183.6,845.1 L186.8,846.3 L190.0,848.6 L193.2,847.1 L196.4,850.1 L199.6,850.6 L202.8,849.7 L206.0,847.5 L209.2,846.9 L212.4,849.0 L215.6,849.6 L218.8,846.9 L222.0,849.5 L225.2,849.4 L228.4,848.7 L231.6,849.3 L234.8,845.6 L238.0,845.1 L241.2,842.1 L244.4,842.7 L247.6,835.2 L250.8,827.3 L254.0,820.3 L257.2,810.6 L260.4,808.1 L263.6,799.4 L266.8,794.3 L270.0,801.8 L273.2,822.2 L276.4,834.1 L279.6,838.2 L282.8,838.9 L286.0,838.7 L289.2,838.7 L293.0,839.4"/>
<path d="M46.0,844.4 L49.2,841.3 L52.4,843.1 L55.6,842.0 L58.8,841.9 L62.0,842.5 L65.2,840.0 L68.4,835.5 L71.6,838.3 L74.8,836.1 L78.0,833.2 L81.2,827.7 L84.4,826.5 L87.6,818.5 L90.8,811.3 L94.0,807.9 L97.2,794.0 L100.4,790.0 L103.6,781.3 L106.8,771.9 L110.0,763.7 L113.2,760.5 L116.4,755.3 L119.6,753.2 L122.8,750.4 L126.0,751.5 L129.2,754.3 L132.4,756.6 L135.6,765.5 L138.8,771.5 L142.0,777.6 L145.2,781.7 L148.4,790.5 L151.6,798.2 L154.8,805.1 L158.0,809.5 L161.2,817.0 L164.4,823.3 L167.6,823.6 L170.8,828.4 L174.0,830.2 L177.2,832.5 L180.4,835.7 L183.6,838.6 L186.8,840.1 L190.0,840.2 L193.2,842.5 L196.4,842.6 L199.6,841.5 L202.8,843.2 L206.0,842.7 L209.2,842.9 L212.4,841.4 L215.6,843.7 L218.8,841.8 L222.0,844.5 L225.2,841.9 L228.4,842.4 L231.6,839.8 L234.8,836.7 L238.0,837.6 L241.2,834.5 L244.4,833.6 L247.6,826.8 L250.8,822.3 L254.0,811.9 L257.2,805.5 L260.4,799.0 L263.6,795.0 L266.8,787.4 L270.0,794.6 L273.2,813.5 L276.4,828.7 L279.6,831.5 L282.8,829.6 L286.0,832.8 L289.2,831.8 L293.0,830.8"/>
</g>
<line x1="45.3" y1="749.0" x2="45.3" y2="1244.0" stroke="#000" stroke-width="2.4" />
<line x1="44.1" y1="1243.0" x2="293.0" y2="1243.0" stroke="#000" stroke-width="2.4" />
<line x1="103.0" y1="1243.0" x2="103.0" y2="1256.0" stroke="#000" stroke-width="2.4" />
<line x1="219.4" y1="1243.0" x2="219.4" y2="1256.0" stroke="#000" stroke-width="2.4" />
<line x1="45.3" y1="1243.0" x2="45.3" y2="1250.5" stroke="#000" stroke-width="2.4" />
<line x1="161.5" y1="1243.0" x2="161.5" y2="1250.5" stroke="#000" stroke-width="2.4" />
<line x1="278.0" y1="1243.0" x2="278.0" y2="1250.5" stroke="#000" stroke-width="2.4" />
<text x="103.0" y="1289.0" font-size="29" text-anchor="middle" fill="#000" font-weight="normal" >19.6</text>
<text x="219.4" y="1289.0" font-size="29" text-anchor="middle" fill="#000" font-weight="normal" >20.0</text>
<text x="169.5" y="1332.0" font-size="29.4" text-anchor="middle">Position (2<tspan font-family="Liberation Serif" font-style="italic">θ</tspan>,Mo)</text>
<text x="265.4" y="768.6" font-size="29" text-anchor="middle" fill="#000" font-weight="normal" >Al</text>
<text transform="translate(27.0,997.0) rotate(-90)" font-size="29.4" text-anchor="middle" fill="#000">Intensity (a.u.)</text>
<line x1="312.1" y1="1210.4" x2="312.1" y2="1141.8" stroke="#000" stroke-width="1.8" />
<text transform="translate(320.5,1096.4) rotate(-90)" font-size="28.6" text-anchor="middle" fill="#000">1st c</text>
<line x1="312.1" y1="1056.0" x2="312.1" y2="1018.0" stroke="#000" stroke-width="1.8" />
<path d="M307.4,1020.0 L312.1,1002.9 L316.8,1020.0 Z" fill="#000"/>
<line x1="312.1" y1="997.8" x2="312.1" y2="958.7" stroke="#000" stroke-width="1.8" />
<text transform="translate(320.5,914.8) rotate(-90)" font-size="28.6" text-anchor="middle" fill="#000">1st dc</text>
<line x1="312.1" y1="873.3" x2="312.1" y2="838.0" stroke="#000" stroke-width="1.8" />
<path d="M307.4,840.4 L312.1,824.0 L316.8,840.4 Z" fill="#000"/>
<text x="367.5" y="30.0" font-size="40" text-anchor="start" fill="#000" font-weight="bold" >b</text>
<g stroke="#8f8f8f" stroke-width="1.4" stroke-dasharray="4.5 4"><line x1="535.6" y1="63" x2="535.6" y2="557"/><line x1="597.6" y1="63" x2="597.6" y2="557"/><line x1="660.4" y1="63" x2="660.4" y2="557"/><line x1="473.5" y1="527.6" x2="722.3" y2="527.6"/><line x1="473.5" y1="464.0" x2="722.3" y2="464.0"/><line x1="473.5" y1="400.4" x2="722.3" y2="400.4"/><line x1="473.5" y1="336.8" x2="722.3" y2="336.8"/><line x1="473.5" y1="273.2" x2="722.3" y2="273.2"/><line x1="473.5" y1="209.6" x2="722.3" y2="209.6"/><line x1="473.5" y1="146.0" x2="722.3" y2="146.0"/><line x1="473.5" y1="82.4" x2="722.3" y2="82.4"/></g>
<rect x="556" y="70.8" width="82" height="30" fill="#fff"/>
<text x="594.0" y="94.8" font-size="29.4" text-anchor="middle" fill="#06068f" font-weight="normal" >a (Å)</text>
<path d="M590.0,528.2 C587.5,528.1 579.6,528.1 574.7,527.8 C569.8,527.5 564.0,527.8 560.5,526.6 C557.0,525.4 556.2,524.5 553.4,520.7 C550.6,516.9 547.1,510.7 543.9,504.0 C540.7,497.3 537.5,489.1 534.4,480.4 C531.2,471.7 527.4,460.7 525.0,452.0 C522.6,443.3 521.6,438.2 520.2,428.3 C518.8,418.4 518.3,404.6 516.7,392.8 C515.1,381.0 513.0,368.0 510.8,357.3 C508.6,346.6 505.9,335.4 503.7,328.9 C501.5,322.4 498.8,320.1 497.8,318.3 L497.8,318.3 C499.2,318.2 502.6,318.9 506.0,317.9 C509.4,316.9 513.2,315.1 517.9,312.2 C522.6,309.3 529.3,304.7 534.4,300.4 C539.5,296.1 544.2,290.9 548.6,286.2 C553.0,281.5 556.9,275.4 560.5,272.0 C564.1,268.6 565.7,267.8 570.0,266.0 C574.3,264.2 580.2,263.0 586.5,261.4 C592.8,259.8 602.7,257.9 607.8,256.6 C612.9,255.3 612.4,254.5 617.3,253.5 C622.1,252.5 632.2,251.6 636.9,250.8 C641.6,250.0 643.5,249.7 645.4,248.5 C647.3,247.3 647.7,247.1 648.5,243.8 C649.3,240.5 649.4,234.1 650.0,228.5 C650.6,222.9 651.4,215.7 652.3,210.0 C653.2,204.3 654.1,199.7 655.4,194.6 C656.7,189.5 658.2,183.5 660.0,179.2 C661.8,174.8 663.4,172.3 666.2,168.5 C669.0,164.7 672.7,159.8 676.9,156.2 C681.1,152.6 689.1,148.7 691.5,147.2" fill="none" stroke="#000" stroke-width="2.6" stroke-linejoin="round"/>
<g fill="#06068f"><circle cx="560.5" cy="527.6" r="2.8"/><circle cx="562.8" cy="521.2" r="2.8"/><circle cx="568.3" cy="514.9" r="2.8"/><circle cx="572.8" cy="508.5" r="2.8"/><circle cx="575.9" cy="502.2" r="2.8"/><circle cx="579.4" cy="495.8" r="2.8"/><circle cx="583.4" cy="489.4" r="2.8"/><circle cx="586.5" cy="483.1" r="2.8"/><circle cx="590.0" cy="476.7" r="2.8"/><circle cx="593.6" cy="470.4" r="2.8"/><circle cx="596.4" cy="464.0" r="2.8"/><circle cx="599.5" cy="457.6" r="2.8"/><circle cx="601.9" cy="451.3" r="2.8"/><circle cx="603.1" cy="444.9" r="2.8"/><circle cx="604.3" cy="438.6" r="2.8"/><circle cx="604.7" cy="432.2" r="2.8"/><circle cx="605.4" cy="425.8" r="2.8"/><circle cx="605.4" cy="419.5" r="2.8"/><circle cx="606.2" cy="413.1" r="2.8"/><circle cx="607.1" cy="406.8" r="2.8"/><circle cx="608.5" cy="400.4" r="2.8"/><circle cx="609.0" cy="394.0" r="2.8"/><circle cx="609.5" cy="387.7" r="2.8"/><circle cx="610.2" cy="381.3" r="2.8"/><circle cx="614.9" cy="375.0" r="2.8"/><circle cx="619.6" cy="368.6" r="2.8"/><circle cx="622.5" cy="362.2" r="2.8"/><circle cx="627.2" cy="355.9" r="2.8"/><circle cx="632.0" cy="349.5" r="2.8"/><circle cx="638.6" cy="343.2" r="2.8"/><circle cx="643.3" cy="336.8" r="2.8"/><circle cx="652.3" cy="330.4" r="2.8"/><circle cx="658.7" cy="324.1" r="2.8"/><circle cx="665.1" cy="317.7" r="2.8"/><circle cx="655.1" cy="311.4" r="2.8"/><circle cx="632.7" cy="305.0" r="2.8"/><circle cx="608.5" cy="298.6" r="2.8"/><circle cx="589.1" cy="292.3" r="2.8"/><circle cx="571.8" cy="285.9" r="2.8"/><circle cx="554.1" cy="279.6" r="2.8"/><circle cx="542.7" cy="273.2" r="2.8"/><circle cx="529.0" cy="266.8" r="2.8"/><circle cx="517.9" cy="260.5" r="2.8"/><circle cx="511.2" cy="254.1" r="2.8"/><circle cx="507.5" cy="247.8" r="2.8"/><circle cx="506.3" cy="241.4" r="2.8"/><circle cx="505.6" cy="235.0" r="2.8"/><circle cx="505.1" cy="228.7" r="2.8"/><circle cx="504.4" cy="222.3" r="2.8"/><circle cx="503.9" cy="216.0" r="2.8"/><circle cx="504.4" cy="209.6" r="2.8"/><circle cx="503.9" cy="203.2" r="2.8"/><circle cx="503.9" cy="196.9" r="2.8"/><circle cx="503.0" cy="190.5" r="2.8"/><circle cx="503.2" cy="184.2" r="2.8"/><circle cx="503.7" cy="177.8" r="2.8"/><circle cx="502.5" cy="171.4" r="2.8"/><circle cx="500.8" cy="165.1" r="2.8"/><circle cx="499.4" cy="158.7" r="2.8"/><circle cx="497.5" cy="152.4" r="2.8"/><circle cx="496.1" cy="146.0" r="2.8"/></g>
<line x1="473.5" y1="58.0" x2="473.5" y2="557.0" stroke="#06068f" stroke-width="2.4" />
<line x1="472.3" y1="63.0" x2="722.3" y2="63.0" stroke="#06068f" stroke-width="2.4" />
<line x1="722.3" y1="62.0" x2="722.3" y2="558.2" stroke="#000" stroke-width="2.4" />
<line x1="472.3" y1="557.0" x2="723.5" y2="557.0" stroke="#000" stroke-width="2.4" />
<line x1="523.2" y1="63.0" x2="523.2" y2="55.0" stroke="#06068f" stroke-width="2.4" />
<line x1="572.9" y1="63.0" x2="572.9" y2="58.0" stroke="#06068f" stroke-width="2.4" />
<line x1="622.6" y1="63.0" x2="622.6" y2="55.0" stroke="#06068f" stroke-width="2.4" />
<line x1="672.3" y1="63.0" x2="672.3" y2="58.0" stroke="#06068f" stroke-width="2.4" />
<line x1="722.3" y1="63.0" x2="722.3" y2="55.0" stroke="#06068f" stroke-width="2.4" />
<text x="523.2" y="41.5" font-size="29" text-anchor="middle" fill="#06068f" font-weight="normal" >4.16</text>
<text x="622.6" y="41.5" font-size="29" text-anchor="middle" fill="#06068f" font-weight="normal" >4.12</text>
<text x="722.0" y="41.5" font-size="29" text-anchor="middle" fill="#06068f" font-weight="normal" >4.08</text>
<line x1="465.0" y1="527.6" x2="473.5" y2="527.6" stroke="#06068f" stroke-width="2.4" />
<line x1="722.3" y1="527.6" x2="730.3" y2="527.6" stroke="#000" stroke-width="2.4" />
<text x="453.0" y="537.4" font-size="29" text-anchor="end" fill="#06068f" font-weight="normal" >0</text>
<text x="743.0" y="539.6" font-size="29" text-anchor="start" fill="#000" font-weight="normal" >0</text>
<line x1="465.0" y1="464.0" x2="473.5" y2="464.0" stroke="#06068f" stroke-width="2.4" />
<line x1="722.3" y1="464.0" x2="730.3" y2="464.0" stroke="#000" stroke-width="2.4" />
<text x="453.0" y="473.8" font-size="29" text-anchor="end" fill="#06068f" font-weight="normal" >10</text>
<text x="743.0" y="476.0" font-size="29" text-anchor="start" fill="#000" font-weight="normal" >100</text>
<line x1="465.0" y1="400.4" x2="473.5" y2="400.4" stroke="#06068f" stroke-width="2.4" />
<line x1="722.3" y1="400.4" x2="730.3" y2="400.4" stroke="#000" stroke-width="2.4" />
<text x="453.0" y="410.2" font-size="29" text-anchor="end" fill="#06068f" font-weight="normal" >20</text>
<text x="743.0" y="412.4" font-size="29" text-anchor="start" fill="#000" font-weight="normal" >200</text>
<line x1="465.0" y1="336.8" x2="473.5" y2="336.8" stroke="#06068f" stroke-width="2.4" />
<line x1="722.3" y1="336.8" x2="730.3" y2="336.8" stroke="#000" stroke-width="2.4" />
<text x="453.0" y="346.6" font-size="29" text-anchor="end" fill="#06068f" font-weight="normal" >30</text>
<text x="743.0" y="348.8" font-size="29" text-anchor="start" fill="#000" font-weight="normal" >300</text>
<line x1="465.0" y1="273.2" x2="473.5" y2="273.2" stroke="#06068f" stroke-width="2.4" />
<line x1="722.3" y1="273.2" x2="730.3" y2="273.2" stroke="#000" stroke-width="2.4" />
<text x="453.0" y="283.0" font-size="29" text-anchor="end" fill="#06068f" font-weight="normal" >40</text>
<text x="743.0" y="285.2" font-size="29" text-anchor="start" fill="#000" font-weight="normal" >400</text>
<line x1="465.0" y1="209.6" x2="473.5" y2="209.6" stroke="#06068f" stroke-width="2.4" />
<line x1="722.3" y1="209.6" x2="730.3" y2="209.6" stroke="#000" stroke-width="2.4" />
<text x="453.0" y="219.4" font-size="29" text-anchor="end" fill="#06068f" font-weight="normal" >50</text>
<text x="743.0" y="221.6" font-size="29" text-anchor="start" fill="#000" font-weight="normal" >500</text>
<line x1="465.0" y1="146.0" x2="473.5" y2="146.0" stroke="#06068f" stroke-width="2.4" />
<line x1="722.3" y1="146.0" x2="730.3" y2="146.0" stroke="#000" stroke-width="2.4" />
<text x="453.0" y="155.8" font-size="29" text-anchor="end" fill="#06068f" font-weight="normal" >60</text>
<text x="743.0" y="158.0" font-size="29" text-anchor="start" fill="#000" font-weight="normal" >600</text>
<line x1="465.0" y1="82.4" x2="473.5" y2="82.4" stroke="#06068f" stroke-width="2.4" />
<line x1="722.3" y1="82.4" x2="730.3" y2="82.4" stroke="#000" stroke-width="2.4" />
<text x="453.0" y="92.2" font-size="29" text-anchor="end" fill="#06068f" font-weight="normal" >70</text>
<text x="743.0" y="94.4" font-size="29" text-anchor="start" fill="#000" font-weight="normal" >700</text>
<line x1="473.8" y1="557.0" x2="473.8" y2="570.0" stroke="#000" stroke-width="2.4" />
<text x="473.8" y="602.5" font-size="29" text-anchor="middle" fill="#000" font-weight="normal" >5</text>
<line x1="535.2" y1="557.0" x2="535.2" y2="570.0" stroke="#000" stroke-width="2.4" />
<text x="535.2" y="602.5" font-size="29" text-anchor="middle" fill="#000" font-weight="normal" >4</text>
<line x1="597.3" y1="557.0" x2="597.3" y2="570.0" stroke="#000" stroke-width="2.4" />
<text x="597.3" y="602.5" font-size="29" text-anchor="middle" fill="#000" font-weight="normal" >3</text>
<line x1="660.0" y1="557.0" x2="660.0" y2="570.0" stroke="#000" stroke-width="2.4" />
<text x="660.0" y="602.5" font-size="29" text-anchor="middle" fill="#000" font-weight="normal" >2</text>
<line x1="722.3" y1="557.0" x2="722.3" y2="570.0" stroke="#000" stroke-width="2.4" />
<text x="722.3" y="602.5" font-size="29" text-anchor="middle" fill="#000" font-weight="normal" >1</text>
<line x1="505.0" y1="557.0" x2="505.0" y2="564.5" stroke="#000" stroke-width="2.4" />
<line x1="566.4" y1="557.0" x2="566.4" y2="564.5" stroke="#000" stroke-width="2.4" />
<line x1="629.0" y1="557.0" x2="629.0" y2="564.5" stroke="#000" stroke-width="2.4" />
<line x1="691.4" y1="557.0" x2="691.4" y2="564.5" stroke="#000" stroke-width="2.4" />
<text x="597.5" y="644.1" font-size="29.4" text-anchor="middle" fill="#000" font-weight="normal" >Voltage (V)</text>
<text transform="translate(396.7,311.0) rotate(-90)" font-size="29.4" text-anchor="middle" fill="#06068f">XRD step</text>
<text transform="translate(838,312.3) rotate(-90)" font-size="29.5" text-anchor="middle">Specific capacity (mAh g<tspan dy="-12" font-size="19">−1</tspan><tspan dy="12">)</tspan></text>
<text x="367.5" y="715.5" font-size="40" text-anchor="start" fill="#000" font-weight="bold" >d</text>
<g stroke="#8f8f8f" stroke-width="1.4" stroke-dasharray="4.5 4"><line x1="535.6" y1="748.7" x2="535.6" y2="1243"/><line x1="597.6" y1="748.7" x2="597.6" y2="1243"/><line x1="660.4" y1="748.7" x2="660.4" y2="1243"/><line x1="473.5" y1="1210.6" x2="722.3" y2="1210.6"/><line x1="473.5" y1="1139.0" x2="722.3" y2="1139.0"/><line x1="473.5" y1="1067.5" x2="722.3" y2="1067.5"/><line x1="473.5" y1="995.9" x2="722.3" y2="995.9"/><line x1="473.5" y1="924.4" x2="722.3" y2="924.4"/><line x1="473.5" y1="852.8" x2="722.3" y2="852.8"/><line x1="473.5" y1="781.3" x2="722.3" y2="781.3"/></g>
<rect x="556" y="757.6" width="82" height="30" fill="#fff"/>
<text x="594.0" y="781.6" font-size="29.4" text-anchor="middle" fill="#06068f" font-weight="normal" >a (Å)</text>
<path d="M591.8,1210.7 C587.2,1210.6 570.7,1210.7 564.5,1210.0 C558.3,1209.3 557.9,1209.8 554.6,1206.3 C551.3,1202.8 547.5,1196.0 544.6,1188.9 C541.7,1181.9 539.7,1172.7 537.2,1164.0 C534.7,1155.3 532.6,1146.6 529.7,1136.7 C526.8,1126.8 522.5,1114.8 519.8,1104.4 C517.1,1094.1 515.6,1084.1 513.5,1074.6 C511.4,1065.1 509.4,1055.5 507.3,1047.2 C505.2,1038.9 502.7,1029.5 501.1,1024.9 C499.5,1020.3 498.4,1020.3 497.9,1019.4 L497.9,1019.4 C499.5,1019.3 503.7,1020.4 507.3,1018.6 C510.9,1016.9 515.2,1012.8 519.8,1008.9 C524.4,1005.0 530.6,1000.3 534.7,995.3 C538.9,990.3 541.4,985.1 544.7,979.1 C548.0,973.1 551.3,964.8 554.6,959.2 C557.9,953.6 560.9,949.3 564.6,945.6 C568.3,941.9 572.0,939.6 577.0,936.9 C582.0,934.2 589.0,931.5 594.4,929.4 C599.8,927.3 605.2,926.3 609.3,924.4 C613.4,922.5 614.2,920.5 619.2,918.2 C624.2,915.9 633.7,913.3 639.1,910.8 C644.5,908.3 648.2,906.4 651.5,903.3 C654.8,900.2 656.1,896.9 659.0,892.1 C661.9,887.3 663.6,882.4 668.9,874.7 C674.2,867.1 687.1,851.0 690.8,846.2" fill="none" stroke="#000" stroke-width="2.6" stroke-linejoin="round"/>
<g fill="#06068f"><circle cx="569.5" cy="1210.6" r="2.8"/><circle cx="572.4" cy="1203.4" r="2.8"/><circle cx="576.4" cy="1196.3" r="2.8"/><circle cx="580.1" cy="1189.1" r="2.8"/><circle cx="584.4" cy="1182.0" r="2.8"/><circle cx="588.6" cy="1174.8" r="2.8"/><circle cx="592.6" cy="1167.7" r="2.8"/><circle cx="596.8" cy="1160.5" r="2.8"/><circle cx="601.8" cy="1153.4" r="2.8"/><circle cx="606.2" cy="1146.2" r="2.8"/><circle cx="611.2" cy="1139.0" r="2.8"/><circle cx="615.9" cy="1131.9" r="2.8"/><circle cx="620.4" cy="1124.7" r="2.8"/><circle cx="624.6" cy="1117.6" r="2.8"/><circle cx="628.4" cy="1110.4" r="2.8"/><circle cx="630.8" cy="1103.3" r="2.8"/><circle cx="633.3" cy="1096.1" r="2.8"/><circle cx="634.8" cy="1089.0" r="2.8"/><circle cx="637.1" cy="1081.8" r="2.8"/><circle cx="639.8" cy="1074.7" r="2.8"/><circle cx="642.3" cy="1067.5" r="2.8"/><circle cx="644.8" cy="1060.3" r="2.8"/><circle cx="647.2" cy="1053.2" r="2.8"/><circle cx="650.7" cy="1046.0" r="2.8"/><circle cx="654.7" cy="1038.9" r="2.8"/><circle cx="658.9" cy="1031.7" r="2.8"/><circle cx="663.1" cy="1024.6" r="2.8"/><circle cx="666.9" cy="1017.4" r="2.8"/><circle cx="651.5" cy="1010.3" r="2.8"/><circle cx="637.2" cy="1003.1" r="2.8"/><circle cx="620.5" cy="995.9" r="2.8"/><circle cx="608.5" cy="988.8" r="2.8"/><circle cx="596.9" cy="981.6" r="2.8"/><circle cx="586.4" cy="974.5" r="2.8"/><circle cx="577.0" cy="967.3" r="2.8"/><circle cx="567.5" cy="960.2" r="2.8"/><circle cx="560.8" cy="953.0" r="2.8"/><circle cx="552.9" cy="945.9" r="2.8"/><circle cx="546.7" cy="938.7" r="2.8"/><circle cx="542.2" cy="931.6" r="2.8"/><circle cx="539.2" cy="924.4" r="2.8"/><circle cx="537.2" cy="917.2" r="2.8"/><circle cx="535.2" cy="910.1" r="2.8"/><circle cx="533.5" cy="902.9" r="2.8"/><circle cx="532.2" cy="895.8" r="2.8"/><circle cx="531.5" cy="888.6" r="2.8"/><circle cx="530.5" cy="881.5" r="2.8"/><circle cx="529.8" cy="874.3" r="2.8"/><circle cx="529.0" cy="867.2" r="2.8"/><circle cx="528.0" cy="860.0" r="2.8"/><circle cx="527.8" cy="852.8" r="2.8"/><circle cx="527.3" cy="845.7" r="2.8"/></g>
<line x1="473.5" y1="743.7" x2="473.5" y2="1243.0" stroke="#06068f" stroke-width="2.4" />
<line x1="472.3" y1="748.7" x2="722.3" y2="748.7" stroke="#06068f" stroke-width="2.4" />
<line x1="722.3" y1="747.7" x2="722.3" y2="1244.2" stroke="#000" stroke-width="2.4" />
<line x1="472.3" y1="1243.0" x2="723.5" y2="1243.0" stroke="#000" stroke-width="2.4" />
<line x1="523.2" y1="748.7" x2="523.2" y2="740.7" stroke="#06068f" stroke-width="2.4" />
<line x1="572.9" y1="748.7" x2="572.9" y2="743.7" stroke="#06068f" stroke-width="2.4" />
<line x1="622.6" y1="748.7" x2="622.6" y2="740.7" stroke="#06068f" stroke-width="2.4" />
<line x1="672.3" y1="748.7" x2="672.3" y2="743.7" stroke="#06068f" stroke-width="2.4" />
<line x1="722.3" y1="748.7" x2="722.3" y2="740.7" stroke="#06068f" stroke-width="2.4" />
<text x="523.2" y="727.3" font-size="29" text-anchor="middle" fill="#06068f" font-weight="normal" >4.16</text>
<text x="622.6" y="727.3" font-size="29" text-anchor="middle" fill="#06068f" font-weight="normal" >4.12</text>
<text x="722.0" y="727.3" font-size="29" text-anchor="middle" fill="#06068f" font-weight="normal" >4.08</text>
<line x1="465.0" y1="1210.6" x2="473.5" y2="1210.6" stroke="#06068f" stroke-width="2.4" />
<line x1="722.3" y1="1210.6" x2="730.3" y2="1210.6" stroke="#000" stroke-width="2.4" />
<text x="453.0" y="1220.4" font-size="29" text-anchor="end" fill="#06068f" font-weight="normal" >0</text>
<text x="743.0" y="1222.6" font-size="29" text-anchor="start" fill="#000" font-weight="normal" >0</text>
<line x1="465.0" y1="1139.0" x2="473.5" y2="1139.0" stroke="#06068f" stroke-width="2.4" />
<line x1="722.3" y1="1139.0" x2="730.3" y2="1139.0" stroke="#000" stroke-width="2.4" />
<text x="453.0" y="1148.8" font-size="29" text-anchor="end" fill="#06068f" font-weight="normal" >10</text>
<text x="743.0" y="1151.0" font-size="29" text-anchor="start" fill="#000" font-weight="normal" >100</text>
<line x1="465.0" y1="1067.5" x2="473.5" y2="1067.5" stroke="#06068f" stroke-width="2.4" />
<line x1="722.3" y1="1067.5" x2="730.3" y2="1067.5" stroke="#000" stroke-width="2.4" />
<text x="453.0" y="1077.3" font-size="29" text-anchor="end" fill="#06068f" font-weight="normal" >20</text>
<text x="743.0" y="1079.5" font-size="29" text-anchor="start" fill="#000" font-weight="normal" >200</text>
<line x1="465.0" y1="995.9" x2="473.5" y2="995.9" stroke="#06068f" stroke-width="2.4" />
<line x1="722.3" y1="995.9" x2="730.3" y2="995.9" stroke="#000" stroke-width="2.4" />
<text x="453.0" y="1005.7" font-size="29" text-anchor="end" fill="#06068f" font-weight="normal" >30</text>
<text x="743.0" y="1007.9" font-size="29" text-anchor="start" fill="#000" font-weight="normal" >300</text>
<line x1="465.0" y1="924.4" x2="473.5" y2="924.4" stroke="#06068f" stroke-width="2.4" />
<line x1="722.3" y1="924.4" x2="730.3" y2="924.4" stroke="#000" stroke-width="2.4" />
<text x="453.0" y="934.2" font-size="29" text-anchor="end" fill="#06068f" font-weight="normal" >40</text>
<text x="743.0" y="936.4" font-size="29" text-anchor="start" fill="#000" font-weight="normal" >400</text>
<line x1="465.0" y1="852.8" x2="473.5" y2="852.8" stroke="#06068f" stroke-width="2.4" />
<line x1="722.3" y1="852.8" x2="730.3" y2="852.8" stroke="#000" stroke-width="2.4" />
<text x="453.0" y="862.6" font-size="29" text-anchor="end" fill="#06068f" font-weight="normal" >50</text>
<text x="743.0" y="864.8" font-size="29" text-anchor="start" fill="#000" font-weight="normal" >500</text>
<line x1="465.0" y1="781.3" x2="473.5" y2="781.3" stroke="#06068f" stroke-width="2.4" />
<line x1="722.3" y1="781.3" x2="730.3" y2="781.3" stroke="#000" stroke-width="2.4" />
<text x="453.0" y="791.1" font-size="29" text-anchor="end" fill="#06068f" font-weight="normal" >60</text>
<text x="743.0" y="793.3" font-size="29" text-anchor="start" fill="#000" font-weight="normal" >600</text>
<line x1="473.8" y1="1243.0" x2="473.8" y2="1256.0" stroke="#000" stroke-width="2.4" />
<text x="473.8" y="1288.5" font-size="29" text-anchor="middle" fill="#000" font-weight="normal" >5</text>
<line x1="535.2" y1="1243.0" x2="535.2" y2="1256.0" stroke="#000" stroke-width="2.4" />
<text x="535.2" y="1288.5" font-size="29" text-anchor="middle" fill="#000" font-weight="normal" >4</text>
<line x1="597.3" y1="1243.0" x2="597.3" y2="1256.0" stroke="#000" stroke-width="2.4" />
<text x="597.3" y="1288.5" font-size="29" text-anchor="middle" fill="#000" font-weight="normal" >3</text>
<line x1="660.0" y1="1243.0" x2="660.0" y2="1256.0" stroke="#000" stroke-width="2.4" />
<text x="660.0" y="1288.5" font-size="29" text-anchor="middle" fill="#000" font-weight="normal" >2</text>
<line x1="722.3" y1="1243.0" x2="722.3" y2="1256.0" stroke="#000" stroke-width="2.4" />
<text x="722.3" y="1288.5" font-size="29" text-anchor="middle" fill="#000" font-weight="normal" >1</text>
<line x1="505.0" y1="1243.0" x2="505.0" y2="1250.5" stroke="#000" stroke-width="2.4" />
<line x1="566.4" y1="1243.0" x2="566.4" y2="1250.5" stroke="#000" stroke-width="2.4" />
<line x1="629.0" y1="1243.0" x2="629.0" y2="1250.5" stroke="#000" stroke-width="2.4" />
<line x1="691.4" y1="1243.0" x2="691.4" y2="1250.5" stroke="#000" stroke-width="2.4" />
<text x="585.2" y="1333.4" font-size="29.4" text-anchor="middle" fill="#000" font-weight="normal" >Voltage (V)</text>
<text transform="translate(396.7,997.0) rotate(-90)" font-size="29.4" text-anchor="middle" fill="#06068f">XRD step</text>
<text transform="translate(838,998.3) rotate(-90)" font-size="29.5" text-anchor="middle">Specific capacity (mAh g<tspan dy="-12" font-size="19">−1</tspan><tspan dy="12">)</tspan></text>
</svg></body></html>
